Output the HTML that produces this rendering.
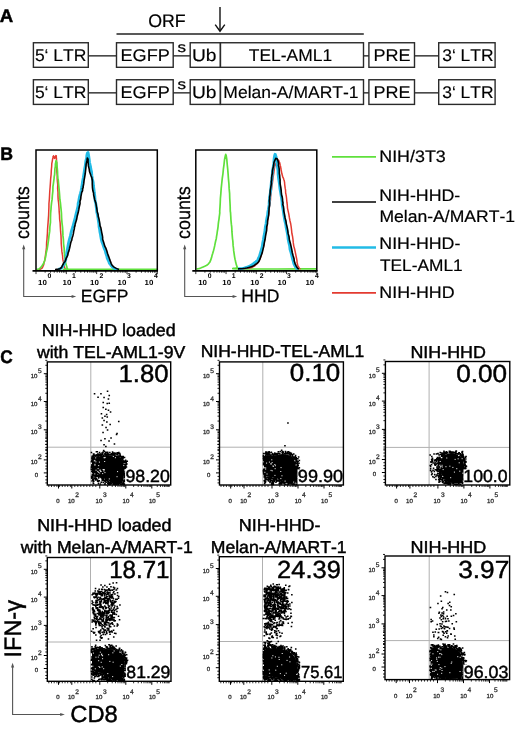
<!DOCTYPE html>
<html><head><meta charset="utf-8"><title>Figure</title>
<style>
html,body{margin:0;padding:0;background:#fff;}
body{width:520px;height:729px;overflow:hidden;}
svg{display:block;font-family:"Liberation Sans", sans-serif;text-rendering:geometricPrecision;font-kerning:none;will-change:transform;}
</style></head><body>
<svg width="520" height="729" viewBox="0 0 520 729">
<rect x="0" y="0" width="520" height="729" fill="#fff"/>
<text x="-0.16" y="21.70" font-size="18.20" font-weight="bold" fill="#000" stroke="#000" stroke-width="0.45" textLength="13.46" lengthAdjust="spacingAndGlyphs">A</text>
<text x="148.26" y="27.00" font-size="18.19" fill="#000" stroke="#000" stroke-width="0.20" textLength="37.45" lengthAdjust="spacingAndGlyphs">ORF</text>
<line x1="220.00" y1="6.90" x2="220.00" y2="30.50" stroke="#111" stroke-width="1.40"/>
<path d="M215.2 24.6 L220 31.2 L224.8 24.6" stroke="#111" stroke-width="1.4" fill="none"/>
<line x1="116.50" y1="34.00" x2="363.80" y2="34.00" stroke="#222" stroke-width="1.30"/>
<rect x="33.40" y="42.75" width="54.90" height="24.55" stroke="#2a2a2a" stroke-width="1.40" fill="none"/>
<rect x="116.50" y="42.75" width="56.70" height="24.55" stroke="#2a2a2a" stroke-width="1.40" fill="none"/>
<rect x="190.20" y="42.75" width="30.20" height="24.55" stroke="#2a2a2a" stroke-width="1.40" fill="none"/>
<rect x="220.40" y="42.75" width="143.10" height="24.55" stroke="#2a2a2a" stroke-width="1.40" fill="none"/>
<rect x="368.90" y="42.75" width="45.60" height="24.55" stroke="#2a2a2a" stroke-width="1.40" fill="none"/>
<rect x="438.70" y="42.75" width="56.40" height="24.55" stroke="#2a2a2a" stroke-width="1.40" fill="none"/>
<line x1="88.30" y1="55.85" x2="116.50" y2="55.85" stroke="#2a2a2a" stroke-width="1.40"/>
<line x1="173.20" y1="55.85" x2="190.20" y2="55.85" stroke="#2a2a2a" stroke-width="1.40"/>
<line x1="363.50" y1="55.85" x2="368.90" y2="55.85" stroke="#2a2a2a" stroke-width="1.40"/>
<line x1="414.50" y1="55.85" x2="438.70" y2="55.85" stroke="#2a2a2a" stroke-width="1.40"/>
<text x="34.90" y="60.60" font-size="17.00" fill="#000" stroke="#000" stroke-width="0.15" textLength="51.51" lengthAdjust="spacingAndGlyphs">5‘ LTR</text>
<text x="120.51" y="60.60" font-size="17.00" fill="#000" stroke="#000" stroke-width="0.15" textLength="49.34" lengthAdjust="spacingAndGlyphs">EGFP</text>
<text x="191.92" y="60.60" font-size="17.00" fill="#000" stroke="#000" stroke-width="0.15" textLength="24.59" lengthAdjust="spacingAndGlyphs">Ub</text>
<text x="248.81" y="60.60" font-size="17.00" fill="#000" stroke="#000" stroke-width="0.15" textLength="83.34" lengthAdjust="spacingAndGlyphs">TEL-AML1</text>
<text x="373.42" y="60.60" font-size="17.00" fill="#000" stroke="#000" stroke-width="0.15" textLength="37.05" lengthAdjust="spacingAndGlyphs">PRE</text>
<text x="442.24" y="60.60" font-size="17.00" fill="#000" stroke="#000" stroke-width="0.15" textLength="51.27" lengthAdjust="spacingAndGlyphs">3‘ LTR</text>
<text x="177.53" y="51.70" font-size="14.54" fill="#000" stroke="#000" stroke-width="0.25" textLength="8.49" lengthAdjust="spacingAndGlyphs">s</text>
<rect x="33.40" y="79.75" width="54.90" height="24.65" stroke="#2a2a2a" stroke-width="1.40" fill="none"/>
<rect x="116.50" y="79.75" width="56.70" height="24.65" stroke="#2a2a2a" stroke-width="1.40" fill="none"/>
<rect x="190.20" y="79.75" width="30.20" height="24.65" stroke="#2a2a2a" stroke-width="1.40" fill="none"/>
<rect x="220.40" y="79.75" width="143.10" height="24.65" stroke="#2a2a2a" stroke-width="1.40" fill="none"/>
<rect x="368.90" y="79.75" width="45.60" height="24.65" stroke="#2a2a2a" stroke-width="1.40" fill="none"/>
<rect x="438.70" y="79.75" width="56.40" height="24.65" stroke="#2a2a2a" stroke-width="1.40" fill="none"/>
<line x1="88.30" y1="92.85" x2="116.50" y2="92.85" stroke="#2a2a2a" stroke-width="1.40"/>
<line x1="173.20" y1="92.85" x2="190.20" y2="92.85" stroke="#2a2a2a" stroke-width="1.40"/>
<line x1="363.50" y1="92.85" x2="368.90" y2="92.85" stroke="#2a2a2a" stroke-width="1.40"/>
<line x1="414.50" y1="92.85" x2="438.70" y2="92.85" stroke="#2a2a2a" stroke-width="1.40"/>
<text x="34.90" y="97.60" font-size="17.00" fill="#000" stroke="#000" stroke-width="0.15" textLength="51.51" lengthAdjust="spacingAndGlyphs">5‘ LTR</text>
<text x="120.51" y="97.60" font-size="17.00" fill="#000" stroke="#000" stroke-width="0.15" textLength="49.34" lengthAdjust="spacingAndGlyphs">EGFP</text>
<text x="191.92" y="97.60" font-size="17.00" fill="#000" stroke="#000" stroke-width="0.15" textLength="24.59" lengthAdjust="spacingAndGlyphs">Ub</text>
<text x="223.36" y="97.60" font-size="17.00" fill="#000" stroke="#000" stroke-width="0.15" textLength="135.19" lengthAdjust="spacingAndGlyphs">Melan-A/MART-1</text>
<text x="373.42" y="97.60" font-size="17.00" fill="#000" stroke="#000" stroke-width="0.15" textLength="37.05" lengthAdjust="spacingAndGlyphs">PRE</text>
<text x="442.24" y="97.60" font-size="17.00" fill="#000" stroke="#000" stroke-width="0.15" textLength="51.27" lengthAdjust="spacingAndGlyphs">3‘ LTR</text>
<text x="177.53" y="88.70" font-size="14.54" fill="#000" stroke="#000" stroke-width="0.25" textLength="8.49" lengthAdjust="spacingAndGlyphs">s</text>
<text x="0.22" y="159.60" font-size="18.20" font-weight="bold" fill="#000" stroke="#000" stroke-width="0.45" textLength="12.79" lengthAdjust="spacingAndGlyphs">B</text>
<path d="M39.00 269.40 L39.14 269.40 L39.34 269.41 L39.62 269.36 L40.00 269.20 L40.53 268.99 L41.19 268.74 L41.88 268.30 L42.50 267.50 L43.05 266.26 L43.71 264.80 L43.93 262.75 L44.60 261.07 L44.93 259.03 L45.24 257.09 L45.54 254.80 L45.78 252.57 L46.14 250.29 L46.47 247.54 L46.55 244.73 L46.66 241.86 L47.00 239.11 L47.17 236.39 L47.41 233.26 L47.52 229.86 L47.77 226.37 L48.06 222.87 L48.34 218.77 L48.62 215.09 L48.75 211.28 L48.91 207.37 L48.95 203.51 L49.34 199.30 L49.54 195.42 L49.76 191.27 L50.09 187.25 L50.40 183.10 L50.66 178.80 L51.13 174.21 L51.33 170.16 L51.67 166.50 L51.78 163.73 L52.18 161.54 L52.48 159.86 L52.72 158.44 L52.96 157.39 L53.05 156.49 L53.31 156.00 L53.44 155.71 L53.76 156.36 L54.06 157.04 L54.40 158.16 L54.72 158.41 L55.02 157.87 L55.38 156.88 L55.62 156.06 L55.88 155.61 L56.32 155.93 L56.28 156.98 L56.46 158.26 L56.46 159.96 L56.61 162.49 L56.67 165.60 L56.75 168.82 L56.86 171.93 L57.23 175.04 L57.19 178.41 L57.40 181.49 L57.75 184.90 L57.62 188.50 L57.97 192.30 L57.99 195.84 L58.16 199.38 L58.59 202.69 L58.85 205.74 L59.06 208.79 L59.19 211.92 L59.51 215.48 L59.62 219.21 L60.13 222.94 L60.33 226.97 L60.58 231.17 L61.00 235.74 L61.17 240.17 L61.26 244.02 L61.53 246.93 L61.72 249.52 L61.96 251.92 L62.30 254.15 L62.65 256.14 L62.66 257.76 L62.89 259.45 L63.24 261.09 L63.52 262.48 L63.71 264.04 L63.86 265.23 L64.30 266.50 L64.59 267.38 L64.88 268.06 L65.18 268.59 L65.50 269.00 L65.89 269.28 L66.33 269.41 L66.72 269.46 L67.00 269.50" stroke="#e33a30" stroke-width="1.50" fill="none" stroke-linejoin="round"/>
<path d="M36.50 269.40 L36.68 269.41 L36.94 269.44 L37.27 269.42 L37.70 269.30 L38.21 269.17 L38.81 269.03 L39.50 268.67 L40.30 267.90 L41.26 266.80 L42.24 265.53 L43.55 263.49 L44.50 260.98 L45.48 257.55 L46.21 252.99 L47.26 248.47 L47.98 243.85 L48.53 239.83 L49.02 235.66 L49.70 231.14 L49.86 227.01 L50.46 222.45 L50.48 217.80 L50.63 213.28 L50.98 209.50 L51.16 206.52 L51.39 204.37 L51.66 202.05 L52.10 199.42 L52.37 195.46 L52.84 191.20 L52.95 186.63 L53.47 183.06 L53.83 180.39 L54.07 178.54 L54.18 176.78 L54.61 174.80 L54.77 172.05 L54.89 168.96 L55.36 166.19 L55.40 164.01 L55.76 162.55 L55.83 161.46 L56.03 160.97 L56.21 160.67 L56.37 160.75 L56.41 161.54 L56.87 162.53 L56.87 163.90 L57.07 166.36 L57.32 169.05 L57.53 171.94 L57.60 174.84 L57.80 176.74 L57.87 178.51 L58.28 180.26 L58.49 183.10 L58.87 186.75 L59.27 191.09 L59.63 195.53 L59.87 199.51 L60.33 202.10 L60.57 204.38 L60.78 206.56 L61.11 209.54 L61.44 213.35 L61.60 217.74 L61.97 222.51 L62.51 227.09 L62.80 231.38 L62.95 235.63 L63.40 239.64 L63.56 243.85 L64.16 248.40 L64.38 253.13 L64.89 257.29 L65.30 261.01 L65.79 263.63 L66.46 265.74 L66.94 267.31 L67.50 268.50 L66.12 269.21 L63.44 269.42 L63.42 269.39 L70.00 269.40 L87.85 269.46 L113.66 269.46 L139.39 269.42 L157.00 269.40" stroke="#5fe03c" stroke-width="1.70" fill="none" stroke-linejoin="round"/>
<path d="M58.00 269.50 L58.66 269.27 L59.62 268.94 L60.65 268.52 L61.50 268.00 L62.11 267.40 L62.59 266.72 L62.93 265.94 L63.45 265.04 L64.03 263.97 L64.26 263.45 L64.85 261.96 L65.70 259.99 L66.24 256.79 L66.81 252.61 L67.53 248.48 L68.31 244.10 L69.33 239.66 L70.44 235.64 L71.39 231.14 L72.75 226.99 L73.88 222.60 L75.14 217.90 L76.20 213.34 L77.18 209.47 L77.99 206.00 L78.12 203.46 L78.79 201.24 L79.05 198.92 L79.47 196.92 L79.88 195.26 L80.47 193.43 L81.07 190.77 L81.79 187.10 L82.42 182.36 L83.23 178.05 L83.96 173.53 L84.60 169.16 L85.37 165.04 L85.83 160.95 L86.64 158.20 L86.77 155.74 L87.23 153.66 L87.48 152.87 L88.05 152.52 L88.32 153.80 L88.75 156.33 L89.22 159.48 L89.50 162.20 L89.90 164.19 L90.51 166.52 L90.87 169.17 L91.54 171.86 L91.83 175.39 L92.46 179.00 L93.19 182.43 L93.48 186.01 L93.97 189.43 L94.30 192.80 L94.81 195.99 L94.97 199.09 L95.26 201.56 L95.91 204.01 L96.11 206.16 L96.47 209.03 L96.78 212.16 L97.55 215.32 L98.07 218.88 L98.57 221.94 L98.98 224.81 L99.06 227.01 L99.67 229.76 L99.90 231.98 L100.47 234.45 L100.84 236.99 L101.35 239.61 L101.92 241.95 L102.83 244.13 L103.58 246.64 L104.32 248.65 L105.32 250.90 L105.80 253.35 L106.69 255.67 L107.22 258.10 L108.13 260.18 L108.87 261.72 L109.40 263.30 L110.37 264.42 L110.89 265.35 L111.82 266.44 L112.66 267.22 L113.53 267.86 L114.40 268.40 L115.37 268.81 L116.41 269.08 L117.35 269.26 L118.00 269.40" stroke="#22bbe6" stroke-width="2.80" fill="none" stroke-linejoin="round"/>
<path d="M55.00 269.50 L55.54 269.47 L56.31 269.42 L57.18 269.35 L58.00 269.20 L58.75 269.06 L59.49 268.91 L60.24 268.60 L61.00 268.00 L61.78 266.97 L62.46 265.43 L63.32 263.99 L63.88 262.75 L64.97 261.74 L65.51 260.27 L65.98 259.12 L66.34 257.80 L66.84 256.98 L67.58 255.69 L67.99 254.04 L68.20 252.66 L68.94 250.84 L69.57 248.26 L70.00 246.27 L70.50 243.84 L71.02 241.78 L71.77 240.21 L72.10 237.96 L72.80 236.04 L73.34 233.88 L73.73 231.22 L74.31 228.90 L74.53 226.90 L75.11 225.60 L74.85 225.24 L75.12 224.41 L75.59 222.72 L76.54 219.85 L77.16 216.28 L78.20 212.56 L78.83 209.42 L79.35 206.48 L80.05 203.63 L79.99 201.23 L80.73 199.06 L80.91 196.59 L81.34 194.40 L81.70 192.47 L82.50 190.83 L82.67 189.67 L82.48 188.62 L83.14 188.01 L83.16 186.52 L83.70 183.92 L84.07 180.43 L84.72 176.89 L85.24 173.73 L85.75 168.99 L86.15 164.19 L87.04 160.16 L87.30 158.00 L88.07 159.14 L88.07 162.04 L88.40 165.92 L89.19 169.12 L89.49 171.50 L90.30 173.69 L90.93 175.45 L91.84 177.75 L92.35 180.79 L92.28 184.16 L92.45 187.57 L92.87 190.79 L93.57 193.06 L93.62 195.10 L94.16 197.03 L94.57 199.18 L94.86 200.37 L95.55 201.98 L95.89 203.28 L96.20 205.08 L96.58 207.20 L96.92 209.20 L97.27 212.01 L98.10 214.41 L98.27 216.58 L98.95 218.87 L99.40 221.11 L99.78 223.49 L100.05 225.91 L100.88 227.79 L101.37 230.53 L101.68 232.37 L102.22 234.71 L102.65 237.28 L102.63 239.33 L103.47 241.83 L104.22 244.31 L104.77 246.15 L105.98 248.46 L106.79 250.81 L107.56 253.53 L108.41 255.86 L109.22 258.01 L109.89 260.12 L110.70 262.04 L111.15 263.37 L111.61 264.38 L112.65 265.69 L113.49 266.61 L114.46 267.33 L115.42 267.91 L116.30 268.40 L117.11 268.79 L117.88 269.07 L118.54 269.26 L119.00 269.40" stroke="#000" stroke-width="1.60" fill="none" stroke-linejoin="round"/>
<path d="M36.00 270.90 L36.00 150.00 L157.30 150.00 L157.30 270.90" stroke="#000" stroke-width="1.5" fill="none"/>
<line x1="32.50" y1="270.90" x2="158.00" y2="270.90" stroke="#000" stroke-width="1.60"/>
<line x1="36.00" y1="270.90" x2="36.00" y2="274.10" stroke="#000" stroke-width="0.80"/>
<line x1="45.13" y1="270.90" x2="45.13" y2="272.70" stroke="#000" stroke-width="0.80"/>
<line x1="50.47" y1="270.90" x2="50.47" y2="272.70" stroke="#000" stroke-width="0.80"/>
<line x1="54.26" y1="270.90" x2="54.26" y2="272.70" stroke="#000" stroke-width="0.80"/>
<line x1="57.20" y1="270.90" x2="57.20" y2="272.70" stroke="#000" stroke-width="0.80"/>
<line x1="59.60" y1="270.90" x2="59.60" y2="272.70" stroke="#000" stroke-width="0.80"/>
<line x1="61.63" y1="270.90" x2="61.63" y2="272.70" stroke="#000" stroke-width="0.80"/>
<line x1="63.39" y1="270.90" x2="63.39" y2="272.70" stroke="#000" stroke-width="0.80"/>
<line x1="64.94" y1="270.90" x2="64.94" y2="272.70" stroke="#000" stroke-width="0.80"/>
<line x1="66.33" y1="270.90" x2="66.33" y2="274.10" stroke="#000" stroke-width="0.80"/>
<line x1="75.45" y1="270.90" x2="75.45" y2="272.70" stroke="#000" stroke-width="0.80"/>
<line x1="80.79" y1="270.90" x2="80.79" y2="272.70" stroke="#000" stroke-width="0.80"/>
<line x1="84.58" y1="270.90" x2="84.58" y2="272.70" stroke="#000" stroke-width="0.80"/>
<line x1="87.52" y1="270.90" x2="87.52" y2="272.70" stroke="#000" stroke-width="0.80"/>
<line x1="89.92" y1="270.90" x2="89.92" y2="272.70" stroke="#000" stroke-width="0.80"/>
<line x1="91.95" y1="270.90" x2="91.95" y2="272.70" stroke="#000" stroke-width="0.80"/>
<line x1="93.71" y1="270.90" x2="93.71" y2="272.70" stroke="#000" stroke-width="0.80"/>
<line x1="95.26" y1="270.90" x2="95.26" y2="272.70" stroke="#000" stroke-width="0.80"/>
<line x1="96.65" y1="270.90" x2="96.65" y2="274.10" stroke="#000" stroke-width="0.80"/>
<line x1="105.78" y1="270.90" x2="105.78" y2="272.70" stroke="#000" stroke-width="0.80"/>
<line x1="111.12" y1="270.90" x2="111.12" y2="272.70" stroke="#000" stroke-width="0.80"/>
<line x1="114.91" y1="270.90" x2="114.91" y2="272.70" stroke="#000" stroke-width="0.80"/>
<line x1="117.85" y1="270.90" x2="117.85" y2="272.70" stroke="#000" stroke-width="0.80"/>
<line x1="120.25" y1="270.90" x2="120.25" y2="272.70" stroke="#000" stroke-width="0.80"/>
<line x1="122.28" y1="270.90" x2="122.28" y2="272.70" stroke="#000" stroke-width="0.80"/>
<line x1="124.04" y1="270.90" x2="124.04" y2="272.70" stroke="#000" stroke-width="0.80"/>
<line x1="125.59" y1="270.90" x2="125.59" y2="272.70" stroke="#000" stroke-width="0.80"/>
<line x1="126.98" y1="270.90" x2="126.98" y2="274.10" stroke="#000" stroke-width="0.80"/>
<line x1="136.10" y1="270.90" x2="136.10" y2="272.70" stroke="#000" stroke-width="0.80"/>
<line x1="141.44" y1="270.90" x2="141.44" y2="272.70" stroke="#000" stroke-width="0.80"/>
<line x1="145.23" y1="270.90" x2="145.23" y2="272.70" stroke="#000" stroke-width="0.80"/>
<line x1="148.17" y1="270.90" x2="148.17" y2="272.70" stroke="#000" stroke-width="0.80"/>
<line x1="150.57" y1="270.90" x2="150.57" y2="272.70" stroke="#000" stroke-width="0.80"/>
<line x1="152.60" y1="270.90" x2="152.60" y2="272.70" stroke="#000" stroke-width="0.80"/>
<line x1="154.36" y1="270.90" x2="154.36" y2="272.70" stroke="#000" stroke-width="0.80"/>
<line x1="155.91" y1="270.90" x2="155.91" y2="272.70" stroke="#000" stroke-width="0.80"/>
<line x1="157.30" y1="270.90" x2="157.30" y2="274.10" stroke="#000" stroke-width="0.80"/>
<text x="38.10" y="285.10" font-size="7.40" font-weight="bold" fill="#000" text-anchor="start" textLength="8.80" lengthAdjust="spacingAndGlyphs">10</text>
<text x="47.60" y="278.40" font-size="6.80" font-weight="bold" fill="#000" text-anchor="start">0</text>
<text x="62.50" y="285.10" font-size="7.40" font-weight="bold" fill="#000" text-anchor="start" textLength="8.80" lengthAdjust="spacingAndGlyphs">10</text>
<text x="72.00" y="278.40" font-size="6.80" font-weight="bold" fill="#000" text-anchor="start">1</text>
<text x="90.10" y="285.10" font-size="7.40" font-weight="bold" fill="#000" text-anchor="start" textLength="8.80" lengthAdjust="spacingAndGlyphs">10</text>
<text x="99.60" y="278.40" font-size="6.80" font-weight="bold" fill="#000" text-anchor="start">2</text>
<text x="117.60" y="285.10" font-size="7.40" font-weight="bold" fill="#000" text-anchor="start" textLength="8.80" lengthAdjust="spacingAndGlyphs">10</text>
<text x="127.10" y="278.40" font-size="6.80" font-weight="bold" fill="#000" text-anchor="start">3</text>
<text x="144.60" y="285.10" font-size="7.40" font-weight="bold" fill="#000" text-anchor="start" textLength="8.80" lengthAdjust="spacingAndGlyphs">10</text>
<text x="154.10" y="278.40" font-size="6.80" font-weight="bold" fill="#000" text-anchor="start">4</text>
<text x="80.76" y="302.30" font-size="17.76" fill="#000" stroke="#000" stroke-width="0.25" textLength="47.66" lengthAdjust="spacingAndGlyphs">EGFP</text>
<text transform="translate(28.60 238.96) rotate(-90)" font-size="19.34" fill="#000" stroke="#000" stroke-width="0.25" textLength="52.71" lengthAdjust="spacingAndGlyphs">counts</text>
<path d="M23.70 247.5 L23.70 296.5 L72.70 296.5" stroke="#555" stroke-width="1.1" fill="none"/>
<path d="M23.70 244.6 L22.10 249.2 L25.30 249.2 Z" fill="#555"/>
<path d="M76.20 296.5 L71.60 294.9 L71.60 298.1 Z" fill="#555"/>
<path d="M196.50 268.90 L196.72 268.91 L197.01 268.93 L197.43 268.91 L198.00 268.80 L198.74 268.60 L199.64 268.33 L200.66 267.97 L201.80 267.50 L203.16 266.91 L204.71 266.21 L206.25 265.47 L207.56 264.69 L208.48 263.89 L209.06 262.99 L209.86 262.08 L210.48 260.72 L211.03 259.14 L211.64 257.33 L212.11 255.19 L212.76 253.18 L213.47 250.77 L214.10 248.35 L214.67 245.88 L215.10 243.57 L215.65 241.02 L216.27 238.72 L216.56 236.31 L217.01 233.84 L217.30 231.48 L217.72 229.09 L218.07 226.56 L218.27 224.13 L218.58 221.67 L218.97 219.30 L219.25 216.89 L219.57 214.56 L219.78 212.81 L219.71 211.35 L219.81 209.53 L220.00 206.90 L220.21 203.23 L220.39 198.54 L220.85 193.45 L221.20 188.41 L221.70 183.72 L222.23 178.68 L222.92 173.82 L223.37 169.17 L224.00 164.52 L224.53 159.66 L225.29 155.90 L225.71 154.39 L226.24 155.79 L226.83 159.70 L227.23 164.55 L227.71 169.16 L228.08 173.67 L228.42 178.55 L228.91 183.73 L229.13 188.41 L229.60 193.44 L229.75 198.43 L230.02 203.23 L230.19 206.98 L230.24 209.70 L230.32 211.35 L230.55 212.74 L230.65 214.69 L230.80 216.92 L230.90 219.26 L231.13 221.82 L231.36 224.19 L231.68 226.67 L231.84 228.98 L231.91 231.44 L232.10 233.76 L232.29 236.15 L232.51 238.75 L232.86 241.11 L233.00 243.47 L233.15 245.91 L233.53 248.50 L233.69 250.89 L234.05 253.14 L234.36 255.30 L234.67 257.35 L235.02 259.19 L235.45 260.84 L235.64 262.13 L235.96 263.02 L236.07 263.81 L236.35 264.63 L236.62 265.49 L236.84 266.20 L237.06 266.90 L237.30 267.50 L235.79 267.99 L233.11 268.38 L232.83 268.68 L238.50 268.90 L254.33 269.00 L277.32 268.99 L300.29 268.93 L316.00 268.90" stroke="#5fe03c" stroke-width="1.70" fill="none" stroke-linejoin="round"/>
<path d="M242.00 268.90 L243.51 268.78 L245.69 268.61 L248.02 268.36 L250.00 268.00 L251.48 267.53 L252.75 266.98 L253.89 266.30 L255.09 265.60 L256.09 264.55 L256.98 263.71 L258.08 262.57 L258.96 261.08 L259.76 259.23 L260.66 256.94 L261.32 254.62 L261.91 252.02 L262.76 249.14 L263.40 246.24 L264.03 243.02 L264.38 240.09 L265.13 237.01 L265.42 233.97 L266.06 231.01 L266.64 228.03 L266.90 224.84 L267.43 221.63 L268.07 218.21 L268.44 215.06 L268.92 212.10 L269.08 208.96 L269.64 205.99 L270.03 202.88 L270.50 199.80 L270.64 196.55 L271.07 193.11 L271.50 189.89 L271.78 187.04 L272.28 183.79 L272.67 180.83 L272.95 178.12 L273.50 174.78 L273.93 171.53 L274.38 168.66 L274.87 165.98 L275.59 164.13 L276.18 162.72 L276.69 161.91 L277.05 161.12 L277.38 160.54 L277.85 160.18 L278.08 160.18 L278.37 160.08 L278.77 160.32 L278.97 160.82 L279.13 161.12 L279.39 162.03 L279.72 162.87 L280.00 164.21 L280.21 165.40 L280.71 167.03 L280.91 168.97 L281.41 171.17 L281.82 173.52 L282.39 175.45 L282.79 177.06 L283.33 177.99 L283.67 178.95 L283.97 180.00 L284.35 181.06 L284.39 181.60 L284.60 182.56 L284.66 184.08 L284.89 185.90 L285.18 188.16 L285.56 190.22 L285.61 192.73 L286.02 194.72 L286.40 196.99 L286.63 198.99 L286.78 200.96 L286.96 202.75 L287.20 204.12 L287.35 205.76 L287.48 208.04 L288.10 210.89 L288.81 214.05 L289.36 217.49 L289.98 220.74 L290.74 224.00 L291.21 227.04 L291.60 230.32 L291.89 233.53 L292.58 236.53 L292.99 239.68 L293.31 242.90 L293.77 246.09 L294.68 249.28 L295.38 252.68 L296.04 255.99 L296.64 258.78 L297.01 260.74 L297.03 262.59 L297.44 263.82 L297.56 264.90 L298.10 266.09 L298.56 267.00 L299.01 267.73 L299.40 268.30 L299.74 268.65 L300.06 268.81 L300.32 268.86 L300.50 268.90" stroke="#e33a30" stroke-width="1.50" fill="none" stroke-linejoin="round"/>
<path d="M238.00 268.90 L239.08 268.76 L240.62 268.57 L242.36 268.32 L244.00 268.00 L245.52 267.61 L247.06 267.16 L248.57 266.63 L250.00 266.00 L251.29 265.10 L252.72 264.19 L253.90 263.37 L254.82 262.50 L255.77 261.78 L256.60 261.07 L257.53 260.50 L258.25 258.69 L259.41 256.41 L260.40 252.91 L261.54 249.22 L262.34 245.92 L262.75 242.69 L263.39 239.82 L263.85 236.58 L264.56 233.35 L265.04 230.02 L265.36 226.84 L266.09 223.74 L266.43 220.73 L266.96 217.70 L267.57 215.04 L267.79 212.26 L268.31 209.75 L268.73 207.14 L269.11 204.89 L269.16 202.85 L269.36 200.00 L269.66 196.70 L270.32 192.87 L270.75 188.80 L271.08 185.04 L271.47 181.16 L272.03 177.49 L272.35 173.60 L272.62 170.08 L273.29 166.79 L273.78 163.21 L274.00 160.41 L274.21 157.98 L274.55 156.12 L274.75 155.15 L275.00 154.27 L275.36 154.45 L275.52 155.01 L276.02 156.63 L276.44 158.41 L276.51 159.97 L276.79 161.58 L277.25 162.65 L277.18 164.41 L277.49 166.99 L277.99 170.45 L278.16 174.84 L278.75 179.54 L279.48 184.08 L279.91 188.51 L280.65 192.88 L281.41 197.49 L281.95 201.12 L282.13 203.51 L282.27 205.38 L282.50 206.78 L282.88 208.86 L283.37 211.46 L283.73 214.42 L284.30 217.56 L284.81 220.85 L285.60 223.67 L286.04 226.93 L286.67 230.06 L287.44 233.60 L287.82 236.55 L288.19 239.53 L288.83 242.74 L289.63 245.86 L290.03 249.52 L291.02 252.66 L291.82 255.87 L292.51 258.99 L293.22 260.96 L293.47 262.44 L293.89 263.92 L294.51 265.11 L295.01 266.09 L295.53 267.00 L296.04 267.73 L296.50 268.30 L296.95 268.65 L297.38 268.81 L297.74 268.86 L298.00 268.90" stroke="#22bbe6" stroke-width="2.80" fill="none" stroke-linejoin="round"/>
<path d="M238.00 268.90 L239.26 268.82 L241.06 268.72 L243.09 268.56 L245.00 268.30 L246.81 267.93 L248.66 267.48 L250.43 266.95 L252.00 266.40 L253.18 266.09 L254.26 265.40 L255.28 264.51 L256.75 263.65 L257.57 262.88 L258.43 261.93 L259.23 260.82 L260.09 258.67 L261.01 256.03 L262.16 253.08 L263.05 249.18 L263.78 246.25 L264.32 242.90 L265.01 239.77 L265.46 236.65 L266.00 233.47 L266.66 230.24 L266.71 226.74 L267.52 223.76 L267.55 220.92 L268.16 217.87 L268.73 214.79 L268.84 212.35 L269.02 209.73 L269.15 207.36 L269.49 205.36 L269.59 203.08 L269.35 200.83 L269.68 198.90 L269.65 197.00 L270.08 194.81 L270.16 192.47 L270.28 190.38 L270.63 188.27 L270.92 186.31 L271.40 183.84 L271.34 181.70 L271.66 179.98 L271.62 177.76 L271.90 175.26 L272.42 173.25 L272.44 171.09 L272.82 168.94 L273.27 166.96 L273.71 165.02 L273.84 163.14 L274.22 161.77 L274.73 160.65 L275.18 159.68 L275.79 158.72 L275.68 158.40 L276.24 158.54 L276.81 158.65 L277.31 159.00 L277.62 159.88 L277.99 160.77 L278.34 162.33 L278.64 163.67 L278.49 165.48 L278.87 166.79 L279.18 168.95 L279.32 170.92 L279.33 173.36 L279.68 175.31 L279.82 177.74 L280.09 179.73 L280.07 181.80 L280.16 183.85 L280.51 185.95 L280.92 188.41 L281.15 190.22 L281.33 192.57 L281.52 194.97 L282.20 196.87 L282.51 198.82 L282.56 201.01 L283.02 202.90 L282.80 204.57 L283.42 206.44 L283.71 208.74 L283.81 211.11 L284.52 214.51 L285.03 217.73 L285.88 220.71 L286.36 224.07 L287.07 226.92 L287.73 230.07 L288.13 233.63 L289.00 236.46 L289.36 239.75 L290.28 242.93 L291.02 246.11 L291.73 249.39 L292.32 252.76 L293.19 256.07 L294.07 258.68 L294.24 261.00 L294.81 262.45 L295.16 263.97 L295.69 264.90 L296.29 266.09 L296.79 267.00 L297.27 267.73 L297.70 268.30 L298.10 268.65 L298.47 268.81 L298.78 268.86 L299.00 268.90" stroke="#000" stroke-width="1.60" fill="none" stroke-linejoin="round"/>
<path d="M195.80 270.90 L195.80 150.00 L316.80 150.00 L316.80 270.90" stroke="#000" stroke-width="1.5" fill="none"/>
<line x1="192.30" y1="270.90" x2="317.50" y2="270.90" stroke="#000" stroke-width="1.60"/>
<line x1="195.80" y1="270.90" x2="195.80" y2="274.10" stroke="#000" stroke-width="0.80"/>
<line x1="204.91" y1="270.90" x2="204.91" y2="272.70" stroke="#000" stroke-width="0.80"/>
<line x1="210.23" y1="270.90" x2="210.23" y2="272.70" stroke="#000" stroke-width="0.80"/>
<line x1="214.01" y1="270.90" x2="214.01" y2="272.70" stroke="#000" stroke-width="0.80"/>
<line x1="216.94" y1="270.90" x2="216.94" y2="272.70" stroke="#000" stroke-width="0.80"/>
<line x1="219.34" y1="270.90" x2="219.34" y2="272.70" stroke="#000" stroke-width="0.80"/>
<line x1="221.36" y1="270.90" x2="221.36" y2="272.70" stroke="#000" stroke-width="0.80"/>
<line x1="223.12" y1="270.90" x2="223.12" y2="272.70" stroke="#000" stroke-width="0.80"/>
<line x1="224.67" y1="270.90" x2="224.67" y2="272.70" stroke="#000" stroke-width="0.80"/>
<line x1="226.05" y1="270.90" x2="226.05" y2="274.10" stroke="#000" stroke-width="0.80"/>
<line x1="235.16" y1="270.90" x2="235.16" y2="272.70" stroke="#000" stroke-width="0.80"/>
<line x1="240.48" y1="270.90" x2="240.48" y2="272.70" stroke="#000" stroke-width="0.80"/>
<line x1="244.26" y1="270.90" x2="244.26" y2="272.70" stroke="#000" stroke-width="0.80"/>
<line x1="247.19" y1="270.90" x2="247.19" y2="272.70" stroke="#000" stroke-width="0.80"/>
<line x1="249.59" y1="270.90" x2="249.59" y2="272.70" stroke="#000" stroke-width="0.80"/>
<line x1="251.61" y1="270.90" x2="251.61" y2="272.70" stroke="#000" stroke-width="0.80"/>
<line x1="253.37" y1="270.90" x2="253.37" y2="272.70" stroke="#000" stroke-width="0.80"/>
<line x1="254.92" y1="270.90" x2="254.92" y2="272.70" stroke="#000" stroke-width="0.80"/>
<line x1="256.30" y1="270.90" x2="256.30" y2="274.10" stroke="#000" stroke-width="0.80"/>
<line x1="265.41" y1="270.90" x2="265.41" y2="272.70" stroke="#000" stroke-width="0.80"/>
<line x1="270.73" y1="270.90" x2="270.73" y2="272.70" stroke="#000" stroke-width="0.80"/>
<line x1="274.51" y1="270.90" x2="274.51" y2="272.70" stroke="#000" stroke-width="0.80"/>
<line x1="277.44" y1="270.90" x2="277.44" y2="272.70" stroke="#000" stroke-width="0.80"/>
<line x1="279.84" y1="270.90" x2="279.84" y2="272.70" stroke="#000" stroke-width="0.80"/>
<line x1="281.86" y1="270.90" x2="281.86" y2="272.70" stroke="#000" stroke-width="0.80"/>
<line x1="283.62" y1="270.90" x2="283.62" y2="272.70" stroke="#000" stroke-width="0.80"/>
<line x1="285.17" y1="270.90" x2="285.17" y2="272.70" stroke="#000" stroke-width="0.80"/>
<line x1="286.55" y1="270.90" x2="286.55" y2="274.10" stroke="#000" stroke-width="0.80"/>
<line x1="295.66" y1="270.90" x2="295.66" y2="272.70" stroke="#000" stroke-width="0.80"/>
<line x1="300.98" y1="270.90" x2="300.98" y2="272.70" stroke="#000" stroke-width="0.80"/>
<line x1="304.76" y1="270.90" x2="304.76" y2="272.70" stroke="#000" stroke-width="0.80"/>
<line x1="307.69" y1="270.90" x2="307.69" y2="272.70" stroke="#000" stroke-width="0.80"/>
<line x1="310.09" y1="270.90" x2="310.09" y2="272.70" stroke="#000" stroke-width="0.80"/>
<line x1="312.11" y1="270.90" x2="312.11" y2="272.70" stroke="#000" stroke-width="0.80"/>
<line x1="313.87" y1="270.90" x2="313.87" y2="272.70" stroke="#000" stroke-width="0.80"/>
<line x1="315.42" y1="270.90" x2="315.42" y2="272.70" stroke="#000" stroke-width="0.80"/>
<line x1="316.80" y1="270.90" x2="316.80" y2="274.10" stroke="#000" stroke-width="0.80"/>
<text x="198.20" y="285.10" font-size="7.40" font-weight="bold" fill="#000" text-anchor="start" textLength="8.80" lengthAdjust="spacingAndGlyphs">10</text>
<text x="207.70" y="278.40" font-size="6.80" font-weight="bold" fill="#000" text-anchor="start">0</text>
<text x="222.30" y="285.10" font-size="7.40" font-weight="bold" fill="#000" text-anchor="start" textLength="8.80" lengthAdjust="spacingAndGlyphs">10</text>
<text x="231.80" y="278.40" font-size="6.80" font-weight="bold" fill="#000" text-anchor="start">1</text>
<text x="250.30" y="285.10" font-size="7.40" font-weight="bold" fill="#000" text-anchor="start" textLength="8.80" lengthAdjust="spacingAndGlyphs">10</text>
<text x="259.80" y="278.40" font-size="6.80" font-weight="bold" fill="#000" text-anchor="start">2</text>
<text x="277.60" y="285.10" font-size="7.40" font-weight="bold" fill="#000" text-anchor="start" textLength="8.80" lengthAdjust="spacingAndGlyphs">10</text>
<text x="287.10" y="278.40" font-size="6.80" font-weight="bold" fill="#000" text-anchor="start">3</text>
<text x="305.40" y="285.10" font-size="7.40" font-weight="bold" fill="#000" text-anchor="start" textLength="8.80" lengthAdjust="spacingAndGlyphs">10</text>
<text x="314.90" y="278.40" font-size="6.80" font-weight="bold" fill="#000" text-anchor="start">4</text>
<text x="241.26" y="302.30" font-size="18.02" fill="#000" stroke="#000" stroke-width="0.25" textLength="38.08" lengthAdjust="spacingAndGlyphs">HHD</text>
<text transform="translate(189.60 238.96) rotate(-90)" font-size="19.34" fill="#000" stroke="#000" stroke-width="0.25" textLength="52.71" lengthAdjust="spacingAndGlyphs">counts</text>
<path d="M184.70 247.5 L184.70 296.5 L233.70 296.5" stroke="#555" stroke-width="1.1" fill="none"/>
<path d="M184.70 244.6 L183.10 249.2 L186.30 249.2 Z" fill="#555"/>
<path d="M237.20 296.5 L232.60 294.9 L232.60 298.1 Z" fill="#555"/>
<line x1="332.00" y1="156.80" x2="376.00" y2="156.80" stroke="#5fe03c" stroke-width="1.80"/>
<text x="379.23" y="162.20" font-size="16.60" fill="#000" stroke="#000" stroke-width="0.20" textLength="66.55" lengthAdjust="spacingAndGlyphs">NIH/3T3</text>
<line x1="332.00" y1="202.00" x2="376.00" y2="202.00" stroke="#000" stroke-width="1.70"/>
<text x="379.34" y="200.50" font-size="16.60" fill="#000" stroke="#000" stroke-width="0.20" textLength="80.95" lengthAdjust="spacingAndGlyphs">NIH-HHD-</text>
<text x="379.46" y="221.90" font-size="16.60" fill="#000" stroke="#000" stroke-width="0.20" textLength="135.60" lengthAdjust="spacingAndGlyphs">Melan-A/MART-1</text>
<line x1="332.00" y1="247.50" x2="376.00" y2="247.50" stroke="#22bbe6" stroke-width="2.70"/>
<text x="379.34" y="249.20" font-size="16.60" fill="#000" stroke="#000" stroke-width="0.20" textLength="81.05" lengthAdjust="spacingAndGlyphs">NIH-HHD-</text>
<text x="380.01" y="270.50" font-size="16.60" fill="#000" stroke="#000" stroke-width="0.20" textLength="82.73" lengthAdjust="spacingAndGlyphs">TEL-AML1</text>
<line x1="332.00" y1="292.80" x2="376.00" y2="292.80" stroke="#e33a30" stroke-width="1.80"/>
<text x="379.34" y="298.30" font-size="16.60" fill="#000" stroke="#000" stroke-width="0.20" textLength="75.32" lengthAdjust="spacingAndGlyphs">NIH-HHD</text>
<text x="0.19" y="363.30" font-size="18.20" font-weight="bold" fill="#000" stroke="#000" stroke-width="0.45" textLength="12.48" lengthAdjust="spacingAndGlyphs">C</text>
<text x="41.73" y="336.40" font-size="17.30" fill="#000" stroke="#000" stroke-width="0.45" textLength="134.02" lengthAdjust="spacingAndGlyphs">NIH-HHD loaded</text>
<text x="36.93" y="357.50" font-size="17.30" fill="#000" stroke="#000" stroke-width="0.45" textLength="148.35" lengthAdjust="spacingAndGlyphs">with TEL-AML1-9V</text>
<text x="200.66" y="357.00" font-size="17.30" fill="#000" stroke="#000" stroke-width="0.45" textLength="163.69" lengthAdjust="spacingAndGlyphs">NIH-HHD-TEL-AML1</text>
<text x="410.43" y="357.50" font-size="17.30" fill="#000" stroke="#000" stroke-width="0.45" textLength="75.42" lengthAdjust="spacingAndGlyphs">NIH-HHD</text>
<line x1="90.80" y1="361.90" x2="90.80" y2="485.00" stroke="#b0b0b0" stroke-width="1.00"/>
<line x1="47.30" y1="447.20" x2="170.70" y2="447.20" stroke="#b0b0b0" stroke-width="1.00"/>
<path d="M92.0 458.0 L95.0 456.0 L99.0 456.5 L103.0 455.5 L107.0 455.0 L111.0 455.5 L115.0 455.0 L118.0 456.0 L121.0 458.0 L123.0 461.0 L124.0 465.0 L124.3 470.0 L124.0 475.0 L123.3 480.0 L122.0 483.5 L118.0 484.5 L113.0 484.0 L109.0 481.0 L105.0 477.5 L100.0 475.0 L95.0 474.0 L92.0 473.0 Z" fill="#000"/>
<path d="M124.8 466.4h.1m-31.4 -9.4h.1m32.4 22.4h.1m0.7 -15.3h.1m-0.7 12.2h.1m-26.1 -22.4h.1m19.9 2.7h.1m-2.5 -1.6h.1m-17.3 21.8h.1m1.3 -23.8h.1m15.3 -0.2h.1m7 4.7h.1m-31.1 -1h.1m18.4 -1.5h.1m-15.7 -3.3h.1m27.7 22.7h.1m0.1 -11.9h.1m-0.6 17.7h.1m-16.7 0.7h.1m17 -0.4h.1m-16.8 -27.5h.1m-7.9 2.3h.1m-8.3 11.3h.1m6.9 8.5h.1m4.6 2.3h.1m5.6 5.5h.1m-17.1 -25.8h.1m2.9 18.3h.1m28.8 -14.1h.1m-4.2 -6.5h.1m-26.1 -0.7h.1m27.9 2.6h.1m-23.6 -0.6h.1m25.8 19.8h.1m-0.6 4.6h.1m-18.1 -28.3h.1m-1 1.7h.1m-13.2 5h.1m5.1 17.3h.1m11.5 7.5h.1m1.5 -1.2h.1m2.9 -28.1h.1m1.7 29.8h.1m9.5 -19.1h.1m-22.6 11.8h.1m-0.7 -21.5h.1m-6.1 19.3h.1m24.2 -21.3h.1m4.5 11.1h.1m-1 18.7h.1m-21.1 -28.8h.1m16.8 2.2h.1m-22 19.7h.1m25.8 5.4h.1m-12.4 1.4h.1m-6.4 -5.4h.1m9.5 6.7h.1m-12 -31.3h.1m-4.1 22.3h.1m4.7 3.3h.1m2.5 0.3h.1m-9 -24.3h.1m24.3 2.1h.1m-29.6 0.5h.1m32 4.1h.1m-11.3 -8.5h.1m-13.6 23.1h.1m13.1 -23.9h.1m11.2 8.9h.1m0.8 20.1h.1m-1.7 3.3h.1m0.7 -4.2h.1m1.2 -14.5h.1m-0.5 7.5h.1m0 -5.7h.1m-2.1 -10.9h.1m-31.1 10.8h.1m8.5 -11.5h.1m7.4 26.4h.1m14.4 -24.8h.1m-28.7 16.6h.1m30.7 0.8h.1m-21.7 1.9h.1m-7 -2.2h.1m26.3 -16.4h.1m0 0.3h.1m-17.7 23h.1m18.2 -20.3h.1m2.7 17.4h.1m-24.7 -2.6h.1m8.2 -21.2h.1m15.4 28.8h.1m-0.4 0.6h.1m-8.1 -29.7h.1m-8.2 0.1h.1m-17.1 15.2h.1m10.4 -16.6h.1m6.2 31.3h.1m-16.6 -28.2h.1m2.7 -0.9h.1m15.5 27.6h.1m12.4 -21.6h.1m2.3 0.1h.1m-19.8 18.6h.1m3.8 4.3h.1m14.2 -6.7h.1m-19.7 -23.8h.1m0.8 25.6h.1m2.7 -24.6h.1m17.1 16.4h.1m-15.9 11.3h.1m13.2 -22.3h.1m-16.8 -5.3h.1m-0.7 23.8h.1m11 5.7h.1m1.4 -31.2h.1m-8.6 1.4h.1m-7.9 22.3h.1m4.3 -24.6h.1m19.8 12.2h.1m-2.9 18.2h.1m-23.9 -6.7h.1m1.4 1.5h.1m5.9 -23.1h.1m10.7 -1.6h.1m-6.9 1.5h.1m13.7 12.9h.1m-29.9 8.5h.1m5.6 -0.4h.1m-1.2 0.8h.1m2.6 3.2h.1m-2 -24.4h.1m24 21.9h.1m-13.2 6.8h.1m11.2 -0.6h.1m0.3 -26.6h.1m-18 -1.4h.1m20.3 10.9h.1m-32.6 -9.9h.1m-1.3 1.9h.1m-0.3 2.9h.1m33.7 -0.7h.1m-1 7.8h.1m-33.4 -0.6h.1m16.5 -13.8h.1m17.4 13.6h.1m1.4 4.5h.1m-1.6 0.6h.1m-15.2 10.6h.1m14.8 -1.6h.1m-27.2 -4.7h.1m8.7 -22.5h.1m18.8 26.7h.1m-33 -6.1h.1m9.2 2.2h.1m-10.5 -12.2h.1m9.8 13.3h.1m21.2 -20.1h.1m-9.8 26.3h.1m-13.9 -9.2h.1m-6.1 -21h.1m-1.8 7.1h.1m22.5 -6.8h.1m-22.7 3.7h.1m26.8 -5.5h.1m1.3 2.8h.1m-27.9 0.8h.1m28.8 0.7h.1m-16.2 21.8h.1m3.9 4.9h.1m-15.6 -26.6h.1m4.4 18.3h.1m-1.1 -23.4h.1m0.9 2.5h.1m3.6 21.8h.1m9.7 -21.1h.1m-4.3 24.7h.1m14.4 -22.4h.1m-18.5 -6.8h.1m-12.3 11.2h.1m35.7 10.5h.1m-29.4 3.2h.1m-4.6 -21.5h.1m-1.1 2.1h.1m18 -1.1h.1m-18.9 11.8h.1m18 -14.2h.1m14.7 14.5h.1m-27.9 -11.4h.1m7.7 25.2h.1m-1.3 -25.4h.1m4.8 25.8h.1m17.3 -1.2h.1m-17.7 -25.5h.1m18.4 16.6h.1m-31.2 -15.8h.1m2.6 -0.7h.1m-6.5 11.4h.1m32.8 14.1h.1m-28.9 -2.1h.1m15.5 -24.2h.1m-17 1.6h.1m-3.4 13.8h.1m24.4 -15.1h.1m8 27.4h.1m-19.7 -29.9h.1m-6.7 2.5h.1m4.9 22.6h.1m-4.2 1.2h.1m0.8 -25.3h.1m2.5 1.8h.1m-8 20.3h.1m27 -16.4h.1m5.8 2.9h.1m-3.6 23.1h.1m-12.7 -30.1h.1m13.2 19.4h.1m-31.2 0.1h.1m27.3 10.6h.1m-29 -12.9h.1m22 12.7h.1m-8.4 -29.4h.1m-13.9 6.1h.1m29.8 23.4h.1m-25.9 -9.2h.1m-3.7 -0.6h.1m17.9 7.7h.1m-14.9 -7h.1m7.6 1.7h.1m20.2 -14.4h.1m3.2 8.2h.1m-27.6 -15.1h.1m-8 13.9h.1m3 4.8h.1m13.9 -19.8h.1m-12.3 0.7h.1m-2.8 18.5h.1m-0.1 -19h.1m13.2 24.7h.1m-0.9 2.9h.1m18.1 -6.2h.1m-0.8 -13.7h.1m-27.3 13.9h.1m25 7.7h.1m3.6 -12.2h.1m-18.3 7.7h.1m-7.3 -24.7h.1m23.5 28.1h.1m-18.3 -29.3h.1m21.1 13.4h.1m-16.5 17.6h.1m14.1 -18.7h.1m-1.9 -6.3h.1m3.2 16.3h.1m-33.4 -19.3h.1m31.8 17h.1m-11.8 -19.9h.1m5.8 30.9h.1m-17.8 -7.8h.1m-0.6 0.4h.1m24.3 -3.1h.1m-33.3 -7.1h.1m5 8.6h.1m29.5 -12.5h.1m-33.4 13.6h.1m13.2 2.6h.1m17.1 -17.8h.1m-15 21.5h.1m12.9 -26.3h.1m4.3 17.1h.1m-0.5 -7.3h.1m-25.1 -11.9h.1m23.2 7.9h.1m-26.1 13h.1m27.1 -10.8h.1m-33.5 11.6h.1m34.3 -13.8h.1m-24.4 -8h.1m-7.6 0.9h.1m7.8 22h.1m-0.5 -0.2h.1m-10.4 -24.5h.1m33.9 16.3h.1m-0.5 2.6h.1m-27.1 -15.3h.1m14.9 -1.7h.1m1.2 -1.4h.1m3.4 1.2h.1m-11.6 25.3h.1m-7.6 -3.5h.1m19.9 -19.9h.1m2.2 1.3h.1m-13.6 -5.3h.1m-8.3 3.6h.1m14.5 -0.9h.1m-11.2 -2.6h.1m19.9 8.4h.1m-15.3 22.8h.1m8 -30.3h.1m8.6 15.4h.1m-17.8 11.7h.1m-12.6 -6.4h.1m5.5 2.4h.1m-6.5 7.3h.1m2.2 -3.8h.1m7 -2.2h.1m2.1 -0.3h.1m-2 5.1h.1m-10.3 -4.5h.1m5.3 5.8h.1m-4.3 -4.9h.1m8.6 -2.2h.1m-8.1 -0.3h.1m5.4 7.8h.1m-5.4 -9.1h.1m7 5.4h.1m-8 -4.9h.1m-2.4 5.5h.1m16.3 1.3h.1m-11 -2.4h.1m5.9 0.3h.1m-11 -0.5h.1m0.5 3.4h.1m-1.7 -5.7h.1m6.8 -0.8h.1m-5.8 -0.8h.1m-1.1 2.4h.1m17.6 5h.1m-8.4 -1h.1m-2.9 -0.5h.1m-3.6 -3.9h.1m-1.3 3.5h.1m2.6 -2.6h.1m10.8 1.2h.1m-2.4 1.6h.1m-0.1 2.1h.1m-2 -3h.1m-1 -1.5h.1m-7.1 -0.3h.1m2.3 2.4h.1m-2.1 -1.1h.1m3.5 0.7h.1m5.6 3.4h.1m-11.7 -4.1h.1m10.1 -0.1h.1m-9.1 -86.3h.1m3.4 3.5h.1m2.8 -3.5h.1m6.5 -2.5h.1m1.6 4.3h.1m-0.9 3.5h.1m-5.3 3.4h.1m5.9 0.9h.1m-2.1 0.3h.1m-4.1 4h.1m2.5 1.7h.1m2.5 0.9h.1m-7.1 3.5h.1m5.1 0.8h.1m-1.8 1.7h.1m-2.7 1.8h.1m4.8 -0.9h.1m-3.3 3.5h.1m2.7 1.4h.1m11.8 -0.6h.1m-16.5 3.5h.1m7.7 -0.5h.1m6.8 9.2h.1m-0.6 0.8h.1m-11.7 4.3h.1m6 -0.8h.1m-7.1 6.9h.1m10.3 -0.9h.1m-8.7 2.6h.1m1.6 -16.5h.1m-4.6 2.5h.1m5.9 8.5h.1m-8.1 -0.5h.1m4.9 -13h.1m4.4 -15.5h.1m-6.6 -14.5h.1" stroke="#000" stroke-width="1.50" stroke-linecap="square" fill="none"/>
<path d="M98.6 465.6h.1m6.2 7h.1m-7.3 -1.2h.1m2.9 -0.1h.1m4.2 -13.9h.1m-10.3 3h.1m7.7 13.2h.1m-7.8 -8.4h.1m8.6 4.5h.1m-4.1 3.3h.1m4.3 -15.3h.1m0.5 3.8h.1m-4.7 8.8h.1m-4.3 -8.5h.1m7.9 9.2h.1m0.8 -13.2h.1m-4.7 12.3h.1m4.2 -0.3h.1m-8.9 -11.9h.1m-1.4 3h.1m5 1.2h.1m1.4 9.4h.1m-5 -1.3h.1m27.6 -4.6h.1m-14.5 13.3h.1m7.6 -2.2h.1m-14 -7.2h.1m-8.5 4.4h.1m3.3 -5.3h.1m19.3 3h.1m-4.3 -15.1h.1m-15 15.8h.1m16.9 -14.6h.1m-20.6 6.6h.1" stroke="#fff" stroke-width="0.90" stroke-linecap="square" fill="none"/>
<rect x="125.10" y="469.00" width="45.60" height="16.00" fill="#fff"/>
<rect x="47.30" y="361.90" width="123.40" height="123.10" stroke="#000" stroke-width="1.40" fill="none"/>
<line x1="43.80" y1="373.70" x2="47.30" y2="373.70" stroke="#000" stroke-width="1.00"/>
<line x1="45.30" y1="393.27" x2="47.30" y2="393.27" stroke="#000" stroke-width="0.90"/>
<line x1="45.30" y1="388.34" x2="47.30" y2="388.34" stroke="#000" stroke-width="0.90"/>
<line x1="45.30" y1="384.84" x2="47.30" y2="384.84" stroke="#000" stroke-width="0.90"/>
<line x1="45.30" y1="382.13" x2="47.30" y2="382.13" stroke="#000" stroke-width="0.90"/>
<line x1="45.30" y1="379.91" x2="47.30" y2="379.91" stroke="#000" stroke-width="0.90"/>
<line x1="45.30" y1="378.04" x2="47.30" y2="378.04" stroke="#000" stroke-width="0.90"/>
<line x1="45.30" y1="376.41" x2="47.30" y2="376.41" stroke="#000" stroke-width="0.90"/>
<line x1="45.30" y1="374.98" x2="47.30" y2="374.98" stroke="#000" stroke-width="0.90"/>
<line x1="43.80" y1="401.50" x2="47.30" y2="401.50" stroke="#000" stroke-width="1.00"/>
<line x1="45.30" y1="421.07" x2="47.30" y2="421.07" stroke="#000" stroke-width="0.90"/>
<line x1="45.30" y1="416.14" x2="47.30" y2="416.14" stroke="#000" stroke-width="0.90"/>
<line x1="45.30" y1="412.64" x2="47.30" y2="412.64" stroke="#000" stroke-width="0.90"/>
<line x1="45.30" y1="409.93" x2="47.30" y2="409.93" stroke="#000" stroke-width="0.90"/>
<line x1="45.30" y1="407.71" x2="47.30" y2="407.71" stroke="#000" stroke-width="0.90"/>
<line x1="45.30" y1="405.84" x2="47.30" y2="405.84" stroke="#000" stroke-width="0.90"/>
<line x1="45.30" y1="404.21" x2="47.30" y2="404.21" stroke="#000" stroke-width="0.90"/>
<line x1="45.30" y1="402.78" x2="47.30" y2="402.78" stroke="#000" stroke-width="0.90"/>
<line x1="43.80" y1="429.80" x2="47.30" y2="429.80" stroke="#000" stroke-width="1.00"/>
<line x1="45.30" y1="449.37" x2="47.30" y2="449.37" stroke="#000" stroke-width="0.90"/>
<line x1="45.30" y1="444.44" x2="47.30" y2="444.44" stroke="#000" stroke-width="0.90"/>
<line x1="45.30" y1="440.94" x2="47.30" y2="440.94" stroke="#000" stroke-width="0.90"/>
<line x1="45.30" y1="438.23" x2="47.30" y2="438.23" stroke="#000" stroke-width="0.90"/>
<line x1="45.30" y1="436.01" x2="47.30" y2="436.01" stroke="#000" stroke-width="0.90"/>
<line x1="45.30" y1="434.14" x2="47.30" y2="434.14" stroke="#000" stroke-width="0.90"/>
<line x1="45.30" y1="432.51" x2="47.30" y2="432.51" stroke="#000" stroke-width="0.90"/>
<line x1="45.30" y1="431.08" x2="47.30" y2="431.08" stroke="#000" stroke-width="0.90"/>
<line x1="45.30" y1="365.27" x2="47.30" y2="365.27" stroke="#000" stroke-width="0.90"/>
<line x1="45.30" y1="360.34" x2="47.30" y2="360.34" stroke="#000" stroke-width="0.90"/>
<line x1="43.80" y1="459.90" x2="47.30" y2="459.90" stroke="#000" stroke-width="1.00"/>
<line x1="43.80" y1="472.90" x2="47.30" y2="472.90" stroke="#000" stroke-width="1.00"/>
<line x1="45.30" y1="463.10" x2="47.30" y2="463.10" stroke="#000" stroke-width="0.90"/>
<line x1="45.30" y1="466.10" x2="47.30" y2="466.10" stroke="#000" stroke-width="0.90"/>
<line x1="45.30" y1="468.90" x2="47.30" y2="468.90" stroke="#000" stroke-width="0.90"/>
<line x1="45.30" y1="476.40" x2="47.30" y2="476.40" stroke="#000" stroke-width="0.90"/>
<line x1="45.30" y1="479.90" x2="47.30" y2="479.90" stroke="#000" stroke-width="0.90"/>
<line x1="45.30" y1="482.90" x2="47.30" y2="482.90" stroke="#000" stroke-width="0.90"/>
<line x1="45.30" y1="456.40" x2="47.30" y2="456.40" stroke="#000" stroke-width="0.90"/>
<line x1="45.30" y1="453.40" x2="47.30" y2="453.40" stroke="#000" stroke-width="0.90"/>
<line x1="45.30" y1="450.40" x2="47.30" y2="450.40" stroke="#000" stroke-width="0.90"/>
<line x1="45.30" y1="447.40" x2="47.30" y2="447.40" stroke="#000" stroke-width="0.90"/>
<line x1="45.30" y1="444.40" x2="47.30" y2="444.40" stroke="#000" stroke-width="0.90"/>
<line x1="45.30" y1="441.40" x2="47.30" y2="441.40" stroke="#000" stroke-width="0.90"/>
<line x1="45.30" y1="437.90" x2="47.30" y2="437.90" stroke="#000" stroke-width="0.90"/>
<text x="30.70" y="378.10" font-size="6.00" fill="#333" text-anchor="start" textLength="6.80" lengthAdjust="spacingAndGlyphs" stroke="#333" stroke-width="0.3">10</text>
<text x="38.00" y="372.80" font-size="6.60" fill="#333" text-anchor="start" stroke="#333" stroke-width="0.3">5</text>
<text x="30.70" y="405.90" font-size="6.00" fill="#333" text-anchor="start" textLength="6.80" lengthAdjust="spacingAndGlyphs" stroke="#333" stroke-width="0.3">10</text>
<text x="38.00" y="400.60" font-size="6.60" fill="#333" text-anchor="start" stroke="#333" stroke-width="0.3">4</text>
<text x="30.70" y="434.20" font-size="6.00" fill="#333" text-anchor="start" textLength="6.80" lengthAdjust="spacingAndGlyphs" stroke="#333" stroke-width="0.3">10</text>
<text x="38.00" y="428.90" font-size="6.60" fill="#333" text-anchor="start" stroke="#333" stroke-width="0.3">3</text>
<text x="30.70" y="464.30" font-size="6.00" fill="#333" text-anchor="start" textLength="6.80" lengthAdjust="spacingAndGlyphs" stroke="#333" stroke-width="0.3">10</text>
<text x="38.00" y="459.00" font-size="6.60" fill="#333" text-anchor="start" stroke="#333" stroke-width="0.3">2</text>
<text x="34.70" y="476.50" font-size="6.00" fill="#333" text-anchor="start" stroke="#333" stroke-width="0.3">0</text>
<line x1="58.50" y1="485.00" x2="58.50" y2="488.50" stroke="#000" stroke-width="1.00"/>
<line x1="71.80" y1="485.00" x2="71.80" y2="488.50" stroke="#000" stroke-width="1.00"/>
<line x1="99.80" y1="485.00" x2="99.80" y2="488.50" stroke="#000" stroke-width="1.00"/>
<line x1="125.80" y1="485.00" x2="125.80" y2="488.50" stroke="#000" stroke-width="1.00"/>
<line x1="151.80" y1="485.00" x2="151.80" y2="488.50" stroke="#000" stroke-width="1.00"/>
<line x1="48.80" y1="485.00" x2="48.80" y2="487.00" stroke="#000" stroke-width="0.80"/>
<line x1="51.50" y1="485.00" x2="51.50" y2="487.00" stroke="#000" stroke-width="0.80"/>
<line x1="54.20" y1="485.00" x2="54.20" y2="487.00" stroke="#000" stroke-width="0.80"/>
<line x1="56.90" y1="485.00" x2="56.90" y2="487.00" stroke="#000" stroke-width="0.80"/>
<line x1="59.60" y1="485.00" x2="59.60" y2="487.00" stroke="#000" stroke-width="0.80"/>
<line x1="62.30" y1="485.00" x2="62.30" y2="487.00" stroke="#000" stroke-width="0.80"/>
<line x1="65.00" y1="485.00" x2="65.00" y2="487.00" stroke="#000" stroke-width="0.80"/>
<line x1="67.70" y1="485.00" x2="67.70" y2="487.00" stroke="#000" stroke-width="0.80"/>
<line x1="70.40" y1="485.00" x2="70.40" y2="487.00" stroke="#000" stroke-width="0.80"/>
<line x1="74.80" y1="485.00" x2="74.80" y2="487.00" stroke="#000" stroke-width="0.80"/>
<line x1="77.80" y1="485.00" x2="77.80" y2="487.00" stroke="#000" stroke-width="0.80"/>
<line x1="80.80" y1="485.00" x2="80.80" y2="487.00" stroke="#000" stroke-width="0.80"/>
<line x1="83.80" y1="485.00" x2="83.80" y2="487.00" stroke="#000" stroke-width="0.80"/>
<line x1="86.80" y1="485.00" x2="86.80" y2="487.00" stroke="#000" stroke-width="0.80"/>
<line x1="89.80" y1="485.00" x2="89.80" y2="487.00" stroke="#000" stroke-width="0.80"/>
<line x1="92.80" y1="485.00" x2="92.80" y2="487.00" stroke="#000" stroke-width="0.80"/>
<line x1="95.80" y1="485.00" x2="95.80" y2="487.00" stroke="#000" stroke-width="0.80"/>
<line x1="107.63" y1="485.00" x2="107.63" y2="487.00" stroke="#000" stroke-width="0.80"/>
<line x1="112.21" y1="485.00" x2="112.21" y2="487.00" stroke="#000" stroke-width="0.80"/>
<line x1="115.45" y1="485.00" x2="115.45" y2="487.00" stroke="#000" stroke-width="0.80"/>
<line x1="117.97" y1="485.00" x2="117.97" y2="487.00" stroke="#000" stroke-width="0.80"/>
<line x1="120.03" y1="485.00" x2="120.03" y2="487.00" stroke="#000" stroke-width="0.80"/>
<line x1="121.77" y1="485.00" x2="121.77" y2="487.00" stroke="#000" stroke-width="0.80"/>
<line x1="123.28" y1="485.00" x2="123.28" y2="487.00" stroke="#000" stroke-width="0.80"/>
<line x1="124.61" y1="485.00" x2="124.61" y2="487.00" stroke="#000" stroke-width="0.80"/>
<line x1="133.63" y1="485.00" x2="133.63" y2="487.00" stroke="#000" stroke-width="0.80"/>
<line x1="138.21" y1="485.00" x2="138.21" y2="487.00" stroke="#000" stroke-width="0.80"/>
<line x1="141.45" y1="485.00" x2="141.45" y2="487.00" stroke="#000" stroke-width="0.80"/>
<line x1="143.97" y1="485.00" x2="143.97" y2="487.00" stroke="#000" stroke-width="0.80"/>
<line x1="146.03" y1="485.00" x2="146.03" y2="487.00" stroke="#000" stroke-width="0.80"/>
<line x1="147.77" y1="485.00" x2="147.77" y2="487.00" stroke="#000" stroke-width="0.80"/>
<line x1="149.28" y1="485.00" x2="149.28" y2="487.00" stroke="#000" stroke-width="0.80"/>
<line x1="150.61" y1="485.00" x2="150.61" y2="487.00" stroke="#000" stroke-width="0.80"/>
<line x1="157.28" y1="485.00" x2="157.28" y2="487.00" stroke="#000" stroke-width="0.80"/>
<line x1="160.48" y1="485.00" x2="160.48" y2="487.00" stroke="#000" stroke-width="0.80"/>
<line x1="162.76" y1="485.00" x2="162.76" y2="487.00" stroke="#000" stroke-width="0.80"/>
<line x1="164.52" y1="485.00" x2="164.52" y2="487.00" stroke="#000" stroke-width="0.80"/>
<line x1="165.96" y1="485.00" x2="165.96" y2="487.00" stroke="#000" stroke-width="0.80"/>
<line x1="167.18" y1="485.00" x2="167.18" y2="487.00" stroke="#000" stroke-width="0.80"/>
<line x1="168.24" y1="485.00" x2="168.24" y2="487.00" stroke="#000" stroke-width="0.80"/>
<line x1="169.17" y1="485.00" x2="169.17" y2="487.00" stroke="#000" stroke-width="0.80"/>
<text x="56.30" y="503.00" font-size="6.00" fill="#333" text-anchor="start" stroke="#333" stroke-width="0.3">0</text>
<text x="67.95" y="503.00" font-size="6.00" fill="#333" text-anchor="start" textLength="6.80" lengthAdjust="spacingAndGlyphs" stroke="#333" stroke-width="0.3">10</text>
<text x="75.35" y="497.40" font-size="6.60" fill="#333" text-anchor="start" stroke="#333" stroke-width="0.3">2</text>
<text x="95.50" y="503.00" font-size="6.00" fill="#333" text-anchor="start" textLength="6.80" lengthAdjust="spacingAndGlyphs" stroke="#333" stroke-width="0.3">10</text>
<text x="102.90" y="497.40" font-size="6.60" fill="#333" text-anchor="start" stroke="#333" stroke-width="0.3">3</text>
<text x="122.50" y="503.00" font-size="6.00" fill="#333" text-anchor="start" textLength="6.80" lengthAdjust="spacingAndGlyphs" stroke="#333" stroke-width="0.3">10</text>
<text x="129.90" y="497.40" font-size="6.60" fill="#333" text-anchor="start" stroke="#333" stroke-width="0.3">4</text>
<text x="148.90" y="503.00" font-size="6.00" fill="#333" text-anchor="start" textLength="6.80" lengthAdjust="spacingAndGlyphs" stroke="#333" stroke-width="0.3">10</text>
<text x="156.30" y="497.40" font-size="6.60" fill="#333" text-anchor="start" stroke="#333" stroke-width="0.3">5</text>
<text x="118.54" y="381.70" font-size="24.80" fill="#000" stroke="#000" stroke-width="0.45" textLength="50.17" lengthAdjust="spacingAndGlyphs">1.80</text>
<text x="125.47" y="482.00" font-size="17.50" fill="#000" stroke="#000" stroke-width="0.45" textLength="44.32" lengthAdjust="spacingAndGlyphs">98.20</text>
<line x1="262.80" y1="361.90" x2="262.80" y2="485.00" stroke="#b0b0b0" stroke-width="1.00"/>
<line x1="219.50" y1="447.20" x2="343.40" y2="447.20" stroke="#b0b0b0" stroke-width="1.00"/>
<path d="M264.0 456.0 L268.0 455.0 L272.0 456.0 L277.0 455.0 L282.0 454.0 L287.0 454.5 L291.0 456.0 L294.0 458.5 L296.0 462.0 L297.0 467.0 L297.0 473.0 L296.5 479.0 L295.5 483.5 L288.0 484.0 L283.0 481.0 L277.0 478.5 L270.0 477.0 L264.0 476.0 Z" fill="#000"/>
<path d="M263.7 463h.1m24.7 -11.2h.1m-25.1 7.5h.1m34 21.6h.1m-23.9 -0.7h.1m23.6 -12.4h.1m-20.6 -14.4h.1m-8.7 -0.3h.1m24.9 4.8h.1m-28.5 19.9h.1m32.1 -7.1h.1m-22.4 -16.3h.1m17.5 1.5h.1m-21.7 24.5h.1m26.9 -6.8h.1m-30 -21.4h.1m-1.8 -0.2h.1m30.7 10.5h.1m-2.7 21.7h.1m-2 0h.1m-19.2 -5.1h.1m23.6 -15.5h.1m-19 -11.8h.1m6.7 30.5h.1m11.8 -14h.1m-20.3 12.9h.1m8.9 3.1h.1m-19.6 -30h.1m7.7 25.9h.1m22.8 -7.3h.1m-9.2 11.6h.1m-8.9 -3h.1m9.7 2.6h.1m6.5 -28.6h.1m1.7 15.6h.1m-3 -12.1h.1m-15.4 20.8h.1m-13.6 1.6h.1m24.2 -26.5h.1m6.7 24.2h.1m-7.4 -25h.1m7 9.5h.1m-27 -8.9h.1m6 -1h.1m21.1 21.2h.1m-28.5 2.5h.1m29.7 -5.9h.1m-28.4 -16.3h.1m27.2 21.5h.1m-7.8 -24.2h.1m-26.2 19.6h.1m6.8 8.9h.1m6.4 -26.8h.1m10.5 -2.2h.1m-24.3 6.3h.1m11 -3.2h.1m0.2 24.2h.1m13.1 -25.2h.1m-19.8 24.7h.1m3.3 -1.4h.1m-4 2.1h.1m16.5 3.7h.1m11.3 -24h.1m-1.2 -0.3h.1m-31 11.1h.1m10.5 8.3h.1m-10.9 -13.6h.1m0.1 4.6h.1m29.7 15.2h.1m-29.9 -15h.1m12.5 9.2h.1m19 -18.6h.1m-10.3 -6.3h.1m10.9 3.8h.1m-20.9 20.6h.1m22.3 -6.7h.1m-28.8 7.2h.1m8.4 -24.2h.1m-10.3 22.7h.1m-3.9 -23.8h.1m33.5 14.8h.1m-32.1 9.7h.1m31.6 6.6h.1m-13.7 -2.5h.1m-9 -28.1h.1m15.9 1.4h.1m-13.6 25.5h.1m8.4 -29.2h.1m13.7 21.6h.1m-30.3 -21.4h.1m-5.5 12.5h.1m35.5 7.1h.1m-8.2 12.6h.1m5.9 -20.3h.1m-31.9 -10.3h.1m32 18.6h.1m-26.2 -19.8h.1m23.1 5.8h.1m3 17.7h.1m-21.2 3.5h.1m-6.7 -0.9h.1m28.1 -13.2h.1m-15 18h.1m-11 -29.6h.1m2.9 26.1h.1m-6.2 -2.6h.1m29.1 2h.1m-1.8 5.2h.1m-1.5 -23.4h.1m3.7 9h.1m-25.8 -14.2h.1m-10.1 -0.2h.1m33.3 21.3h.1m0.1 -14.9h.1m-5 -5.1h.1m-21.5 20.6h.1m26 3.5h.1m-18.3 -27.3h.1m12.5 1.2h.1m-3.4 29.8h.1m10.9 -14.8h.1m-32.5 -16.2h.1m16.8 28.2h.1m-9.5 -27.8h.1m-2.2 1.2h.1m-5.7 -0.6h.1m28.7 2.6h.1m-28 -3.2h.1m29 27.1h.1m-29.2 -3.8h.1m29.9 -6h.1m-22.5 8.4h.1m21.9 2.7h.1m-21.3 -3.6h.1m21.4 -3.4h.1m-18.3 4.9h.1m17.4 -18.9h.1m0.4 5.1h.1m-33.4 6h.1m4.3 -18.2h.1m14.7 27.2h.1m15.6 -7.2h.1m-0.9 -5.8h.1m-0.1 10.3h.1m-18.2 -25.1h.1m19.7 24.4h.1m-12.4 -24.9h.1m10.5 19.9h.1m-9.8 -19.4h.1m-24.7 17.7h.1m16.3 -17.2h.1m17.5 15.5h.1m-12.7 14.3h.1m13.3 -18.1h.1m-4.7 18.3h.1m5.2 -12.1h.1m-33.2 -20h.1m-2.3 8.8h.1m2.1 17.1h.1m14.5 -26.5h.1m13.3 33.2h.1m5.4 -8.7h.1m-2 8h.1m-32.2 -7h.1m33.7 2.1h.1m-16.7 -27.5h.1m-11.3 26.1h.1m14.3 -23.5h.1m11.5 28.4h.1m-33.2 -5.5h.1m23.3 -24.1h.1m10.8 16.4h.1m-7.6 14.5h.1m-25.5 -4.9h.1m5 -23.6h.1m-5.1 -0.1h.1m13.3 24.3h.1m-6.5 -1.1h.1m24.7 -3.3h.1m-14.4 -23h.1m-18.3 24.3h.1m-1.2 -2.7h.1m21.5 -20.2h.1m-21.6 20.9h.1m10.9 5.4h.1m22.7 4.3h.1m-29.6 -29.5h.1m28.4 6.9h.1m-5 22.4h.1m6.9 -20.6h.1m-1.2 -4.6h.1m-27.8 20.8h.1m8.3 -27.8h.1m-14.6 20.3h.1m28.3 11.9h.1m-29.2 -27.7h.1m32.9 2.5h.1m-20.5 -3.8h.1m-9.1 -0.8h.1m27.6 4h.1m2.8 25.9h.1m-31.2 -29.4h.1m29.8 4.9h.1m-0.7 -1.3h.1m-14.2 -8h.1m-4.2 4.1h.1m5.7 27.1h.1m-4.2 -0.2h.1m14.3 -24.1h.1m-24.8 -2.7h.1m2.1 24.3h.1m-7.6 -14.6h.1m6.4 -9.1h.1m29 14.8h.1m-0.6 9.2h.1m-35 -15.3h.1m10.3 -8.7h.1m-3.2 22.8h.1m3.6 -24.7h.1m14.6 -0.2h.1m-11.3 27.8h.1m13.4 3.2h.1m5.2 -17.4h.1m-15.3 14.8h.1m15.8 0.4h.1m-24 -3h.1m8.1 -26h.1m14.8 29.1h.1m2.2 -14h.1m-2.3 2.6h.1m0.2 -1.5h.1m-15.1 -16.3h.1m-19.2 17.9h.1m31.3 -12.5h.1m-2.3 -1.2h.1m-24.6 -2h.1m26.7 3.9h.1m2.3 17.2h.1m-0.6 2.3h.1m-6.5 -22.8h.1m-26.9 7.7h.1m29.5 -5.9h.1m-29.5 -0.2h.1m-0.2 16.5h.1m23.5 -20h.1m-10.7 1h.1m21.4 16.8h.1m-1.1 -10.4h.1m-17 19.4h.1m2 1.1h.1m14.7 0.5h.1m-28 -30h.1m15.4 1.9h.1m-20.1 22.5h.1m-1.2 -19.5h.1m34.4 13.4h.1m-8.3 -17.4h.1m-23.7 26.2h.1m31.8 -4.1h.1m-31 -21.4h.1m26.3 0.5h.1m5.5 6.4h.1m-0.5 22.2h.1m-0.9 -21.1h.1m0.7 14h.1m-22.7 3.2h.1m-0.9 1.3h.1m21.3 -14.4h.1m-0.4 13.6h.1m-21.2 -24.9h.1m21.7 17.8h.1m-4.9 -17.4h.1m-2.8 -0.7h.1m-6.8 -1.8h.1m-15.2 27.8h.1m30.5 -23h.1m-28 24.2h.1m14.6 -28.2h.1m-2.9 0.9h.1m8.8 0h.1m-24.3 0.9h.1m0.3 0.1h.1m29.4 11.5h.1m-6 -13.1h.1m7.1 15.1h.1m-27.2 9.4h.1m24.9 6.5h.1m1.7 -14.5h.1m-29.8 11.1h.1m30 -5.4h.1m-28.9 -22.4h.1m27.4 31.4h.1m-24.7 -2.8h.1m0.4 -26.7h.1m-4.4 24.5h.1m14.8 -25.5h.1m14 11h.1m-27.6 13.1h.1m-3.3 -23.7h.1m-2.9 21.7h.1m15.6 6.6h.1m-6.7 -0.4h.1m2.3 0h.1m-4.3 1.7h.1m8.2 -4.5h.1m-2.2 0.8h.1m-10.5 -0.8h.1m13.4 3.1h.1m0.4 -2.2h.1m-10 3.8h.1m1.5 0.3h.1m1.1 -3.3h.1m8.8 1.4h.1m-13.4 -0.2h.1m11.2 1.5h.1m-9.2 -1.2h.1m-1.7 -3.9h.1m-6 2.9h.1m14.9 2.4h.1m-10.7 -6.9h.1m10 3.1h.1m-4.2 -1.1h.1m-6.3 0.4h.1m1.2 -1.5h.1m2.8 5.5h.1m-6.4 -4h.1m16.7 2.3h.1m-14.7 -3.2h.1m-3 0.9h.1m3.7 2.5h.1m9.2 1.6h.1m2.9 -1.1h.1m-9 -3.1h.1m-1.3 1h.1m2 -2.4h.1m-9.5 3h.1m0.4 1.3h.1m-1.2 -1.7h.1m5.6 -1.6h.1m10.9 2.6h.1m-1.1 1.1h.1m-3.4 -3h.1m-11.2 1.2h.1m7.7 2.5h.1m-8.3 -4.3h.1m15.7 3.6h.1m1.6 0.1h.1m-9.9 -0.3h.1m-1 0.1h.1m-7.4 0.9h.1m23.2 -60.6h.1m-3.1 22.8h.1" stroke="#000" stroke-width="1.50" stroke-linecap="square" fill="none"/>
<path d="M272.1 462.6h.1m-0.5 -2.8h.1m3.5 5.9h.1m-4.4 -1.6h.1m-0.1 -0.4h.1m4 5h.1m-0.4 -4.2h.1m-2 1.5h.1m-6.5 -2.9h.1m2.8 -1h.1m1.5 8.3h.1m2.3 -4.1h.1m-6.5 7.7h.1m-2.3 -1.7h.1m0.7 -4.4h.1m15 3.6h.1m-16.3 -3.7h.1m29 14.3h.1m-21.5 -11.3h.1m-6.7 -1.7h.1m16.2 6.7h.1m12.7 -15.1h.1m-13.8 6.9h.1m4 13.5h.1m-10.3 -5.7h.1m5.8 3.2h.1m15.1 -13.6h.1" stroke="#fff" stroke-width="0.90" stroke-linecap="square" fill="none"/>
<rect x="297.50" y="469.40" width="45.90" height="15.60" fill="#fff"/>
<rect x="219.50" y="361.90" width="123.90" height="123.10" stroke="#000" stroke-width="1.40" fill="none"/>
<line x1="216.00" y1="373.70" x2="219.50" y2="373.70" stroke="#000" stroke-width="1.00"/>
<line x1="217.50" y1="393.27" x2="219.50" y2="393.27" stroke="#000" stroke-width="0.90"/>
<line x1="217.50" y1="388.34" x2="219.50" y2="388.34" stroke="#000" stroke-width="0.90"/>
<line x1="217.50" y1="384.84" x2="219.50" y2="384.84" stroke="#000" stroke-width="0.90"/>
<line x1="217.50" y1="382.13" x2="219.50" y2="382.13" stroke="#000" stroke-width="0.90"/>
<line x1="217.50" y1="379.91" x2="219.50" y2="379.91" stroke="#000" stroke-width="0.90"/>
<line x1="217.50" y1="378.04" x2="219.50" y2="378.04" stroke="#000" stroke-width="0.90"/>
<line x1="217.50" y1="376.41" x2="219.50" y2="376.41" stroke="#000" stroke-width="0.90"/>
<line x1="217.50" y1="374.98" x2="219.50" y2="374.98" stroke="#000" stroke-width="0.90"/>
<line x1="216.00" y1="401.50" x2="219.50" y2="401.50" stroke="#000" stroke-width="1.00"/>
<line x1="217.50" y1="421.07" x2="219.50" y2="421.07" stroke="#000" stroke-width="0.90"/>
<line x1="217.50" y1="416.14" x2="219.50" y2="416.14" stroke="#000" stroke-width="0.90"/>
<line x1="217.50" y1="412.64" x2="219.50" y2="412.64" stroke="#000" stroke-width="0.90"/>
<line x1="217.50" y1="409.93" x2="219.50" y2="409.93" stroke="#000" stroke-width="0.90"/>
<line x1="217.50" y1="407.71" x2="219.50" y2="407.71" stroke="#000" stroke-width="0.90"/>
<line x1="217.50" y1="405.84" x2="219.50" y2="405.84" stroke="#000" stroke-width="0.90"/>
<line x1="217.50" y1="404.21" x2="219.50" y2="404.21" stroke="#000" stroke-width="0.90"/>
<line x1="217.50" y1="402.78" x2="219.50" y2="402.78" stroke="#000" stroke-width="0.90"/>
<line x1="216.00" y1="429.80" x2="219.50" y2="429.80" stroke="#000" stroke-width="1.00"/>
<line x1="217.50" y1="449.37" x2="219.50" y2="449.37" stroke="#000" stroke-width="0.90"/>
<line x1="217.50" y1="444.44" x2="219.50" y2="444.44" stroke="#000" stroke-width="0.90"/>
<line x1="217.50" y1="440.94" x2="219.50" y2="440.94" stroke="#000" stroke-width="0.90"/>
<line x1="217.50" y1="438.23" x2="219.50" y2="438.23" stroke="#000" stroke-width="0.90"/>
<line x1="217.50" y1="436.01" x2="219.50" y2="436.01" stroke="#000" stroke-width="0.90"/>
<line x1="217.50" y1="434.14" x2="219.50" y2="434.14" stroke="#000" stroke-width="0.90"/>
<line x1="217.50" y1="432.51" x2="219.50" y2="432.51" stroke="#000" stroke-width="0.90"/>
<line x1="217.50" y1="431.08" x2="219.50" y2="431.08" stroke="#000" stroke-width="0.90"/>
<line x1="217.50" y1="365.27" x2="219.50" y2="365.27" stroke="#000" stroke-width="0.90"/>
<line x1="217.50" y1="360.34" x2="219.50" y2="360.34" stroke="#000" stroke-width="0.90"/>
<line x1="216.00" y1="459.90" x2="219.50" y2="459.90" stroke="#000" stroke-width="1.00"/>
<line x1="216.00" y1="472.90" x2="219.50" y2="472.90" stroke="#000" stroke-width="1.00"/>
<line x1="217.50" y1="463.10" x2="219.50" y2="463.10" stroke="#000" stroke-width="0.90"/>
<line x1="217.50" y1="466.10" x2="219.50" y2="466.10" stroke="#000" stroke-width="0.90"/>
<line x1="217.50" y1="468.90" x2="219.50" y2="468.90" stroke="#000" stroke-width="0.90"/>
<line x1="217.50" y1="476.40" x2="219.50" y2="476.40" stroke="#000" stroke-width="0.90"/>
<line x1="217.50" y1="479.90" x2="219.50" y2="479.90" stroke="#000" stroke-width="0.90"/>
<line x1="217.50" y1="482.90" x2="219.50" y2="482.90" stroke="#000" stroke-width="0.90"/>
<line x1="217.50" y1="456.40" x2="219.50" y2="456.40" stroke="#000" stroke-width="0.90"/>
<line x1="217.50" y1="453.40" x2="219.50" y2="453.40" stroke="#000" stroke-width="0.90"/>
<line x1="217.50" y1="450.40" x2="219.50" y2="450.40" stroke="#000" stroke-width="0.90"/>
<line x1="217.50" y1="447.40" x2="219.50" y2="447.40" stroke="#000" stroke-width="0.90"/>
<line x1="217.50" y1="444.40" x2="219.50" y2="444.40" stroke="#000" stroke-width="0.90"/>
<line x1="217.50" y1="441.40" x2="219.50" y2="441.40" stroke="#000" stroke-width="0.90"/>
<line x1="217.50" y1="437.90" x2="219.50" y2="437.90" stroke="#000" stroke-width="0.90"/>
<text x="202.90" y="378.10" font-size="6.00" fill="#333" text-anchor="start" textLength="6.80" lengthAdjust="spacingAndGlyphs" stroke="#333" stroke-width="0.3">10</text>
<text x="210.20" y="372.80" font-size="6.60" fill="#333" text-anchor="start" stroke="#333" stroke-width="0.3">5</text>
<text x="202.90" y="405.90" font-size="6.00" fill="#333" text-anchor="start" textLength="6.80" lengthAdjust="spacingAndGlyphs" stroke="#333" stroke-width="0.3">10</text>
<text x="210.20" y="400.60" font-size="6.60" fill="#333" text-anchor="start" stroke="#333" stroke-width="0.3">4</text>
<text x="202.90" y="434.20" font-size="6.00" fill="#333" text-anchor="start" textLength="6.80" lengthAdjust="spacingAndGlyphs" stroke="#333" stroke-width="0.3">10</text>
<text x="210.20" y="428.90" font-size="6.60" fill="#333" text-anchor="start" stroke="#333" stroke-width="0.3">3</text>
<text x="202.90" y="464.30" font-size="6.00" fill="#333" text-anchor="start" textLength="6.80" lengthAdjust="spacingAndGlyphs" stroke="#333" stroke-width="0.3">10</text>
<text x="210.20" y="459.00" font-size="6.60" fill="#333" text-anchor="start" stroke="#333" stroke-width="0.3">2</text>
<text x="206.90" y="476.50" font-size="6.00" fill="#333" text-anchor="start" stroke="#333" stroke-width="0.3">0</text>
<line x1="230.70" y1="485.00" x2="230.70" y2="488.50" stroke="#000" stroke-width="1.00"/>
<line x1="244.00" y1="485.00" x2="244.00" y2="488.50" stroke="#000" stroke-width="1.00"/>
<line x1="272.00" y1="485.00" x2="272.00" y2="488.50" stroke="#000" stroke-width="1.00"/>
<line x1="298.00" y1="485.00" x2="298.00" y2="488.50" stroke="#000" stroke-width="1.00"/>
<line x1="324.00" y1="485.00" x2="324.00" y2="488.50" stroke="#000" stroke-width="1.00"/>
<line x1="221.00" y1="485.00" x2="221.00" y2="487.00" stroke="#000" stroke-width="0.80"/>
<line x1="223.70" y1="485.00" x2="223.70" y2="487.00" stroke="#000" stroke-width="0.80"/>
<line x1="226.40" y1="485.00" x2="226.40" y2="487.00" stroke="#000" stroke-width="0.80"/>
<line x1="229.10" y1="485.00" x2="229.10" y2="487.00" stroke="#000" stroke-width="0.80"/>
<line x1="231.80" y1="485.00" x2="231.80" y2="487.00" stroke="#000" stroke-width="0.80"/>
<line x1="234.50" y1="485.00" x2="234.50" y2="487.00" stroke="#000" stroke-width="0.80"/>
<line x1="237.20" y1="485.00" x2="237.20" y2="487.00" stroke="#000" stroke-width="0.80"/>
<line x1="239.90" y1="485.00" x2="239.90" y2="487.00" stroke="#000" stroke-width="0.80"/>
<line x1="242.60" y1="485.00" x2="242.60" y2="487.00" stroke="#000" stroke-width="0.80"/>
<line x1="247.00" y1="485.00" x2="247.00" y2="487.00" stroke="#000" stroke-width="0.80"/>
<line x1="250.00" y1="485.00" x2="250.00" y2="487.00" stroke="#000" stroke-width="0.80"/>
<line x1="253.00" y1="485.00" x2="253.00" y2="487.00" stroke="#000" stroke-width="0.80"/>
<line x1="256.00" y1="485.00" x2="256.00" y2="487.00" stroke="#000" stroke-width="0.80"/>
<line x1="259.00" y1="485.00" x2="259.00" y2="487.00" stroke="#000" stroke-width="0.80"/>
<line x1="262.00" y1="485.00" x2="262.00" y2="487.00" stroke="#000" stroke-width="0.80"/>
<line x1="265.00" y1="485.00" x2="265.00" y2="487.00" stroke="#000" stroke-width="0.80"/>
<line x1="268.00" y1="485.00" x2="268.00" y2="487.00" stroke="#000" stroke-width="0.80"/>
<line x1="279.83" y1="485.00" x2="279.83" y2="487.00" stroke="#000" stroke-width="0.80"/>
<line x1="284.41" y1="485.00" x2="284.41" y2="487.00" stroke="#000" stroke-width="0.80"/>
<line x1="287.65" y1="485.00" x2="287.65" y2="487.00" stroke="#000" stroke-width="0.80"/>
<line x1="290.17" y1="485.00" x2="290.17" y2="487.00" stroke="#000" stroke-width="0.80"/>
<line x1="292.23" y1="485.00" x2="292.23" y2="487.00" stroke="#000" stroke-width="0.80"/>
<line x1="293.97" y1="485.00" x2="293.97" y2="487.00" stroke="#000" stroke-width="0.80"/>
<line x1="295.48" y1="485.00" x2="295.48" y2="487.00" stroke="#000" stroke-width="0.80"/>
<line x1="296.81" y1="485.00" x2="296.81" y2="487.00" stroke="#000" stroke-width="0.80"/>
<line x1="305.83" y1="485.00" x2="305.83" y2="487.00" stroke="#000" stroke-width="0.80"/>
<line x1="310.41" y1="485.00" x2="310.41" y2="487.00" stroke="#000" stroke-width="0.80"/>
<line x1="313.65" y1="485.00" x2="313.65" y2="487.00" stroke="#000" stroke-width="0.80"/>
<line x1="316.17" y1="485.00" x2="316.17" y2="487.00" stroke="#000" stroke-width="0.80"/>
<line x1="318.23" y1="485.00" x2="318.23" y2="487.00" stroke="#000" stroke-width="0.80"/>
<line x1="319.97" y1="485.00" x2="319.97" y2="487.00" stroke="#000" stroke-width="0.80"/>
<line x1="321.48" y1="485.00" x2="321.48" y2="487.00" stroke="#000" stroke-width="0.80"/>
<line x1="322.81" y1="485.00" x2="322.81" y2="487.00" stroke="#000" stroke-width="0.80"/>
<line x1="329.48" y1="485.00" x2="329.48" y2="487.00" stroke="#000" stroke-width="0.80"/>
<line x1="332.68" y1="485.00" x2="332.68" y2="487.00" stroke="#000" stroke-width="0.80"/>
<line x1="334.96" y1="485.00" x2="334.96" y2="487.00" stroke="#000" stroke-width="0.80"/>
<line x1="336.72" y1="485.00" x2="336.72" y2="487.00" stroke="#000" stroke-width="0.80"/>
<line x1="338.16" y1="485.00" x2="338.16" y2="487.00" stroke="#000" stroke-width="0.80"/>
<line x1="339.38" y1="485.00" x2="339.38" y2="487.00" stroke="#000" stroke-width="0.80"/>
<line x1="340.44" y1="485.00" x2="340.44" y2="487.00" stroke="#000" stroke-width="0.80"/>
<line x1="341.37" y1="485.00" x2="341.37" y2="487.00" stroke="#000" stroke-width="0.80"/>
<text x="228.50" y="503.00" font-size="6.00" fill="#333" text-anchor="start" stroke="#333" stroke-width="0.3">0</text>
<text x="240.15" y="503.00" font-size="6.00" fill="#333" text-anchor="start" textLength="6.80" lengthAdjust="spacingAndGlyphs" stroke="#333" stroke-width="0.3">10</text>
<text x="247.55" y="497.40" font-size="6.60" fill="#333" text-anchor="start" stroke="#333" stroke-width="0.3">2</text>
<text x="267.70" y="503.00" font-size="6.00" fill="#333" text-anchor="start" textLength="6.80" lengthAdjust="spacingAndGlyphs" stroke="#333" stroke-width="0.3">10</text>
<text x="275.10" y="497.40" font-size="6.60" fill="#333" text-anchor="start" stroke="#333" stroke-width="0.3">3</text>
<text x="294.70" y="503.00" font-size="6.00" fill="#333" text-anchor="start" textLength="6.80" lengthAdjust="spacingAndGlyphs" stroke="#333" stroke-width="0.3">10</text>
<text x="302.10" y="497.40" font-size="6.60" fill="#333" text-anchor="start" stroke="#333" stroke-width="0.3">4</text>
<text x="321.10" y="503.00" font-size="6.00" fill="#333" text-anchor="start" textLength="6.80" lengthAdjust="spacingAndGlyphs" stroke="#333" stroke-width="0.3">10</text>
<text x="328.50" y="497.40" font-size="6.60" fill="#333" text-anchor="start" stroke="#333" stroke-width="0.3">5</text>
<text x="289.79" y="381.40" font-size="24.80" fill="#000" stroke="#000" stroke-width="0.45" textLength="50.42" lengthAdjust="spacingAndGlyphs">0.10</text>
<text x="297.85" y="482.40" font-size="17.50" fill="#000" stroke="#000" stroke-width="0.45" textLength="45.25" lengthAdjust="spacingAndGlyphs">99.90</text>
<line x1="429.10" y1="361.50" x2="429.10" y2="485.00" stroke="#b0b0b0" stroke-width="1.00"/>
<line x1="385.40" y1="447.40" x2="509.80" y2="447.40" stroke="#b0b0b0" stroke-width="1.00"/>
<path d="M441.0 460.0 L444.0 455.5 L448.0 453.5 L452.0 453.0 L456.0 454.0 L460.0 455.5 L463.0 459.0 L464.0 465.0 L464.0 472.0 L463.5 478.0 L462.0 483.5 L455.0 483.5 L448.0 482.0 L443.0 478.0 L441.0 472.0 L440.3 466.0 Z" fill="#000"/>
<path d="M439.1 466.4h.1m5.8 13.8h.1m4.6 -27.9h.1m-7.4 1.8h.1m-2.8 17h.1m8.2 12.5h.1m-8.8 -12.8h.1m-0.6 -10.1h.1m7.1 19.7h.1m15.6 -24.4h.1m2.3 12.5h.1m-1.5 -13.6h.1m2.3 6.1h.1m-18.5 20.3h.1m-10 -11h.1m8.6 12.9h.1m18.2 -23.6h.1m-14.6 -8.3h.1m2.3 1.6h.1m-6.8 29.4h.1m19.7 -19.9h.1m-21.3 -8.8h.1m14.9 30.5h.1m-1.4 -30.4h.1m-17.3 16.8h.1m-1.8 -8.4h.1m12.1 -9.2h.1m-6.1 27.5h.1m19.4 -12.2h.1m-0.1 12.1h.1m-8 -27.1h.1m-19.9 16.7h.1m15.1 13h.1m-7.8 -30.3h.1m1.5 0.8h.1m19 30.2h.1m-24.1 -13.8h.1m-0 4.4h.1m2 4.7h.1m5.9 3.8h.1m-6.7 -2.7h.1m-5.8 -18.4h.1m27.3 -1.9h.1m-12.7 -7.7h.1m13.8 10.1h.1m-19.7 -8.4h.1m-0.2 29.1h.1m8 -30.1h.1m11.4 23.6h.1m-24.2 -17.2h.1m-3.6 10.5h.1m9.1 13.8h.1m-6.1 -7.8h.1m-0.8 -3.3h.1m12.4 10.8h.1m-13.6 -0.8h.1m27.1 -2.8h.1m-17.8 3.3h.1m-6.9 -26.5h.1m-1.2 17.2h.1m21.8 8.4h.1m-14.5 2h.1m17.7 -22.5h.1m-3.5 -3.2h.1m-23.6 15.5h.1m23.4 -22.3h.1m-7 33h.1m-8.1 -1.3h.1m-5.2 -2.9h.1m-2.8 -9.8h.1m-0.8 -3.2h.1m0.9 8.4h.1m18.6 8.1h.1m-15.9 -1.4h.1m-5.6 -14.3h.1m22.6 -13.2h.1m-0.7 0h.1m-10.4 -2.2h.1m-1.9 30.3h.1m18 -7.7h.1m-2.2 -18.3h.1m2.8 9.7h.1m-27.9 13h.1m12.7 -27.5h.1m12.7 8.5h.1m-4.1 -6.9h.1m-10.2 30.6h.1m14.7 -17h.1m-26.9 -7h.1m4.8 -4.8h.1m-4.4 6.5h.1m25.2 16.3h.1m1 -12.9h.1m-8.9 -14.3h.1m7.7 8h.1m-8.8 -5.7h.1m9.5 12.5h.1m-25.4 3h.1m24.7 9.7h.1m0.8 -11.2h.1m-0.4 6.6h.1m-0 3.3h.1m-6.6 -22.6h.1m-23.4 10.5h.1m5.1 4.4h.1m13.3 -16.9h.1m10.7 26.3h.1m-6.6 -24.5h.1m-17.9 16.9h.1m-1.4 -11.6h.1m6.1 22.4h.1m-4.5 -6.4h.1m5.5 -24h.1m6.3 31.6h.1m11.1 -25h.1m-19.6 -3.8h.1m-3.9 19.6h.1m24.4 -17h.1m-10.3 -4.9h.1m-14.8 7.8h.1m6 21h.1m-5 -28.2h.1m-2.1 16.8h.1m8.7 13.9h.1m-3.1 -3.3h.1m11.6 4.1h.1m-15.7 -6.8h.1m1.8 0.8h.1m20.5 -16.8h.1m-1.2 20.9h.1m1 -17.5h.1m-26.3 1h.1m27.5 2.3h.1m-25.8 4.2h.1m-4 4h.1m4.7 1.1h.1m-0.9 -4.5h.1m22.6 -16.2h.1m-6.8 -5.6h.1m-11.2 28.6h.1m1.5 2.3h.1m15.1 -27h.1m-21.5 16.7h.1m23.6 -12.1h.1m0.5 5.4h.1m0.8 16.1h.1m-17.3 3h.1m-3.7 -29.3h.1m-4 4.4h.1m8.1 23.3h.1m4.5 0.9h.1m-12.6 -10.5h.1m14.7 11.2h.1m7.5 -5.1h.1m0.4 -18.7h.1m-2.1 -4.8h.1m-15.8 -2.2h.1m15.3 3.6h.1m-11.8 -5.8h.1m-8.9 22h.1m1 5.9h.1m20.7 -24.4h.1m-0.5 28.4h.1m-27.9 -19.5h.1m10.2 -10h.1m1.4 -0.5h.1m19.2 17.6h.1m-23.3 6.8h.1m22 -4.1h.1m-19.1 8.2h.1m-5.8 -7.8h.1m21.7 -21.7h.1m-16.5 0.1h.1m15.9 4.8h.1m-21.1 -2.5h.1m0.5 22.2h.1m-2 -6.7h.1m26.7 -13.7h.1m-0.4 12.4h.1m-2.5 10.9h.1m-16.5 1.8h.1m12.2 -28.8h.1m-16.3 4h.1m-2.9 -4.2h.1m2.8 28.7h.1m0.7 -29.9h.1m-4.8 29.5h.1m14.1 -27.8h.1m-1.4 -0.4h.1m2.2 0.1h.1m-2.3 30.3h.1m-10.2 -2.9h.1m22.4 -0.6h.1m-25.8 -16.6h.1m26.7 -3.8h.1m-23.6 17.8h.1m23.7 5.5h.1m-24.9 -23.5h.1m25 12.3h.1m-27.7 -8.6h.1m12.6 20.3h.1m13.4 -8.5h.1m0.5 -3h.1m-2.3 -13.2h.1m-3.3 -2.8h.1m-23.1 4h.1m6.7 -3.8h.1m16.4 -0.9h.1m3.4 20.4h.1m-7.3 9.1h.1m-17.3 -8.1h.1m-1.1 -4.9h.1m3.6 10.1h.1m22 -4.7h.1m-23.1 -1.4h.1m24.4 -13h.1m-18.9 19.4h.1m18.1 -12.3h.1m-28 0.2h.1m27.2 0.8h.1m-4.2 -16.1h.1m-0.2 30.2h.1m4.5 -18.2h.1m-26.7 10.2h.1m2.3 -4.8h.1m22.8 -12.6h.1m-24 -1.7h.1m-2 1h.1m12.3 -6.5h.1m-10.4 8.1h.1m24.1 0.8h.1m-20.1 -7.9h.1m-8.6 11.9h.1m13.9 19.4h.1m-10 -9.2h.1m-1.6 -5.3h.1m1.6 -9.4h.1m25.6 11.9h.1m-25.4 3h.1m18.2 -22.2h.1m-16.4 27.2h.1m22.4 -3.4h.1m-0.8 -18.1h.1m1.9 7.4h.1m-1.9 -2.4h.1m0 -4.5h.1m-22.1 19.8h.1m-2.1 -19.6h.1m24.5 4.9h.1m-21.5 -9.5h.1m6.7 -1.7h.1m-12.7 18.6h.1m16.3 12.7h.1m8.9 -23.8h.1m-1.2 -6.3h.1m1 2h.1m-23.1 7h.1m20.3 -7.9h.1m-7.8 -3.2h.1m-3.3 30.7h.1m14.7 -13.6h.1m-0.7 -7.9h.1m1.7 19.7h.1m-23.4 1.2h.1m-0.3 -5h.1m-1.6 -2.9h.1m7.5 8.3h.1m-7.1 -27.9h.1m8.9 -2.8h.1m-13.8 6.9h.1m14 24.3h.1m13.4 -10.2h.1m-24.7 -10.4h.1m-1.7 -3.1h.1m5.9 24.2h.1m-3.5 -9.7h.1m-1.2 -0.6h.1m20.4 -18.7h.1m-17.4 27.8h.1m22.3 -9.3h.1m-10 -21.2h.1m0.3 0.1h.1m-12.5 1.3h.1m21.9 15.2h.1m-24.9 1.3h.1m25.9 2.2h.1m-4.5 -20.1h.1m-3.8 2.8h.1m-18.3 8.1h.1m17.8 -8.8h.1m-17.7 10h.1m-1.4 5.9h.1m3.4 -13.3h.1m19.7 -3h.1m-15.4 -0.9h.1m-7.3 28.9h.1m15.3 -28.7h.1m4 2.4h.1m-19.6 17.6h.1m0.5 6.6h.1m-1.2 -0.4h.1m-9.5 -24.1h.1m1.3 9.5h.1m5.2 10.4h.1m-4.1 1.8h.1m-0.5 -18.4h.1m4 11.4h.1m4.4 7.4h.1m-3 -8.7h.1m-0.2 -14.8h.1m-3.3 21.1h.1m3.1 0.9h.1m-1.2 -8.6h.1m-1.1 12.5h.1m-1 -17h.1m-2.7 -3.5h.1m3.7 1.3h.1m2.1 3.5h.1m2.2 6.3h.1m-8.7 3.6h.1m-1.2 -11.4h.1m0.4 9.8h.1m5.5 -1h.1m-0.7 -7.2h.1m-4.1 -2.2h.1m6.5 -6.6h.1m-2.5 3.7h.1m0.3 9.6h.1m-4.6 -8.8h.1m0.3 10.7h.1m6.7 4h.1m-9.3 -5.6h.1m5.6 -14.8h.1m-2.1 17.5h.1m-2.5 -10.5h.1m0.2 -0.4h.1m2.2 0.2h.1m0 13.8h.1m5.1 2h.1m-8.4 -11.8h.1m-1.4 0.8h.1m7.1 -11.8h.1m0.9 4.7h.1m-5 9.9h.1m3.5 -5h.1m-2.9 14.1h.1m-2.8 -2.6h.1m2.3 -20.8h.1m-2.5 5.4h.1m4.7 10.7h.1m-5.6 -8.4h.1m3.6 -1.2h.1m5 -3.3h.1m-4.6 12.6h.1m3.2 -4.5h.1m-2.7 -5.1h.1m-4.3 11.2h.1m-1.3 -0.8h.1m9.7 7.8h.1m0.1 -2h.1m-1.8 1h.1m-8.3 -10.7h.1m1 -10.1h.1m5.8 16.8h.1m-0.3 -16h.1m1.7 -0.2h.1m-0.2 22.2h.1m0.8 -21.2h.1m-7 4.9h.1m7.1 11.2h.1m-5.7 -9.6h.1m0.4 -5h.1m3.7 7.3h.1m0.9 -2.9h.1m-1.2 12.2h.1" stroke="#000" stroke-width="1.50" stroke-linecap="square" fill="none"/>
<path d="M445.9 466.7h.1m9.1 -7.3h.1m-2.4 8h.1m6.2 -12.2h.1m-18.3 11.3h.1m21.8 6.7h.1m-0.8 -14.5h.1m-5.5 10h.1m1.3 -9.9h.1m-15.1 10.8h.1m11.2 2.5h.1m-12.5 -6.8h.1m4.6 -7.3h.1m3 8.2h.1m-7.2 10.3h.1m16.4 -13.7h.1m-17 4.2h.1m16.1 -11.4h.1m-8 22.1h.1m9 -6.5h.1" stroke="#fff" stroke-width="0.90" stroke-linecap="square" fill="none"/>
<rect x="463.50" y="469.40" width="46.30" height="15.60" fill="#fff"/>
<rect x="385.40" y="361.50" width="124.40" height="123.50" stroke="#000" stroke-width="1.40" fill="none"/>
<line x1="381.90" y1="373.30" x2="385.40" y2="373.30" stroke="#000" stroke-width="1.00"/>
<line x1="383.40" y1="392.87" x2="385.40" y2="392.87" stroke="#000" stroke-width="0.90"/>
<line x1="383.40" y1="387.94" x2="385.40" y2="387.94" stroke="#000" stroke-width="0.90"/>
<line x1="383.40" y1="384.44" x2="385.40" y2="384.44" stroke="#000" stroke-width="0.90"/>
<line x1="383.40" y1="381.73" x2="385.40" y2="381.73" stroke="#000" stroke-width="0.90"/>
<line x1="383.40" y1="379.51" x2="385.40" y2="379.51" stroke="#000" stroke-width="0.90"/>
<line x1="383.40" y1="377.64" x2="385.40" y2="377.64" stroke="#000" stroke-width="0.90"/>
<line x1="383.40" y1="376.01" x2="385.40" y2="376.01" stroke="#000" stroke-width="0.90"/>
<line x1="383.40" y1="374.58" x2="385.40" y2="374.58" stroke="#000" stroke-width="0.90"/>
<line x1="381.90" y1="401.10" x2="385.40" y2="401.10" stroke="#000" stroke-width="1.00"/>
<line x1="383.40" y1="420.67" x2="385.40" y2="420.67" stroke="#000" stroke-width="0.90"/>
<line x1="383.40" y1="415.74" x2="385.40" y2="415.74" stroke="#000" stroke-width="0.90"/>
<line x1="383.40" y1="412.24" x2="385.40" y2="412.24" stroke="#000" stroke-width="0.90"/>
<line x1="383.40" y1="409.53" x2="385.40" y2="409.53" stroke="#000" stroke-width="0.90"/>
<line x1="383.40" y1="407.31" x2="385.40" y2="407.31" stroke="#000" stroke-width="0.90"/>
<line x1="383.40" y1="405.44" x2="385.40" y2="405.44" stroke="#000" stroke-width="0.90"/>
<line x1="383.40" y1="403.81" x2="385.40" y2="403.81" stroke="#000" stroke-width="0.90"/>
<line x1="383.40" y1="402.38" x2="385.40" y2="402.38" stroke="#000" stroke-width="0.90"/>
<line x1="381.90" y1="429.40" x2="385.40" y2="429.40" stroke="#000" stroke-width="1.00"/>
<line x1="383.40" y1="448.97" x2="385.40" y2="448.97" stroke="#000" stroke-width="0.90"/>
<line x1="383.40" y1="444.04" x2="385.40" y2="444.04" stroke="#000" stroke-width="0.90"/>
<line x1="383.40" y1="440.54" x2="385.40" y2="440.54" stroke="#000" stroke-width="0.90"/>
<line x1="383.40" y1="437.83" x2="385.40" y2="437.83" stroke="#000" stroke-width="0.90"/>
<line x1="383.40" y1="435.61" x2="385.40" y2="435.61" stroke="#000" stroke-width="0.90"/>
<line x1="383.40" y1="433.74" x2="385.40" y2="433.74" stroke="#000" stroke-width="0.90"/>
<line x1="383.40" y1="432.11" x2="385.40" y2="432.11" stroke="#000" stroke-width="0.90"/>
<line x1="383.40" y1="430.68" x2="385.40" y2="430.68" stroke="#000" stroke-width="0.90"/>
<line x1="383.40" y1="364.87" x2="385.40" y2="364.87" stroke="#000" stroke-width="0.90"/>
<line x1="383.40" y1="359.94" x2="385.40" y2="359.94" stroke="#000" stroke-width="0.90"/>
<line x1="381.90" y1="459.50" x2="385.40" y2="459.50" stroke="#000" stroke-width="1.00"/>
<line x1="381.90" y1="472.50" x2="385.40" y2="472.50" stroke="#000" stroke-width="1.00"/>
<line x1="383.40" y1="462.70" x2="385.40" y2="462.70" stroke="#000" stroke-width="0.90"/>
<line x1="383.40" y1="465.70" x2="385.40" y2="465.70" stroke="#000" stroke-width="0.90"/>
<line x1="383.40" y1="468.50" x2="385.40" y2="468.50" stroke="#000" stroke-width="0.90"/>
<line x1="383.40" y1="476.00" x2="385.40" y2="476.00" stroke="#000" stroke-width="0.90"/>
<line x1="383.40" y1="479.50" x2="385.40" y2="479.50" stroke="#000" stroke-width="0.90"/>
<line x1="383.40" y1="482.50" x2="385.40" y2="482.50" stroke="#000" stroke-width="0.90"/>
<line x1="383.40" y1="456.00" x2="385.40" y2="456.00" stroke="#000" stroke-width="0.90"/>
<line x1="383.40" y1="453.00" x2="385.40" y2="453.00" stroke="#000" stroke-width="0.90"/>
<line x1="383.40" y1="450.00" x2="385.40" y2="450.00" stroke="#000" stroke-width="0.90"/>
<line x1="383.40" y1="447.00" x2="385.40" y2="447.00" stroke="#000" stroke-width="0.90"/>
<line x1="383.40" y1="444.00" x2="385.40" y2="444.00" stroke="#000" stroke-width="0.90"/>
<line x1="383.40" y1="441.00" x2="385.40" y2="441.00" stroke="#000" stroke-width="0.90"/>
<line x1="383.40" y1="437.50" x2="385.40" y2="437.50" stroke="#000" stroke-width="0.90"/>
<text x="368.80" y="377.70" font-size="6.00" fill="#333" text-anchor="start" textLength="6.80" lengthAdjust="spacingAndGlyphs" stroke="#333" stroke-width="0.3">10</text>
<text x="376.10" y="372.40" font-size="6.60" fill="#333" text-anchor="start" stroke="#333" stroke-width="0.3">5</text>
<text x="368.80" y="405.50" font-size="6.00" fill="#333" text-anchor="start" textLength="6.80" lengthAdjust="spacingAndGlyphs" stroke="#333" stroke-width="0.3">10</text>
<text x="376.10" y="400.20" font-size="6.60" fill="#333" text-anchor="start" stroke="#333" stroke-width="0.3">4</text>
<text x="368.80" y="433.80" font-size="6.00" fill="#333" text-anchor="start" textLength="6.80" lengthAdjust="spacingAndGlyphs" stroke="#333" stroke-width="0.3">10</text>
<text x="376.10" y="428.50" font-size="6.60" fill="#333" text-anchor="start" stroke="#333" stroke-width="0.3">3</text>
<text x="368.80" y="463.90" font-size="6.00" fill="#333" text-anchor="start" textLength="6.80" lengthAdjust="spacingAndGlyphs" stroke="#333" stroke-width="0.3">10</text>
<text x="376.10" y="458.60" font-size="6.60" fill="#333" text-anchor="start" stroke="#333" stroke-width="0.3">2</text>
<text x="372.80" y="476.10" font-size="6.00" fill="#333" text-anchor="start" stroke="#333" stroke-width="0.3">0</text>
<line x1="396.60" y1="485.00" x2="396.60" y2="488.50" stroke="#000" stroke-width="1.00"/>
<line x1="409.90" y1="485.00" x2="409.90" y2="488.50" stroke="#000" stroke-width="1.00"/>
<line x1="437.90" y1="485.00" x2="437.90" y2="488.50" stroke="#000" stroke-width="1.00"/>
<line x1="463.90" y1="485.00" x2="463.90" y2="488.50" stroke="#000" stroke-width="1.00"/>
<line x1="489.90" y1="485.00" x2="489.90" y2="488.50" stroke="#000" stroke-width="1.00"/>
<line x1="386.90" y1="485.00" x2="386.90" y2="487.00" stroke="#000" stroke-width="0.80"/>
<line x1="389.60" y1="485.00" x2="389.60" y2="487.00" stroke="#000" stroke-width="0.80"/>
<line x1="392.30" y1="485.00" x2="392.30" y2="487.00" stroke="#000" stroke-width="0.80"/>
<line x1="395.00" y1="485.00" x2="395.00" y2="487.00" stroke="#000" stroke-width="0.80"/>
<line x1="397.70" y1="485.00" x2="397.70" y2="487.00" stroke="#000" stroke-width="0.80"/>
<line x1="400.40" y1="485.00" x2="400.40" y2="487.00" stroke="#000" stroke-width="0.80"/>
<line x1="403.10" y1="485.00" x2="403.10" y2="487.00" stroke="#000" stroke-width="0.80"/>
<line x1="405.80" y1="485.00" x2="405.80" y2="487.00" stroke="#000" stroke-width="0.80"/>
<line x1="408.50" y1="485.00" x2="408.50" y2="487.00" stroke="#000" stroke-width="0.80"/>
<line x1="412.90" y1="485.00" x2="412.90" y2="487.00" stroke="#000" stroke-width="0.80"/>
<line x1="415.90" y1="485.00" x2="415.90" y2="487.00" stroke="#000" stroke-width="0.80"/>
<line x1="418.90" y1="485.00" x2="418.90" y2="487.00" stroke="#000" stroke-width="0.80"/>
<line x1="421.90" y1="485.00" x2="421.90" y2="487.00" stroke="#000" stroke-width="0.80"/>
<line x1="424.90" y1="485.00" x2="424.90" y2="487.00" stroke="#000" stroke-width="0.80"/>
<line x1="427.90" y1="485.00" x2="427.90" y2="487.00" stroke="#000" stroke-width="0.80"/>
<line x1="430.90" y1="485.00" x2="430.90" y2="487.00" stroke="#000" stroke-width="0.80"/>
<line x1="433.90" y1="485.00" x2="433.90" y2="487.00" stroke="#000" stroke-width="0.80"/>
<line x1="445.73" y1="485.00" x2="445.73" y2="487.00" stroke="#000" stroke-width="0.80"/>
<line x1="450.31" y1="485.00" x2="450.31" y2="487.00" stroke="#000" stroke-width="0.80"/>
<line x1="453.55" y1="485.00" x2="453.55" y2="487.00" stroke="#000" stroke-width="0.80"/>
<line x1="456.07" y1="485.00" x2="456.07" y2="487.00" stroke="#000" stroke-width="0.80"/>
<line x1="458.13" y1="485.00" x2="458.13" y2="487.00" stroke="#000" stroke-width="0.80"/>
<line x1="459.87" y1="485.00" x2="459.87" y2="487.00" stroke="#000" stroke-width="0.80"/>
<line x1="461.38" y1="485.00" x2="461.38" y2="487.00" stroke="#000" stroke-width="0.80"/>
<line x1="462.71" y1="485.00" x2="462.71" y2="487.00" stroke="#000" stroke-width="0.80"/>
<line x1="471.73" y1="485.00" x2="471.73" y2="487.00" stroke="#000" stroke-width="0.80"/>
<line x1="476.31" y1="485.00" x2="476.31" y2="487.00" stroke="#000" stroke-width="0.80"/>
<line x1="479.55" y1="485.00" x2="479.55" y2="487.00" stroke="#000" stroke-width="0.80"/>
<line x1="482.07" y1="485.00" x2="482.07" y2="487.00" stroke="#000" stroke-width="0.80"/>
<line x1="484.13" y1="485.00" x2="484.13" y2="487.00" stroke="#000" stroke-width="0.80"/>
<line x1="485.87" y1="485.00" x2="485.87" y2="487.00" stroke="#000" stroke-width="0.80"/>
<line x1="487.38" y1="485.00" x2="487.38" y2="487.00" stroke="#000" stroke-width="0.80"/>
<line x1="488.71" y1="485.00" x2="488.71" y2="487.00" stroke="#000" stroke-width="0.80"/>
<line x1="495.38" y1="485.00" x2="495.38" y2="487.00" stroke="#000" stroke-width="0.80"/>
<line x1="498.58" y1="485.00" x2="498.58" y2="487.00" stroke="#000" stroke-width="0.80"/>
<line x1="500.86" y1="485.00" x2="500.86" y2="487.00" stroke="#000" stroke-width="0.80"/>
<line x1="502.62" y1="485.00" x2="502.62" y2="487.00" stroke="#000" stroke-width="0.80"/>
<line x1="504.06" y1="485.00" x2="504.06" y2="487.00" stroke="#000" stroke-width="0.80"/>
<line x1="505.28" y1="485.00" x2="505.28" y2="487.00" stroke="#000" stroke-width="0.80"/>
<line x1="506.34" y1="485.00" x2="506.34" y2="487.00" stroke="#000" stroke-width="0.80"/>
<line x1="507.27" y1="485.00" x2="507.27" y2="487.00" stroke="#000" stroke-width="0.80"/>
<text x="394.40" y="503.00" font-size="6.00" fill="#333" text-anchor="start" stroke="#333" stroke-width="0.3">0</text>
<text x="406.05" y="503.00" font-size="6.00" fill="#333" text-anchor="start" textLength="6.80" lengthAdjust="spacingAndGlyphs" stroke="#333" stroke-width="0.3">10</text>
<text x="413.45" y="497.40" font-size="6.60" fill="#333" text-anchor="start" stroke="#333" stroke-width="0.3">2</text>
<text x="433.60" y="503.00" font-size="6.00" fill="#333" text-anchor="start" textLength="6.80" lengthAdjust="spacingAndGlyphs" stroke="#333" stroke-width="0.3">10</text>
<text x="441.00" y="497.40" font-size="6.60" fill="#333" text-anchor="start" stroke="#333" stroke-width="0.3">3</text>
<text x="460.60" y="503.00" font-size="6.00" fill="#333" text-anchor="start" textLength="6.80" lengthAdjust="spacingAndGlyphs" stroke="#333" stroke-width="0.3">10</text>
<text x="468.00" y="497.40" font-size="6.60" fill="#333" text-anchor="start" stroke="#333" stroke-width="0.3">4</text>
<text x="487.00" y="503.00" font-size="6.00" fill="#333" text-anchor="start" textLength="6.80" lengthAdjust="spacingAndGlyphs" stroke="#333" stroke-width="0.3">10</text>
<text x="494.40" y="497.40" font-size="6.60" fill="#333" text-anchor="start" stroke="#333" stroke-width="0.3">5</text>
<text x="456.18" y="382.00" font-size="24.80" fill="#000" stroke="#000" stroke-width="0.45" textLength="50.84" lengthAdjust="spacingAndGlyphs">0.00</text>
<text x="463.36" y="482.40" font-size="17.50" fill="#000" stroke="#000" stroke-width="0.45" textLength="44.13" lengthAdjust="spacingAndGlyphs">100.0</text>
<text x="37.18" y="531.30" font-size="17.30" fill="#000" stroke="#000" stroke-width="0.45" textLength="134.37" lengthAdjust="spacingAndGlyphs">NIH-HHD loaded</text>
<text x="20.83" y="552.50" font-size="17.30" fill="#000" stroke="#000" stroke-width="0.45" textLength="171.93" lengthAdjust="spacingAndGlyphs">with Melan-A/MART-1</text>
<text x="238.73" y="531.00" font-size="17.30" fill="#000" stroke="#000" stroke-width="0.45" textLength="81.87" lengthAdjust="spacingAndGlyphs">NIH-HHD-</text>
<text x="210.76" y="552.60" font-size="17.30" fill="#000" stroke="#000" stroke-width="0.45" textLength="135.90" lengthAdjust="spacingAndGlyphs">Melan-A/MART-1</text>
<text x="410.42" y="552.50" font-size="17.30" fill="#000" stroke="#000" stroke-width="0.45" textLength="75.94" lengthAdjust="spacingAndGlyphs">NIH-HHD</text>
<line x1="90.50" y1="557.50" x2="90.50" y2="681.30" stroke="#b0b0b0" stroke-width="1.00"/>
<line x1="47.30" y1="642.00" x2="171.00" y2="642.00" stroke="#b0b0b0" stroke-width="1.00"/>
<path d="M92.0 651.0 L96.0 649.0 L100.0 648.5 L105.0 649.5 L110.0 649.0 L115.0 649.5 L119.0 651.0 L122.0 654.0 L124.0 658.0 L124.8 664.0 L124.5 670.0 L123.5 676.0 L121.5 680.0 L113.0 680.5 L108.0 677.5 L103.0 674.0 L97.0 671.5 L92.0 670.5 Z" fill="#000"/>
<path d="M123.9 657.6h.1m-9.1 -8.6h.1m-15.8 24.6h.1m-4.3 0.8h.1m-1.4 -24.7h.1m31.7 10.2h.1m1.3 6h.1m-1.8 -8.3h.1m-32.7 -7.8h.1m23.7 -0.2h.1m-9.8 -0.4h.1m18.3 19.3h.1m-0.1 7.5h.1m-1.3 -0.3h.1m-16.7 1.7h.1m15 -23.9h.1m-8.2 -4.1h.1m-20.7 -0.1h.1m30.2 6.5h.1m3.4 4.5h.1m-25.2 17h.1m-4 -3.9h.1m23.5 -20.6h.1m-9.4 -4.2h.1m-12.8 -0.3h.1m24.3 11.8h.1m1.6 -0.1h.1m-34.6 11.5h.1m17.7 7.5h.1m14.7 -23.3h.1m-32.6 1.3h.1m34.1 3.5h.1m-0.9 -1.9h.1m-0.1 12h.1m-21 5.3h.1m21.1 -7.2h.1m-0.8 6.7h.1m-2.2 -24.4h.1m-20.8 27.5h.1m-3.3 -2.2h.1m-7 -12h.1m-0.2 3.6h.1m14.4 8.7h.1m3.4 4.2h.1m-18 -34.1h.1m26.6 33.9h.1m-13.6 -31.3h.1m-0.2 26.3h.1m19.6 -20.9h.1m-16.2 -6.2h.1m11.5 2.6h.1m-24.3 -2.6h.1m0.3 0.4h.1m11 -0.2h.1m16.9 24.3h.1m0.9 -20.5h.1m-10.2 -3.4h.1m-23 0.6h.1m13.6 -2.6h.1m-9.6 25.8h.1m29.4 -7.3h.1m-26.4 9.7h.1m19.3 -26h.1m-24.1 -0.9h.1m31.9 17.9h.1m-0.9 -0.9h.1m-15.3 -17.3h.1m15.3 20.1h.1m-8.2 12.3h.1m-10.7 -0.3h.1m11 0h.1m-14.1 -3.1h.1m15.9 3.4h.1m-25.6 -31.9h.1m16 -0.2h.1m10.9 32.1h.1m-7.1 0.2h.1m-4.5 -0.2h.1m12.8 -4.3h.1m-1.1 -20.5h.1m-7.4 25h.1m-22.1 -31.7h.1m11.3 27.7h.1m9.1 -28.7h.1m-0.2 0.6h.1m1.6 -2.7h.1m-8.9 1h.1m-15.6 12h.1m8.7 -10.9h.1m-8.4 23.1h.1m6.9 2.1h.1m13.7 -26.2h.1m-8.1 29.1h.1m-3.8 -27.6h.1m2.8 0.5h.1m20.1 10.5h.1m-20.5 18.4h.1m14.5 -27.9h.1m-8.8 -3.1h.1m13.7 9.5h.1m-28.9 16.5h.1m29.2 3.1h.1m-31 -4.6h.1m-2 -18.8h.1m20.1 -3.6h.1m-14.2 22.9h.1m8.3 4.8h.1m6.1 4.3h.1m-10.2 -5.8h.1m-10.5 -15.8h.1m0.1 -10.8h.1m0.4 0.7h.1m33.6 12.6h.1m-8.6 -11.8h.1m4.3 29.7h.1m-12.6 -31h.1m-13.3 22.7h.1m21.7 -20.9h.1m1.1 -2h.1m5.8 3.6h.1m-30.2 -5.5h.1m13.7 32.9h.1m-2.5 -32.2h.1m-7.3 0.3h.1m25.8 5h.1m-33.7 15.9h.1m31.6 -12.5h.1m1.9 18.9h.1m-3.1 4.1h.1m-0.5 -28.2h.1m-30.6 20.3h.1m5.6 0.4h.1m22.4 -20.4h.1m-12.6 27h.1m-15.8 -27h.1m3.7 21.5h.1m17.4 -26.5h.1m12.4 27.9h.1m-0.4 -13.4h.1m-2.1 -5.5h.1m-27.4 -10h.1m30.9 9.5h.1m-1.1 7.9h.1m0.6 0.9h.1m-0.8 -2.7h.1m-19.4 -14h.1m-14.4 24.8h.1m31.9 -17.7h.1m1.7 10.8h.1m-2.1 10.9h.1m-1.3 5.3h.1m-20.7 -33.2h.1m-6 25.8h.1m30.5 -11.8h.1m-2 6.8h.1m-20.4 6.9h.1m-12.1 -26.2h.1m30.2 29.6h.1m3.4 -19.5h.1m0.9 15.6h.1m-15.7 -29.6h.1m12.4 10.6h.1m-31.2 15.6h.1m-1.6 -6.7h.1m4.7 6.7h.1m27.3 -16h.1m-5.7 25.4h.1m6.4 -6.2h.1m1.1 -13.3h.1m-3.2 -9.5h.1m2 10.5h.1m-21.1 -13.6h.1m-11.3 0.8h.1m21.2 -2.3h.1m-17.2 -0.1h.1m8.5 30.3h.1m18.2 -20.8h.1m1.6 8.6h.1m-0 -4.3h.1m-20.3 14.9h.1m-6 -2.8h.1m1.2 0.4h.1m23.6 -0.4h.1m-28.4 -0.4h.1m7.7 3.9h.1m21.7 -10.9h.1m-13.1 -17.1h.1m-16.7 -0.9h.1m29.8 21.2h.1m-33.1 2.8h.1m18.1 -24.2h.1m-12.1 0.9h.1m5 27.6h.1m5.1 3.9h.1m-0.4 -1.2h.1m14.8 0.5h.1m-27.4 -6.4h.1m27.3 -15.1h.1m0.2 12.7h.1m-14.6 -24.7h.1m9.2 5.3h.1m6.1 17.6h.1m-23.6 8.4h.1m22.3 -16.5h.1m-5.2 20.2h.1m5.6 -14.4h.1m-33.6 5h.1m18.3 8.9h.1m0.7 -32h.1m14.5 9.9h.1m-15.3 22.6h.1m-16 -31.6h.1m16 -1.5h.1m-17.6 1h.1m14.7 0h.1m-12.5 -0.8h.1m30.7 21h.1m0.6 -7.8h.1m-0.3 -2.9h.1m-26.7 -11.4h.1m24 33.7h.1m-0.8 -3.2h.1m-3.9 -28.9h.1m1.7 1.4h.1m-25.6 21.8h.1m9.1 4.6h.1m-2 -1.7h.1m2.7 2.6h.1m20.2 -2.3h.1m-13.5 -27.5h.1m12.5 17.7h.1m-18.9 12.6h.1m17.3 -3.5h.1m-32.7 -24.2h.1m35 12.8h.1m-2.3 17.7h.1m1 -19.3h.1m-26.8 12.5h.1m9.1 -24.6h.1m4.9 0.2h.1m-16.8 22.9h.1m0.1 3.5h.1m13.7 4.3h.1m-0.1 -0.4h.1m-2.9 -31.5h.1m-16.2 12.3h.1m32.5 15.4h.1m-21.9 0.3h.1m23.1 -7.6h.1m-0.3 -8.8h.1m-31.3 -9.7h.1m8.9 -1.1h.1m8.1 31.5h.1m3.6 -31.4h.1m-4.3 -2h.1m9.2 33.3h.1m2.5 -27.9h.1m2.3 6.1h.1m-21.9 -9.2h.1m6.2 -4.3h.1m-17.2 26.4h.1m12.7 6.1h.1m17.6 -24.7h.1m0.7 24.7h.1m-11.6 -29.9h.1m12.4 27.5h.1m-27.4 -27.1h.1m27 28.2h.1m-30 -27.3h.1m26 31.4h.1m4.8 -14.4h.1m-23.3 8.4h.1m6.4 -29.4h.1m1.3 4h.1m-2.4 30.2h.1m16.2 -2.6h.1m-26.1 -2.9h.1m1.7 -25.4h.1m-8.7 20.8h.1m1.1 3.3h.1m16.6 8.9h.1m15.5 -17.1h.1m-18.9 14h.1m1.7 1.3h.1m-12.7 -31.4h.1m8.7 28.9h.1m-0 -27.6h.1m9.5 31.4h.1m-15.5 -33.1h.1m26.5 8.1h.1m-29.2 -7h.1m29.1 18.1h.1m-8.3 -16.5h.1m-9.9 29.7h.1m-13.7 -6.8h.1m31.9 3.3h.1m-5 4.2h.1m-15.2 -2.2h.1m-0.4 -32.8h.1m14.3 34.9h.1m-18 -1.6h.1m2.2 0.9h.1m-12.4 -2.8h.1m11.3 0.3h.1m-10 -1.9h.1m8.4 3.5h.1m-10.1 -4.1h.1m19.1 6.3h.1m-19.3 -1.7h.1m13.7 -0.1h.1m-6.2 0.2h.1m-1.7 -6.1h.1m-3.6 -1.4h.1m-0.7 2.6h.1m8.3 0.9h.1m-3.7 1.2h.1m-3.9 -0.3h.1m2.9 4.4h.1m2.2 -1.7h.1m-6.1 1.4h.1m15.4 0.5h.1m-15.7 -8.3h.1m2.2 1.9h.1m-2.1 6.4h.1m4.3 -1.4h.1m2.9 0.2h.1m1.6 -0.5h.1m3.6 1.6h.1m-5 -2.1h.1m3.8 0.8h.1m-5.9 -5.5h.1m-7.8 6.5h.1m1.6 -2.5h.1m4.8 1.4h.1m-2.3 -6.6h.1m11 7.5h.1m-2.1 -0.5h.1m-11 -3.2h.1m5.9 -1.9h.1m-4.9 -0.6h.1m0.6 -1.5h.1m-0.1 3.8h.1m-5.5 -3.2h.1m1 0.9h.1m18.2 6.4h.1m-13.1 -6.1h.1m5.4 5.2h.1m-11.7 -8.3h.1m6.6 4.4h.1m10.5 5.1h.1m-16.3 -68.1h.1m9 -0.4h.1m-8.6 -1.4h.1m15.7 -20.7h.1m-8.2 10.7h.1m10.3 18.1h.1m-12.8 -8.3h.1m10.5 -4.7h.1m-14.6 10.3h.1m2.1 -8.5h.1m9.8 12.5h.1m-10.7 -1.9h.1m7.8 -20.4h.1m1.4 19.9h.1m-5.2 -10.3h.1m9.8 7.4h.1m0.5 1h.1m-10.7 -17.2h.1m7.2 8.8h.1m-0.6 -15.6h.1m-9.1 31.5h.1m2.3 0.1h.1m7.1 -23.4h.1m-8.3 11.3h.1m5.4 -9.5h.1m3.3 23.1h.1m-0 -12.6h.1m-4.9 0.8h.1m-3.4 -8.3h.1m-8.1 -0.3h.1m1.7 9.5h.1m9 -1.8h.1m-9.9 -18.9h.1m4.8 -0.9h.1m2.8 -3.3h.1m4.5 11h.1m-9.5 2.1h.1m4.1 -6.6h.1m2.8 4.7h.1m3.7 19.3h.1m-6.2 -3.5h.1m0.2 4.9h.1m9 -13.2h.1m-1 16.1h.1m-2.1 -7.5h.1m-1.5 -24.2h.1m5.8 12.6h.1m-6.7 -1.8h.1m-10.7 19.9h.1m5.8 -33.9h.1m-1.6 33h.1m-2.2 -29.2h.1m3.6 20.5h.1m10.4 -7.8h.1m-2.1 -5.7h.1m-2.5 18.1h.1m4.1 1h.1m-1 4.4h.1m-1.3 -25.8h.1m-11 14.6h.1m10.1 -13.7h.1m-6.4 16.8h.1m3.6 6.7h.1m0.1 -6.5h.1m-10.7 -18.6h.1m5.7 9.7h.1m-4.7 -8.1h.1m3.4 2.6h.1m-3 -3.9h.1m7.9 3.3h.1m-7.6 19h.1m10.3 -9.1h.1m1.4 5.4h.1m-9.3 -2h.1m6.8 -11h.1m3.1 7.3h.1m-2.5 -3.8h.1m-8.5 -2.7h.1m6 -13.3h.1m-0.6 7.7h.1m-11.6 7h.1m17.4 17.6h.1m-18 -11.5h.1m1.4 -4.4h.1m10.1 -6.2h.1m5.2 3.9h.1m-6.8 20.3h.1m0.3 -33h.1m-2.7 23h.1m1.9 -25.4h.1m-3 11.2h.1m-7.1 14h.1m17.9 -18.4h.1m-18.1 -3.1h.1m16.6 3h.1m-15 12.4h.1m1.7 5.1h.1m2.1 -0.3h.1m-5.7 -1.9h.1m18 -7.4h.1m-13.5 21.6h.1m6.8 -14.5h.1m2.5 0.8h.1m2.6 -0.2h.1m-11 -19.9h.1m9.5 27.1h.1m-3.8 -24.1h.1m-3.4 12.8h.1m4.6 15.2h.1m-10.4 -12.4h.1m7.8 12.2h.1m-7.2 -0.5h.1m3.7 -22.8h.1m-4.5 -8.4h.1m-1.8 9.9h.1m3.4 -8h.1m6.3 5.4h.1m6.1 2.5h.1m-9.6 -7.8h.1m-6.6 3.9h.1m9.6 18.8h.1m-10.3 -0.2h.1m0.3 7.8h.1m6 -3h.1m5.3 -9.1h.1m-2.4 -8.9h.1m-0.2 -12.1h.1m-5.5 4.2h.1m11.9 9.1h.1m-6.7 -12.5h.1m-5.5 10.7h.1m7.7 12.2h.1m-9.7 -19.8h.1m0.7 25.4h.1m8.4 -26.9h.1m-1.2 15.6h.1m0.2 12.9h.1m-10.9 -2.5h.1m-0 6.5h.1m10.4 -12.3h.1m-9.9 6.6h.1m10.7 -25.1h.1m-7.7 5.1h.1m0.1 18.8h.1m1 -24.5h.1m1.7 13.3h.1m9.1 -1.5h.1m-6 2.4h.1m-6.7 5.7h.1m12.9 -18.9h.1m-8 -0.2h.1m-5.3 12.9h.1m3.7 12.8h.1m-10.7 -10.1h.1m9.5 -20.6h.1m-3.8 24h.1m14.1 -15.6h.1m-8.2 -2.4h.1m-3.3 18.1h.1m4.4 8.3h.1m-9.2 -0.1h.1m15 -3.8h.1m-6.1 1.8h.1m-5.8 -21.9h.1m8.6 -5.1h.1m-9.2 11.8h.1m-5.8 5.8h.1m11.3 -3.4h.1m5.1 11.1h.1m-8.7 -22.2h.1m10.5 14.5h.1m-4.6 -9.3h.1m-10.7 -0.4h.1m13 15h.1m-4.2 2.8h.1m-6 0.1h.1m2.1 -10.3h.1m-8.5 10h.1m2.4 0.1h.1m4.4 -5.3h.1m3 -14h.1m0 27.4h.1m-4.2 -10.1h.1m-7.6 -7.1h.1m4 -14.5h.1m7.9 3.3h.1m-3 13.6h.1m9.6 5.3h.1m-11.3 -0.4h.1m3.5 5.8h.1m0.1 1.5h.1m3.5 -33.9h.1m-7.1 25.6h.1m2.1 -6.4h.1m6.5 -18.4h.1m-1.9 -0.6h.1m-7.7 35.5h.1m-5.6 -32.3h.1m7.1 27.2h.1m-7.2 1.6h.1m4.1 3h.1m3.9 -22.2h.1m3.1 16.2h.1m-1 -15.6h.1m-7.5 0.9h.1m2.5 1.1h.1m0.2 14h.1m-1.1 -4.3h.1m4.9 -21.8h.1m-11.1 23.9h.1m9.7 -2.1h.1m-8.8 5.7h.1m0.1 -15.8h.1m6.4 12.4h.1m-0 -18.3h.1m1.1 -0.5h.1m1.4 12.8h.1m-8.3 -3.5h.1m15.2 7.8h.1m-0.4 -4.4h.1m-3.6 6.3h.1m-0.1 -4.5h.1m-2.9 -6.1h.1m-5.1 5.5h.1m-1.4 11.4h.1m13.4 -13.5h.1m-13.4 4.2h.1m-0.5 6.8h.1m-4.3 -9.7h.1m18 -9.3h.1m-1.6 5.6h.1m-14.4 -0.2h.1m11.7 11.9h.1m-15.8 -7.9h.1m2.4 -14.6h.1m8 21.4h.1m3.7 -22h.1m-9.8 12.3h.1m0.8 12.5h.1m-2.7 -27.9h.1m11.1 0.1h.1m-11.7 20.5h.1m3.1 0.5h.1m10.1 -19.7h.1m2.8 11h.1m0.2 14h.1m-0.3 -23.4h.1m-18.6 17.2h.1m13.7 -10.3h.1m-3.8 -10.1h.1m-0.3 27.5h.1m9.4 -20.1h.1m-3.7 -4.2h.1m-1.4 5.3h.1m-6.8 -0.6h.1m0.7 23.5h.1m6 -31.2h.1m-12.2 7.8h.1m6.7 -8.9h.1m-6.4 3h.1m6.7 3.8h.1m-4.6 0.4h.1m1.2 3.5h.1m-6.6 1.8h.1m5.1 6.3h.1m13.8 2.8h.1m-1.2 5.6h.1m-8.7 5.9h.1m-7.4 -22.5h.1m1.5 17.1h.1m3.2 -14.9h.1m-7.3 7.8h.1m15.2 9.9h.1m-5.5 -9.3h.1m6.5 -20.7h.1m1.4 5.1h.1m-11.8 15.9h.1m-3.6 -20.2h.1m-1 0.5h.1m0.4 11.2h.1m8.5 -9.5h.1m4.8 14.2h.1m-12.3 -11.5h.1m12.7 -2.1h.1m-7.8 23.3h.1m-1.3 -25.2h.1m5.6 27.7h.1m-4.3 -0.9h.1m3.4 -7.7h.1m4.8 -19h.1m-0.8 6.7h.1m-2.3 3.6h.1m-1.7 7.3h.1m-2.6 -10.2h.1m-7.5 14.9h.1m8.1 -16.6h.1m-7.4 15.9h.1m10.2 -14.7h.1m-11.1 -7.7h.1m5.1 27.1h.1m-2.3 -2.1h.1m10.8 -22h.1m-16.3 21.8h.1m13.4 -18.9h.1m3.1 2.3h.1m-11.4 -4.6h.1m-1.3 24.5h.1m4.8 -5.1h.1m-1.3 -2.3h.1m1.8 8.5h.1m9 -24.4h.1m-13.6 11.5h.1m-6.2 0.1h.1m1 -5.2h.1m2.2 -0.8h.1m12.8 14h.1m-7.1 -6h.1m6.8 3.2h.1m-1.3 -4.9h.1m-2.5 6.3h.1m4.9 -4.7h.1m-17 -14.5h.1m2.8 15.7h.1m14 3.1h.1m-12.8 -7.1h.1m8.1 -7.3h.1m0.3 9.6h.1m-14.5 -18.6h.1m5.5 -2h.1m-1.2 14h.1m15.4 -1.5h.1m-17.1 -3.2h.1m9.4 10.6h.1m5.4 -14.1h.1m-6 14.8h.1m-1.2 -19h.1m0.6 17.8h.1m-5.6 3.6h.1m0.7 -7.9h.1m-5.5 7.7h.1m14.6 -5.6h.1m2.7 7h.1m-6.4 -4.1h.1m6.5 5.6h.1m-7.8 6.1h.1m-0.1 -17h.1m-5.3 -14.4h.1m12 25.4h.1m-4.9 7.9h.1m2.7 -5h.1m-7.9 -26.2h.1m-9 14h.1m11.4 -5.6h.1m-4.3 -9h.1m11.3 4.1h.1m-14.4 5.1h.1m3.4 20.8h.1m-0.1 -20.6h.1m-6.6 12.5h.1m16 0h.1m-0.7 -5.6h.1m-10.5 13.3h.1m6.4 -2.3h.1m0.9 -30.3h.1m3.3 0.3h.1m-14.5 4.6h.1m8.5 4h.1m-3 -7.5h.1m-7.9 5.4h.1m13.7 1.9h.1m-1.2 19.5h.1m-4.9 -11.5h.1m-6 17.1h.1m13.1 -5.4h.1m-13.5 3.7h.1m13.1 -23.1h.1m-16 3.5h.1m7.8 -4.1h.1m-5.4 3.9h.1m9.4 -4.7h.1m-9.8 -0.6h.1m6.8 16.3h.1m5.1 7.2h.1m-1 -24h.1m-0.9 11.8h.1m5.2 11.7h.1m-7.1 -5.7h.1m-3.7 9.1h.1m3.7 -22h.1m-4.4 1.6h.1m9.8 17.5h.1m-16.1 -9.7h.1m15.8 9.2h.1m-7.3 -25.4h.1m2.9 30.1h.1m6 -22.2h.1m-1.5 -6.3h.1m-8.6 19.5h.1m4.7 6.3h.1m-0.9 1.8h.1m8.1 -32.5h.1m-12.5 46.9h.1m12.3 -18.7h.1m-10.1 12.5h.1m0.9 -1.9h.1m-12.8 -35.4h.1m24.8 4.4h.1m-16.4 30.9h.1m1.1 7.7h.1m-10 -36.8h.1m3 -10h.1m21 23.5h.1m-0.3 -24.6h.1m-0.3 19.7h.1m-1.4 -21.7h.1m-1.4 4.9h.1m6.5 12.2h.1m-10.4 -20.7h.1m4.6 33.3h.1m-0.7 19.3h.1m3.9 -28.7h.1m-4.8 11.9h.1m6.4 -0.3h.1m-6.6 -2h.1m1.9 -15.6h.1m-5.5 -12.8h.1m-10.8 43.2h.1m15.7 -38.6h.1m-12.6 38.3h.1m11.8 -11.2h.1m-0.1 -8.8h.1m-1.4 12h.1m-11.9 -39.2h.1m-0 50.3h.1m2.7 -3.4h.1m6.7 -0.2h.1m-12.3 -0.4h.1m3.5 0.9h.1m-10.1 -10.2h.1m21.3 -34.8h.1m-8.6 39.6h.1m-13.6 4.4h.1m23.3 -37.3h.1m-14.7 42.9h.1m3.9 -4.4h.1m12 -42.6h.1m-6.5 44.4h.1m-0.8 -2.9h.1m-16.3 -2.7h.1m24.3 -35.9h.1m-24.4 28.3h.1m9 7.5h.1m6 10.3h.1m10 -22.7h.1m-1.1 -20.7h.1m-24 24.8h.1m20.1 -16.6h.1m-11.1 -16.6h.1m5.9 1.6h.1m8.4 35.4h.1m-23.3 -2.5h.1m20.6 -20.4h.1m2.2 7.2h.1m-4.2 4h.1m-20.2 -18.1h.1m7 46h.1m14.5 -7h.1m1.2 -31.8h.1m-22.7 30.7h.1m0.5 1h.1m21.2 -12.4h.1m-15.5 11.4h.1m6.5 -0.8h.1m8.2 -25.3h.1m-4.2 20.7h.1m-3.8 -39.8h.1m-7.9 2.2h.1m17.9 17.3h.1m-11.9 23.5h.1m6.6 -39.9h.1m1.4 40.2h.1m-17.6 -2.9h.1m22.6 -30.8h.1m-22.3 43.6h.1m-1.1 -51.8h.1m18.7 37.5h.1m-14.4 5.2h.1m17.3 -42.6h.1m0.4 36.6h.1m-14.9 9.3h.1m11.2 -32.1h.1m-10.4 28.3h.1m5.3 -3.9h.1m6.2 6.9h.1m-8.5 -3.7h.1m2.1 -4h.1m-7.7 0.8h.1m7.4 5.6h.1m1.3 -45.5h.1m-15.2 48.1h.1m21.2 -8.8h.1m-2.6 -12.6h.1m-22.7 -10h.1m8 30.1h.1m18.2 -35.4h.1m-9.8 30.4h.1m5.4 -20.9h.1m2.2 -25h.1m-15.5 55.2h.1m14.5 -38.7h.1m-8.6 29h.1m6.2 -18.9h.1m-21.4 10.8h.1m11.2 8.8h.1m10.3 -39.7h.1m-9.2 -3.7h.1m6.6 45.5h.1m0.7 -40.7h.1m-3.7 39.7h.1m-16.4 -21.5h.1m12.9 26h.1m7.6 -51.6h.1m-9.9 51.3h.1m13.5 -22.8h.1m-10.4 21h.1m7.9 -21.9h.1m-20.1 21.9h.1m17.5 -0.5h.1m2.1 -17.7h.1m-7.7 19.2h.1" stroke="#000" stroke-width="1.50" stroke-linecap="square" fill="none"/>
<path d="M103.6 668.7h.1m-8.4 0.1h.1m6.8 -1.9h.1m-2.6 0.6h.1m2.7 -8.8h.1m-0.1 -2.9h.1m-1.1 -1.5h.1m-8.9 11.9h.1m8.4 -3.9h.1m-1 -10.1h.1m-2.1 4.9h.1m-5 -4h.1m5.1 7.6h.1m3 -6.5h.1m-2.6 1h.1m-3.4 2h.1m16.6 19.4h.1m-2.9 -15.2h.1m3.2 0.8h.1m-4.6 -7.5h.1m5.4 -3.7h.1m-12.1 4.5h.1m-3.2 11h.1m13.7 -13.7h.1m7.4 13.3h.1m-12.7 7.5h.1m14 -9.1h.1m-2.2 -12.4h.1" stroke="#fff" stroke-width="0.90" stroke-linecap="square" fill="none"/>
<rect x="125.90" y="664.60" width="45.10" height="16.70" fill="#fff"/>
<rect x="47.30" y="557.50" width="123.70" height="123.80" stroke="#000" stroke-width="1.40" fill="none"/>
<line x1="43.80" y1="569.30" x2="47.30" y2="569.30" stroke="#000" stroke-width="1.00"/>
<line x1="45.30" y1="588.87" x2="47.30" y2="588.87" stroke="#000" stroke-width="0.90"/>
<line x1="45.30" y1="583.94" x2="47.30" y2="583.94" stroke="#000" stroke-width="0.90"/>
<line x1="45.30" y1="580.44" x2="47.30" y2="580.44" stroke="#000" stroke-width="0.90"/>
<line x1="45.30" y1="577.73" x2="47.30" y2="577.73" stroke="#000" stroke-width="0.90"/>
<line x1="45.30" y1="575.51" x2="47.30" y2="575.51" stroke="#000" stroke-width="0.90"/>
<line x1="45.30" y1="573.64" x2="47.30" y2="573.64" stroke="#000" stroke-width="0.90"/>
<line x1="45.30" y1="572.01" x2="47.30" y2="572.01" stroke="#000" stroke-width="0.90"/>
<line x1="45.30" y1="570.58" x2="47.30" y2="570.58" stroke="#000" stroke-width="0.90"/>
<line x1="43.80" y1="597.10" x2="47.30" y2="597.10" stroke="#000" stroke-width="1.00"/>
<line x1="45.30" y1="616.67" x2="47.30" y2="616.67" stroke="#000" stroke-width="0.90"/>
<line x1="45.30" y1="611.74" x2="47.30" y2="611.74" stroke="#000" stroke-width="0.90"/>
<line x1="45.30" y1="608.24" x2="47.30" y2="608.24" stroke="#000" stroke-width="0.90"/>
<line x1="45.30" y1="605.53" x2="47.30" y2="605.53" stroke="#000" stroke-width="0.90"/>
<line x1="45.30" y1="603.31" x2="47.30" y2="603.31" stroke="#000" stroke-width="0.90"/>
<line x1="45.30" y1="601.44" x2="47.30" y2="601.44" stroke="#000" stroke-width="0.90"/>
<line x1="45.30" y1="599.81" x2="47.30" y2="599.81" stroke="#000" stroke-width="0.90"/>
<line x1="45.30" y1="598.38" x2="47.30" y2="598.38" stroke="#000" stroke-width="0.90"/>
<line x1="43.80" y1="625.40" x2="47.30" y2="625.40" stroke="#000" stroke-width="1.00"/>
<line x1="45.30" y1="644.97" x2="47.30" y2="644.97" stroke="#000" stroke-width="0.90"/>
<line x1="45.30" y1="640.04" x2="47.30" y2="640.04" stroke="#000" stroke-width="0.90"/>
<line x1="45.30" y1="636.54" x2="47.30" y2="636.54" stroke="#000" stroke-width="0.90"/>
<line x1="45.30" y1="633.83" x2="47.30" y2="633.83" stroke="#000" stroke-width="0.90"/>
<line x1="45.30" y1="631.61" x2="47.30" y2="631.61" stroke="#000" stroke-width="0.90"/>
<line x1="45.30" y1="629.74" x2="47.30" y2="629.74" stroke="#000" stroke-width="0.90"/>
<line x1="45.30" y1="628.11" x2="47.30" y2="628.11" stroke="#000" stroke-width="0.90"/>
<line x1="45.30" y1="626.68" x2="47.30" y2="626.68" stroke="#000" stroke-width="0.90"/>
<line x1="45.30" y1="560.87" x2="47.30" y2="560.87" stroke="#000" stroke-width="0.90"/>
<line x1="45.30" y1="555.94" x2="47.30" y2="555.94" stroke="#000" stroke-width="0.90"/>
<line x1="43.80" y1="655.50" x2="47.30" y2="655.50" stroke="#000" stroke-width="1.00"/>
<line x1="43.80" y1="668.50" x2="47.30" y2="668.50" stroke="#000" stroke-width="1.00"/>
<line x1="45.30" y1="658.70" x2="47.30" y2="658.70" stroke="#000" stroke-width="0.90"/>
<line x1="45.30" y1="661.70" x2="47.30" y2="661.70" stroke="#000" stroke-width="0.90"/>
<line x1="45.30" y1="664.50" x2="47.30" y2="664.50" stroke="#000" stroke-width="0.90"/>
<line x1="45.30" y1="672.00" x2="47.30" y2="672.00" stroke="#000" stroke-width="0.90"/>
<line x1="45.30" y1="675.50" x2="47.30" y2="675.50" stroke="#000" stroke-width="0.90"/>
<line x1="45.30" y1="678.50" x2="47.30" y2="678.50" stroke="#000" stroke-width="0.90"/>
<line x1="45.30" y1="652.00" x2="47.30" y2="652.00" stroke="#000" stroke-width="0.90"/>
<line x1="45.30" y1="649.00" x2="47.30" y2="649.00" stroke="#000" stroke-width="0.90"/>
<line x1="45.30" y1="646.00" x2="47.30" y2="646.00" stroke="#000" stroke-width="0.90"/>
<line x1="45.30" y1="643.00" x2="47.30" y2="643.00" stroke="#000" stroke-width="0.90"/>
<line x1="45.30" y1="640.00" x2="47.30" y2="640.00" stroke="#000" stroke-width="0.90"/>
<line x1="45.30" y1="637.00" x2="47.30" y2="637.00" stroke="#000" stroke-width="0.90"/>
<line x1="45.30" y1="633.50" x2="47.30" y2="633.50" stroke="#000" stroke-width="0.90"/>
<text x="30.70" y="573.70" font-size="6.00" fill="#333" text-anchor="start" textLength="6.80" lengthAdjust="spacingAndGlyphs" stroke="#333" stroke-width="0.3">10</text>
<text x="38.00" y="568.40" font-size="6.60" fill="#333" text-anchor="start" stroke="#333" stroke-width="0.3">5</text>
<text x="30.70" y="601.50" font-size="6.00" fill="#333" text-anchor="start" textLength="6.80" lengthAdjust="spacingAndGlyphs" stroke="#333" stroke-width="0.3">10</text>
<text x="38.00" y="596.20" font-size="6.60" fill="#333" text-anchor="start" stroke="#333" stroke-width="0.3">4</text>
<text x="30.70" y="629.80" font-size="6.00" fill="#333" text-anchor="start" textLength="6.80" lengthAdjust="spacingAndGlyphs" stroke="#333" stroke-width="0.3">10</text>
<text x="38.00" y="624.50" font-size="6.60" fill="#333" text-anchor="start" stroke="#333" stroke-width="0.3">3</text>
<text x="30.70" y="659.90" font-size="6.00" fill="#333" text-anchor="start" textLength="6.80" lengthAdjust="spacingAndGlyphs" stroke="#333" stroke-width="0.3">10</text>
<text x="38.00" y="654.60" font-size="6.60" fill="#333" text-anchor="start" stroke="#333" stroke-width="0.3">2</text>
<text x="34.70" y="672.10" font-size="6.00" fill="#333" text-anchor="start" stroke="#333" stroke-width="0.3">0</text>
<line x1="58.50" y1="681.30" x2="58.50" y2="684.80" stroke="#000" stroke-width="1.00"/>
<line x1="71.80" y1="681.30" x2="71.80" y2="684.80" stroke="#000" stroke-width="1.00"/>
<line x1="99.80" y1="681.30" x2="99.80" y2="684.80" stroke="#000" stroke-width="1.00"/>
<line x1="125.80" y1="681.30" x2="125.80" y2="684.80" stroke="#000" stroke-width="1.00"/>
<line x1="151.80" y1="681.30" x2="151.80" y2="684.80" stroke="#000" stroke-width="1.00"/>
<line x1="48.80" y1="681.30" x2="48.80" y2="683.30" stroke="#000" stroke-width="0.80"/>
<line x1="51.50" y1="681.30" x2="51.50" y2="683.30" stroke="#000" stroke-width="0.80"/>
<line x1="54.20" y1="681.30" x2="54.20" y2="683.30" stroke="#000" stroke-width="0.80"/>
<line x1="56.90" y1="681.30" x2="56.90" y2="683.30" stroke="#000" stroke-width="0.80"/>
<line x1="59.60" y1="681.30" x2="59.60" y2="683.30" stroke="#000" stroke-width="0.80"/>
<line x1="62.30" y1="681.30" x2="62.30" y2="683.30" stroke="#000" stroke-width="0.80"/>
<line x1="65.00" y1="681.30" x2="65.00" y2="683.30" stroke="#000" stroke-width="0.80"/>
<line x1="67.70" y1="681.30" x2="67.70" y2="683.30" stroke="#000" stroke-width="0.80"/>
<line x1="70.40" y1="681.30" x2="70.40" y2="683.30" stroke="#000" stroke-width="0.80"/>
<line x1="74.80" y1="681.30" x2="74.80" y2="683.30" stroke="#000" stroke-width="0.80"/>
<line x1="77.80" y1="681.30" x2="77.80" y2="683.30" stroke="#000" stroke-width="0.80"/>
<line x1="80.80" y1="681.30" x2="80.80" y2="683.30" stroke="#000" stroke-width="0.80"/>
<line x1="83.80" y1="681.30" x2="83.80" y2="683.30" stroke="#000" stroke-width="0.80"/>
<line x1="86.80" y1="681.30" x2="86.80" y2="683.30" stroke="#000" stroke-width="0.80"/>
<line x1="89.80" y1="681.30" x2="89.80" y2="683.30" stroke="#000" stroke-width="0.80"/>
<line x1="92.80" y1="681.30" x2="92.80" y2="683.30" stroke="#000" stroke-width="0.80"/>
<line x1="95.80" y1="681.30" x2="95.80" y2="683.30" stroke="#000" stroke-width="0.80"/>
<line x1="107.63" y1="681.30" x2="107.63" y2="683.30" stroke="#000" stroke-width="0.80"/>
<line x1="112.21" y1="681.30" x2="112.21" y2="683.30" stroke="#000" stroke-width="0.80"/>
<line x1="115.45" y1="681.30" x2="115.45" y2="683.30" stroke="#000" stroke-width="0.80"/>
<line x1="117.97" y1="681.30" x2="117.97" y2="683.30" stroke="#000" stroke-width="0.80"/>
<line x1="120.03" y1="681.30" x2="120.03" y2="683.30" stroke="#000" stroke-width="0.80"/>
<line x1="121.77" y1="681.30" x2="121.77" y2="683.30" stroke="#000" stroke-width="0.80"/>
<line x1="123.28" y1="681.30" x2="123.28" y2="683.30" stroke="#000" stroke-width="0.80"/>
<line x1="124.61" y1="681.30" x2="124.61" y2="683.30" stroke="#000" stroke-width="0.80"/>
<line x1="133.63" y1="681.30" x2="133.63" y2="683.30" stroke="#000" stroke-width="0.80"/>
<line x1="138.21" y1="681.30" x2="138.21" y2="683.30" stroke="#000" stroke-width="0.80"/>
<line x1="141.45" y1="681.30" x2="141.45" y2="683.30" stroke="#000" stroke-width="0.80"/>
<line x1="143.97" y1="681.30" x2="143.97" y2="683.30" stroke="#000" stroke-width="0.80"/>
<line x1="146.03" y1="681.30" x2="146.03" y2="683.30" stroke="#000" stroke-width="0.80"/>
<line x1="147.77" y1="681.30" x2="147.77" y2="683.30" stroke="#000" stroke-width="0.80"/>
<line x1="149.28" y1="681.30" x2="149.28" y2="683.30" stroke="#000" stroke-width="0.80"/>
<line x1="150.61" y1="681.30" x2="150.61" y2="683.30" stroke="#000" stroke-width="0.80"/>
<line x1="157.28" y1="681.30" x2="157.28" y2="683.30" stroke="#000" stroke-width="0.80"/>
<line x1="160.48" y1="681.30" x2="160.48" y2="683.30" stroke="#000" stroke-width="0.80"/>
<line x1="162.76" y1="681.30" x2="162.76" y2="683.30" stroke="#000" stroke-width="0.80"/>
<line x1="164.52" y1="681.30" x2="164.52" y2="683.30" stroke="#000" stroke-width="0.80"/>
<line x1="165.96" y1="681.30" x2="165.96" y2="683.30" stroke="#000" stroke-width="0.80"/>
<line x1="167.18" y1="681.30" x2="167.18" y2="683.30" stroke="#000" stroke-width="0.80"/>
<line x1="168.24" y1="681.30" x2="168.24" y2="683.30" stroke="#000" stroke-width="0.80"/>
<line x1="169.17" y1="681.30" x2="169.17" y2="683.30" stroke="#000" stroke-width="0.80"/>
<text x="56.30" y="699.30" font-size="6.00" fill="#333" text-anchor="start" stroke="#333" stroke-width="0.3">0</text>
<text x="67.95" y="699.30" font-size="6.00" fill="#333" text-anchor="start" textLength="6.80" lengthAdjust="spacingAndGlyphs" stroke="#333" stroke-width="0.3">10</text>
<text x="75.35" y="693.70" font-size="6.60" fill="#333" text-anchor="start" stroke="#333" stroke-width="0.3">2</text>
<text x="95.50" y="699.30" font-size="6.00" fill="#333" text-anchor="start" textLength="6.80" lengthAdjust="spacingAndGlyphs" stroke="#333" stroke-width="0.3">10</text>
<text x="102.90" y="693.70" font-size="6.60" fill="#333" text-anchor="start" stroke="#333" stroke-width="0.3">3</text>
<text x="122.50" y="699.30" font-size="6.00" fill="#333" text-anchor="start" textLength="6.80" lengthAdjust="spacingAndGlyphs" stroke="#333" stroke-width="0.3">10</text>
<text x="129.90" y="693.70" font-size="6.60" fill="#333" text-anchor="start" stroke="#333" stroke-width="0.3">4</text>
<text x="148.90" y="699.30" font-size="6.00" fill="#333" text-anchor="start" textLength="6.80" lengthAdjust="spacingAndGlyphs" stroke="#333" stroke-width="0.3">10</text>
<text x="156.30" y="693.70" font-size="6.60" fill="#333" text-anchor="start" stroke="#333" stroke-width="0.3">5</text>
<text x="109.16" y="577.70" font-size="24.80" fill="#000" stroke="#000" stroke-width="0.45" textLength="60.31" lengthAdjust="spacingAndGlyphs">18.71</text>
<text x="126.33" y="677.60" font-size="17.50" fill="#000" stroke="#000" stroke-width="0.45" textLength="44.10" lengthAdjust="spacingAndGlyphs">81.29</text>
<line x1="262.50" y1="556.70" x2="262.50" y2="681.30" stroke="#b0b0b0" stroke-width="1.00"/>
<line x1="219.30" y1="641.50" x2="343.30" y2="641.50" stroke="#b0b0b0" stroke-width="1.00"/>
<path d="M264.0 650.0 L268.0 648.0 L275.0 648.5 L282.0 649.0 L288.0 651.0 L292.5 654.0 L295.5 658.5 L297.0 665.0 L297.2 672.0 L297.0 680.5 L286.0 680.5 L278.0 678.0 L271.0 676.5 L264.0 675.5 Z" fill="#000"/>
<path d="M268.9 680.5h.1m25.3 0.5h.1m-23.1 -2.8h.1m-7.5 -29h.1m33.3 20.3h.1m-1.4 -13.1h.1m-15.7 -8.1h.1m0.2 31.8h.1m-5.3 -33.9h.1m20.5 12.4h.1m-32.8 14.4h.1m35.5 -4.5h.1m-26 12.5h.1m5.4 -2.8h.1m-6.5 0.8h.1m26.2 -13.9h.1m-0.9 15.7h.1m-16.6 -32.3h.1m-7.8 29h.1m-4.8 1.3h.1m7.6 -32.3h.1m19.5 6.4h.1m1.6 17.3h.1m-33.9 -7.9h.1m8 -15.8h.1m-8.7 25.4h.1m0.4 -24h.1m31.6 1h.1m-23 30.3h.1m21.2 -26.4h.1m2.6 4.2h.1m-32.8 19.3h.1m-0.8 -15.9h.1m35.2 -3.4h.1m-3.7 -2.9h.1m-15.1 25.5h.1m1.7 -32.7h.1m0 1.5h.1m15.5 23.9h.1m-0.4 8.1h.1m-25.8 -2.1h.1m3.6 -31.5h.1m-12 9.3h.1m1.3 -6.8h.1m7.8 -4.5h.1m-5.9 3.4h.1m16 -2.3h.1m16.4 19.7h.1m-1.3 3h.1m0.6 -1.8h.1m-0.8 8.9h.1m-23.9 1.5h.1m6.4 -31h.1m-17.5 12.3h.1m34.1 18.7h.1m-2.5 -22.9h.1m-11.8 25.7h.1m-14.4 -35.5h.1m-5.9 24.3h.1m10.1 -22.9h.1m25.5 20.5h.1m-14.5 14.5h.1m7.3 -0.2h.1m-24 -2.9h.1m-1.6 0.8h.1m31.2 -10.8h.1m-20 -20.5h.1m18.8 31.7h.1m-10.7 1.6h.1m12.6 -0.6h.1m-2.2 -4h.1m-31.7 2.3h.1m15.1 -32.7h.1m-12.4 1h.1m12.8 0h.1m-8.7 1.6h.1m24.1 29.3h.1m-31.9 -30.6h.1m30.1 9.1h.1m3.8 23.5h.1m-25.8 -33.2h.1m5.6 0.8h.1m19 29.8h.1m-2.5 -23.4h.1m-9.4 -6.8h.1m11.7 17.5h.1m-27.8 -19h.1m14.5 35.6h.1m-20.9 -1.7h.1m27.1 -26.4h.1m5.1 9.1h.1m-2.3 -6.1h.1m-2.8 -4h.1m-15.1 26.5h.1m21.9 -1.2h.1m-1.7 -17.6h.1m-32.9 17.3h.1m12.9 1.5h.1m18.8 -18.2h.1m-15.4 -11h.1m16.2 7.8h.1m-10.4 -6.9h.1m-18.7 27.2h.1m6.7 -28.6h.1m13.6 3.1h.1m2.4 -0.3h.1m-27.9 24.6h.1m33.6 -4.6h.1m-13 -24.4h.1m-16.2 -1.6h.1m29 15.8h.1m-34.2 5.6h.1m2 -18.5h.1m11.9 -0.7h.1m20.8 27.2h.1m-1.5 0.7h.1m-33.9 -21.9h.1m0.1 18.5h.1m13.8 -23.4h.1m19.4 31.4h.1m-1.2 -19.4h.1m-25.8 -15.9h.1m28 25h.1m-34.9 -8.2h.1m2.4 -14.2h.1m27.4 7.1h.1m-16.5 26.4h.1m18.9 0.2h.1m-17.3 -32.7h.1m16.8 10.6h.1m3.4 3.7h.1m-7.5 -9.6h.1m6.5 27.9h.1m-24 -33.1h.1m23.5 32.2h.1m-30.8 -31.8h.1m30.2 23.2h.1m-1.6 -10h.1m-4.3 19.3h.1m-3 -29.9h.1m-7.4 -2.4h.1m-17.4 1.2h.1m-0.8 25.9h.1m5.5 5.3h.1m27.4 -17h.1m-24.9 14.4h.1m10.7 1.8h.1m14 -13.9h.1m-29.4 -19.6h.1m20.3 3.7h.1m-18 -4.9h.1m26.4 13.6h.1m-31 18.4h.1m17.3 -29.4h.1m-11.5 29.5h.1m2 -30.3h.1m17.9 33.7h.1m-24.4 -35.6h.1m29.4 34.8h.1m-25.4 -2.1h.1m-8.4 -28.5h.1m-0.3 2.4h.1m-0.3 3h.1m5.7 -6.9h.1m11.4 33.1h.1m-4.5 -2.9h.1m-8.5 -31.9h.1m-3.3 0.5h.1m31.5 14.3h.1m-0.5 -3.5h.1m-7.5 -6.4h.1m-0.4 -2.4h.1m6.9 8.6h.1m-17.2 -9.1h.1m6.2 32.2h.1m6.9 -32.9h.1m-24.9 29h.1m-0.8 0.9h.1m13.6 1.4h.1m-1.9 -0.8h.1m-14 -25.4h.1m2.4 -4.9h.1m11.7 30.6h.1m-14.9 -21.5h.1m27.2 -5.9h.1m-15.3 28.1h.1m-4 -33.4h.1m-5.8 30.7h.1m32.3 -2.5h.1m-21.1 4.7h.1m-2.5 1.7h.1m-0 -1h.1m-11.1 -25.6h.1m33.1 11.4h.1m-6.5 -14.5h.1m7.4 29.1h.1m-23.2 -0.3h.1m22.1 -8h.1m-29.9 6.2h.1m11.9 -29.5h.1m18.2 31.7h.1m-22.2 -32.3h.1m-1.1 -2h.1m-11.2 15.9h.1m11.2 16.8h.1m17.4 -26h.1m4.9 12.2h.1m-33.6 7.1h.1m28.9 -18.5h.1m6.5 14.8h.1m-22.5 10.5h.1m-13.7 -10.8h.1m20.8 -17.7h.1m-8.2 -3.1h.1m13.2 34.1h.1m-25.8 -35.5h.1m17.3 34.8h.1m-18.1 -22.8h.1m0.2 6.5h.1m33.2 -0.4h.1m-8 -13.3h.1m-25.5 19h.1m35.1 -4.6h.1m-10.4 -13.5h.1m4.8 3.3h.1m-29.8 20.4h.1m1.4 -29.1h.1m9.9 33.4h.1m-4.3 -2.1h.1m18.4 -24.9h.1m-5 -3.4h.1m-13 -1.7h.1m20.1 6.4h.1m-19.9 24.3h.1m-5.7 -29.3h.1m9.2 -0.7h.1m-9.7 31.3h.1m16.3 -31.4h.1m-18.2 28.3h.1m5 1.2h.1m-3.6 -0.4h.1m2.2 3.8h.1m-4.9 -30.8h.1m-0.1 27.3h.1m30.5 -23.5h.1m3.8 13.4h.1m-18.8 -19.1h.1m0.8 0.5h.1m10.2 1.4h.1m-16.3 -1.1h.1m-2.5 -0.9h.1m-0.5 29.3h.1m4.1 -28.3h.1m-11.1 29.6h.1m33.6 -8h.1m-5.2 -16.6h.1m-2.1 27h.1m-24.2 -3.3h.1m28.7 -17.1h.1m-18.7 -11.6h.1m19.9 20.4h.1m-33.6 -15.5h.1m16.9 -5.1h.1m17.7 32.2h.1m0.1 -1.3h.1m-1.2 -12h.1m-24 10.5h.1m24.5 -3.2h.1m-1.3 -15.7h.1m-22.1 20.9h.1m10.6 -29.4h.1m-2.8 29.4h.1m-1.3 -32.8h.1m-18.6 25.6h.1m0.2 -19.2h.1m32.4 1.8h.1m-4.9 -2.8h.1m-19.3 -4.5h.1m-9.3 26.1h.1m9.5 -27.5h.1m11.7 1.8h.1m-15.4 28.8h.1m12.3 3.1h.1m14.5 -21h.1m-18 -11.7h.1m20.2 14.7h.1m-35.1 -13.3h.1m33.5 22.8h.1m-15.1 -22.8h.1m13.8 5.9h.1m-25.6 -9.4h.1m26.4 35.6h.1m-17.5 -34h.1m-16.8 24.5h.1m0.5 -3.6h.1m25 -18h.1m-24.1 -1.5h.1m33 23.2h.1m-33.4 -22.2h.1m10.2 28.9h.1m-4.8 2.7h.1m2.4 -1.8h.1m4.2 -0.1h.1m-11.7 0.7h.1m5 0.6h.1m-6.9 -1.5h.1m11.8 1.5h.1m-6.7 0h.1m-0.8 -3.3h.1m4.1 0.5h.1m-8.3 -2.2h.1m5.6 4.7h.1m-5.6 0h.1m2.1 -0.8h.1m-2.7 -2.2h.1m0.6 0.6h.1m5.7 -0.1h.1m-1 3.4h.1m-1.3 -2.3h.1m1.2 0.8h.1m-1.6 -2h.1m-1.9 -0.7h.1m8.1 1.3h.1m-9.5 -2h.1m0.2 -0.1h.1m-0.1 1.3h.1m0.3 2h.1m3.6 -1.6h.1m-1.9 0.5h.1m0.2 -0.7h.1m-0.8 -1.1h.1m8.3 3.7h.1m-9.9 -3.8h.1m1.6 4.5h.1m-1.9 -3.2h.1m6.8 1.2h.1m2.2 1.1h.1m-4.8 0.3h.1m5.6 -0.6h.1m-12.9 -1.9h.1m4.5 0h.1m2.5 -0.2h.1m-4.2 -1.4h.1m12.3 3.7h.1m-3 0.2h.1m-4.5 -81.3h.1m-1.5 2.6h.1m-3.3 0.6h.1m3 -5.1h.1m10.9 -0.8h.1m3.6 14.8h.1m-6.9 -21.3h.1m6.5 5h.1m-12.1 -0.5h.1m2.9 -0.5h.1m0.1 21.1h.1m3.7 -11.1h.1m1.2 -13.4h.1m-4.4 6.5h.1m-2.3 6.3h.1m0.6 3.7h.1m-0.1 -6.9h.1m-9.6 9.6h.1m7.7 -9.7h.1m-1.2 10.6h.1m11.3 -9.8h.1m1.5 -1.3h.1m-1.5 6.4h.1m-17.7 -15.3h.1m4.2 2.9h.1m1.8 12h.1m12.1 -10h.1m-15.8 17h.1m5.9 -17h.1m7.1 6.4h.1m-2.6 9.9h.1m-14.6 -13.4h.1m14.1 9.9h.1m1.8 2.4h.1m-13.3 -17.7h.1m-2.1 0.2h.1m4.7 24.5h.1m-2.5 -4.2h.1m13.1 -22.4h.1m-3.2 12.1h.1m1.4 11.5h.1m-1.2 -7h.1m-13.8 -0.3h.1m10.7 5h.1m5.5 -4.8h.1m-5.2 -17.5h.1m6.3 16h.1m-0.5 -2.3h.1m-7.6 12.7h.1m5.2 -16.4h.1m0.5 -2h.1m3.4 -1.3h.1m-7.1 5.9h.1m5.2 0.1h.1m-10.6 -9.1h.1m-0.6 -2.6h.1m8.9 3.1h.1m1 5h.1m-8.2 -11.1h.1m10.2 23.7h.1m-18.6 2.7h.1m5.3 -15.7h.1m8.6 17.5h.1m2.5 -3.4h.1m-9.7 -4.5h.1m8.4 -17.3h.1m1 10.9h.1m1.5 -8h.1m-16.2 19.8h.1m13.7 -0.5h.1m-17.4 -21.9h.1m17.4 20.5h.1m-13.6 -6.7h.1m1.7 -3.7h.1m-5.4 3.2h.1m5 -1.8h.1m9.5 14.7h.1m-12 -23.6h.1m6.3 -3.5h.1m-5.3 4.3h.1m9.2 -7.4h.1m-13.5 8h.1m4.3 13.5h.1m12.9 -9.4h.1m-5.8 2.6h.1m-3.5 -6.1h.1m-6.1 10.7h.1m3.2 -3.1h.1m-0.1 -12.3h.1m14 22h.1m-9.7 4.8h.1m2.5 -21.9h.1m-12.9 5.4h.1m12.6 15.5h.1m-1.6 -5.2h.1m6.8 -15.9h.1m-18.1 12.6h.1m18.6 3.9h.1m-7.8 -17.2h.1m2.2 -7.9h.1m-12.4 19h.1m12.4 -18.8h.1m3.9 10.8h.1m-8.7 -9.8h.1m4.5 28.4h.1m-8.7 -27.9h.1m10.2 27.7h.1m4.3 -15.2h.1m-12.6 9.9h.1m10.6 -15.2h.1m0.6 12.6h.1m-17.4 -10.2h.1m4.9 6.1h.1m6.9 -5.7h.1m4.6 4.3h.1m3 5.7h.1m-9.5 -19.7h.1m4.4 19.1h.1m-7.2 -14.6h.1m-7.6 15.7h.1m17.6 -17.3h.1m-17.9 1.9h.1m0.6 9.6h.1m17.1 -3.8h.1m-18.6 -0.9h.1m16.7 13.8h.1m-13.7 -8.3h.1m9.6 -13.7h.1m-8.2 15h.1m13.3 0.3h.1m-12.1 -11.3h.1m1.4 22.5h.1m8.7 -24.5h.1m-4.4 -4.8h.1m5.9 7.4h.1m-13.4 -2h.1m14.8 13.6h.1m-10 -1.9h.1m-8.4 -7.8h.1m15.1 11.5h.1m-15.8 -1.2h.1m1.8 -18.7h.1m13.3 3.4h.1m-16 20.4h.1m17.3 -23.1h.1m-10.5 -0.4h.1m12 12.4h.1m-8.3 -13.9h.1m-3.2 17.4h.1m-8.6 2.5h.1m2.5 6.3h.1m-0.5 -20.6h.1m17.1 0.4h.1m-13.1 5.7h.1m6.9 17.3h.1m-10.3 -22.9h.1m-1.3 14.9h.1m10.3 -1.5h.1m-10.9 -18.5h.1m19.4 8.6h.1m-16 0.8h.1m-2 -10.7h.1m3.9 3.5h.1m-4.3 19.2h.1m-2.3 3.7h.1m14.4 2.4h.1m-10.7 -21.4h.1m10.3 17.7h.1m-10.8 2.1h.1m-3.6 -5.2h.1m11.7 -6.2h.1m6 5.6h.1m-12.4 -7.9h.1m8.3 3.1h.1m-10.8 1.7h.1m4.6 -14.7h.1m-10.4 24.4h.1m21 -4.4h.1m-11.3 -2.7h.1m-8 -5.6h.1m11.1 -5h.1m3.7 1.6h.1m-11.6 -11.8h.1m5.7 9.7h.1m6 -2.7h.1m4.1 2.9h.1m-10.1 -1h.1m-4.8 -1.5h.1m2.8 -3.7h.1m8.7 -0.1h.1m-2.7 -3.5h.1m-12.2 6h.1m2.8 21.2h.1m15.3 -7.9h.1m-12 -3h.1m-3.7 10.2h.1m7.3 1.3h.1m5.1 -25h.1m-0.8 -0.1h.1m-12.5 -1h.1m-1.6 26.1h.1m8.5 -17h.1m-9.2 4.7h.1m0.1 -2h.1m1.5 -3h.1m-1.9 -3.2h.1m16.1 2.1h.1m-5.1 19.9h.1m-7.3 -6.9h.1m-6.8 -11h.1m1.9 6.8h.1m2.4 0.3h.1m0.9 -13.9h.1m4.4 19.5h.1m6.1 -16h.1m-4 -0.8h.1m-9 5.7h.1m5.5 7h.1m3.6 -9.4h.1m-1 11.4h.1m-8 -14.7h.1m14.2 12.5h.1m-0.8 -6.3h.1m-5.8 2.5h.1m5.5 -7.6h.1m2.6 9.6h.1m-18.6 -6.9h.1m14.9 3.8h.1m-13.8 3.7h.1m5.6 -5h.1m-2.1 1.8h.1m-2.4 -2.6h.1m10.8 -0.8h.1m-6.4 3.3h.1m-0.9 4.3h.1m-3.2 10.6h.1m2 -8.4h.1m5.3 -16h.1m-3.4 1.7h.1m-10.8 4.9h.1m1 -3.3h.1m10 4h.1m9.3 -5.9h.1m-17.8 -4.1h.1m4.7 6.1h.1m4.3 13.9h.1m-6.5 -15.6h.1m14 9.5h.1m-9.9 -3.1h.1m-7.8 10.2h.1m10.1 4.9h.1m-4.9 -26.8h.1m6.5 16.2h.1m-2.1 -10.3h.1m-8.1 18.2h.1m5.9 -20.6h.1m2.3 -5.2h.1m9 23.9h.1m-10.1 -11.2h.1m-10.4 8.8h.1m11.3 -14.8h.1m1.8 21.9h.1m2.9 -10.9h.1m-2.2 1.4h.1m-13.1 -15.4h.1m15.8 13.3h.1m-17.5 -5.9h.1m0.9 -6.2h.1m14 3.8h.1m-15.6 4.4h.1m12.4 14.9h.1m2.8 0.4h.1m-2.4 -9.6h.1m7.4 -13.5h.1m-9.9 -0.9h.1m9.7 0.6h.1m0.9 8.9h.1m-2.9 10.5h.1m-18 -3.3h.1m15 -0.9h.1m1.4 -3.4h.1m-16.7 -14.4h.1m1.9 24.4h.1m15.4 -6.3h.1m-13.6 8.3h.1m14.4 -26h.1m-18.1 13.5h.1m13.5 8.1h.1m-7.3 -12.9h.1m5.4 10.1h.1m-3.7 -1.9h.1m-8.6 3.5h.1m15.4 -2.8h.1m1.8 -10.2h.1m-13.9 2.3h.1m-1.1 0.4h.1m4.3 7.4h.1m6.3 -10.6h.1m-9 -6.8h.1m8.8 19.3h.1m-0.6 1.8h.1m-11.7 -10.1h.1m9.6 -14.3h.1m-12.5 1h.1m-0.8 8.2h.1m2.3 -5.4h.1m-1.4 19.1h.1m-0.2 -5.4h.1m13.2 -13.9h.1m-13.4 20.1h.1m10.2 -0.9h.1m-5.2 -15.5h.1m12.8 -5.9h.1m-4.5 6.5h.1m-14.2 6.7h.1m9.5 14.1h.1m1.2 -7.2h.1m-4.8 -19.1h.1m6.1 10.7h.1m4 -5.5h.1m-7.9 -0.8h.1m8.2 1.4h.1m-9.8 19.9h.1m-2.4 -17.8h.1m16.1 9.9h.1m-4.9 0.8h.1m-7.4 -10.9h.1m10.4 8.3h.1m-15.6 -11.8h.1m8.4 22h.1m-3.5 -6.3h.1m-4.1 -6.4h.1m13.5 -4.3h.1m-13.9 -10.5h.1m13.6 12.8h.1m-8.7 -8h.1m-8.5 13h.1m3.3 -5.4h.1m14.7 9.4h.1m-15.1 -7.5h.1m-0.6 10.5h.1m-0.9 -14.6h.1m4.3 1.9h.1m3.7 1.7h.1m6 6.3h.1m-12.8 8.2h.1m9.1 -21.4h.1m-11.6 18.1h.1m10.3 -0.7h.1m3 -22.7h.1m-16.5 20.4h.1m14.1 -14.6h.1m-4.1 17.2h.1m-9.7 -3.9h.1m12 -18.2h.1m0.9 11h.1m-2.5 -14.8h.1m-8 8.3h.1m1.6 0.4h.1m3.9 3.2h.1m0.4 18.7h.1m-2.5 -1.6h.1m13 -19.1h.1m-3.4 16h.1m-9.9 -6.7h.1m-1.6 5h.1m1.6 -23.1h.1m10.5 4.3h.1m-9.4 25.4h.1m0.3 -17.9h.1m-6.8 -7.5h.1m9.4 19.4h.1m6.4 -22.3h.1m-1.4 22.1h.1m0.3 -17h.1m-2.4 2.1h.1m-12 -1h.1m8.7 -3h.1m4.2 8.8h.1m-14.1 -1.6h.1m14.7 -5.5h.1m-17.2 17.1h.1m17.7 0.3h.1m-9.3 0.3h.1m4.6 -25h.1m2 20.4h.1m-5.8 0.4h.1m3.3 0.5h.1m3.8 8.4h.1m-4.2 -28.8h.1m-9.4 21.5h.1m14.6 -3.8h.1m-2.7 -1.9h.1m3.7 -7.2h.1m-13.8 19.2h.1m12.8 -18.5h.1m-11.2 -9.9h.1m4.9 11.7h.1m2.9 5.1h.1m-12.3 -4.5h.1m7.3 8.7h.1m-9.2 -17.2h.1m19.6 10.1h.1m-18.9 3.9h.1m7.3 0.8h.1m4.3 -17.5h.1m-2.8 19.6h.1m2.5 -13.1h.1m-9.1 3.3h.1m-3.9 -3.6h.1m8.6 14.1h.1m-6.3 0.5h.1m5.9 -15.3h.1m2.8 1.1h.1m-7.9 15.3h.1m4.8 -6.3h.1m-0.4 -2.7h.1m-3.9 -11.3h.1m5.4 18.1h.1m-0.7 2.6h.1m-8.8 -21.6h.1m0.5 20.3h.1m2.6 -1.1h.1m4.9 3.4h.1m-5 -11.3h.1m-0.7 -10.8h.1m13.5 17.7h.1m-18.8 -1.4h.1m3.3 6h.1m7 -5h.1m2 7.1h.1m7.8 -4.8h.1m-13.4 -11.5h.1m-3.7 -3.1h.1m6.9 1.4h.1m-3.3 19.1h.1m-1.5 -8.7h.1m1.6 2.7h.1m14.3 -5.2h.1m-19.7 12.6h.1m14.9 -27.4h.1m-2.1 4.1h.1m-10 -0.2h.1m14 20.3h.1m-18.4 1h.1m0.3 -3.8h.1m11.1 -7.8h.1m0.2 -7.4h.1m0.8 15.9h.1m-9.7 -14.8h.1m8.5 19.2h.1m-7.4 0.4h.1m5.3 -19.3h.1m-6.2 13.6h.1m10.2 -2.4h.1m5.2 -17.7h.1m-6.1 7.9h.1m-8 -4.4h.1m8.9 6.8h.1m-1.8 2.2h.1m-7.2 14.6h.1m8.3 -23h.1m-3.6 -2.1h.1m-0.7 -4.4h.1m8.2 10.1h.1m0 -8.8h.1m-9 6.6h.1m0.3 -0.1h.1m-5.3 12.6h.1m-5.5 -5.6h.1m18.6 -10.5h.1m1.8 15.5h.1m-8 -8.4h.1m-0.2 4.6h.1m1.7 9.7h.1m-3.7 -0.5h.1m-6.3 -23.4h.1m5.5 3.9h.1m-8 21.4h.1m-2.7 -9.5h.1m4.4 7.2h.1m10.8 -25.6h.1m-14.6 1.1h.1m0.2 0.4h.1m1.2 20h.1m8.6 -21.4h.1m-11.4 4.8h.1m8.4 3.8h.1m-0.2 9.5h.1m10 -13.1h.1m-14 -5.4h.1m-0.2 14h.1m11 -0.2h.1m-11.2 -8.5h.1m-1.9 24.3h.1m18.2 -15.4h.1m-10.9 -11.3h.1m7.6 13h.1m-0.6 3h.1m-10.5 11.5h.1m4.1 -26.6h.1m2.3 23.5h.1m3.7 -23.7h.1m-16.5 16.1h.1m3.7 10.3h.1m4.8 -12.4h.1m11.5 3h.1m-1.7 5.2h.1m-8.5 2.6h.1m1.6 -16.2h.1m-13.5 11.8h.1m14.7 5.8h.1m-8.4 -17.4h.1m1.4 -9h.1m0.5 23.4h.1m-4.4 1.6h.1m11 -23.2h.1m6.2 6.5h.1m-11 10h.1m2.2 -3h.1m-3.8 -18.5h.1m8 12.3h.1m-13.8 11.7h.1m-1.6 -3h.1m18.9 -15.7h.1m-21.8 2.9h.1m9 22.4h.1m7.3 -29.1h.1m-7.6 22h.1m6.7 -7.5h.1m-14.1 5.9h.1m20.6 -7.7h.1m-5.3 3.2h.1m-3.3 4.4h.1m6.4 1.7h.1m-13.6 -14.7h.1m2.5 -1.1h.1m-1.1 20.8h.1m8.1 -24.1h.1m-15.4 8.2h.1m-1.1 7.1h.1m1.8 5.1h.1m14.3 -1.8h.1m-8.4 -1.7h.1m8.1 -1.1h.1m3.6 -16.7h.1m-20.3 -1.3h.1m7.1 22.6h.1m1.6 -23.3h.1m-0.7 22h.1m13.2 -6.4h.1m-9.5 -15.6h.1m6 15.2h.1m-13.1 -6.9h.1m-1.5 -7.4h.1m13.3 0.2h.1m2.5 23.2h.1m-0.5 -1.9h.1m-13.1 -7.1h.1m12.7 3.8h.1m2.4 11.3h.1m-3.7 6.6h.1m5.6 -2.4h.1m-2 -6.2h.1m-16.8 6.9h.1m20.1 -17.8h.1m-20.3 19h.1m16.5 -5.5h.1m-4.2 5.6h.1m5.7 -5.9h.1m-8.7 4.6h.1m-9.9 -5.8h.1m-2.3 -31.9h.1m11.7 38.5h.1m1.9 0.3h.1m-12.3 -7.6h.1m19 -8.4h.1m0.3 9.8h.1m-16.9 1h.1m5.4 2.8h.1m-9.2 0.3h.1m13.8 -5.5h.1m5.7 -1.2h.1m-3.6 -28h.1m5.1 20.5h.1m-16.3 -24.7h.1m8.9 41.5h.1m7.8 -7.5h.1m-22 0.8h.1m19.4 -25.9h.1m-12.8 -6.3h.1m2.1 -1.9h.1m6 37.4h.1m-18.2 3.2h.1m14.5 -7.2h.1m-10.3 2.4h.1m18.7 -31h.1m-5.4 28.6h.1m1 -30.3h.1m-10.1 -1.6h.1m12.4 17.2h.1m0.7 -5h.1m-1.9 -13.1h.1m3.9 0.7h.1m-22.7 37.3h.1m5.1 1.2h.1m10 -2.4h.1m-5.9 -37.3h.1m6.7 34.2h.1m-1.5 -1.2h.1m1.4 1.1h.1m8.2 -24.1h.1m-17.1 23.1h.1m-5.1 11h.1m-3.8 -10.1h.1m24.7 -5.5h.1m-2.4 -23.6h.1m-16.2 32.2h.1m16.3 -35.5h.1m-15.2 37.1h.1m17 -7.2h.1m-6.2 -0.8h.1m-12.4 14h.1m6.8 -7.4h.1m-12.7 1.9h.1m20.3 -21.7h.1m-20.5 15.6h.1m4.4 1.5h.1m-0.7 -34.2h.1m2.9 34h.1m-4.7 5.1h.1m-1.9 -7.2h.1m-2.3 1.4h.1m26.6 -16h.1m-28.6 16h.1m17.1 2.3h.1m-0.1 4.4h.1m-6.5 -39h.1m13.1 22.7h.1m-0 -8.1h.1m-15.7 18.9h.1m17.9 -15.6h.1m-1.8 2.9h.1m-4.7 16.6h.1m-4.5 -39.2h.1m12.1 32.1h.1m-26.4 11.3h.1m19.9 -8.6h.1m1 -29h.1m2 11.3h.1m-18.1 17.3h.1m4.9 1.4h.1m-9.4 3.4h.1m22.2 -19.1h.1m-0.2 1h.1m-17.6 14.4h.1m8.3 -1h.1m-8.2 2.2h.1m0.2 -34.6h.1m9.4 34h.1m-9.6 0.1h.1m9.6 4.3h.1m1 -0.8h.1m-7.6 -1.4h.1m-6.8 2.2h.1m18.2 -7.8h.1m5.8 5.5h.1m-1.3 -13h.1m-12.9 15.6h.1m13.3 1.3h.1m-11.9 6h.1m-3.6 -6h.1m-4.3 2.2h.1m7.2 17.8h.1m-12.2 -21.1h.1m7.5 5.4h.1m-6.5 -3.5h.1m9.8 14.3h.1m-7.3 -22h.1m0.2 13.4h.1m-1.3 -5.9h.1m9.8 9.5h.1m-1.7 -5.9h.1m-6.2 -1.2h.1m4.6 -4.7h.1m-5.7 4.6h.1m5 -6.4h.1m-8.9 4.1h.1m5.5 0h.1m-0.2 0.2h.1m-6.3 1.1h.1m0.7 14.8h.1m0.7 -24.1h.1m7.1 8.4h.1m-9.5 6.9h.1m3.6 -0.4h.1m2 2.1h.1m-0.6 -11.1h.1m-3 -1.1h.1m10 1.9h.1m-9.3 12.8h.1m5 -11.6h.1m2.4 8.4h.1m-8.2 2.9h.1m7.9 -9.7h.1m-6.4 -8.2h.1m5.6 5.7h.1m-2 6.5h.1m5.9 3.4h.1m-10.1 -11.8h.1m-4.6 7.9h.1m2.6 6h.1m10.2 -13.6h.1m-8.1 21.4h.1m-7.1 -19.2h.1m0.5 3.3h.1m5.4 -4.8h.1m-5.9 6.9h.1m3.8 -9.9h.1m0 22.1h.1m6.2 -17.8h.1m1.9 6.9h.1m-0.8 1.7h.1m0.1 -1.8h.1m-9.8 -5.3h.1m-0.1 -0.5h.1m2.7 15.5h.1m-0.2 -17.2h.1m1.4 -4.3h.1m-1 13h.1m1.5 -4.2h.1m-7.3 5.5h.1m9.2 -9.6h.1m-8.5 17.5h.1m11 -12.4h.1m-10.3 2.3h.1m5.2 7.8h.1m-0.8 -14.6h.1m1.7 10.6h.1m-2.6 4.3h.1m1.2 3.3h.1m5.2 -16.3h.1m0.3 9.3h.1m-6.2 -11.1h.1m-3.8 13.8h.1m1.7 -12.6h.1m-5 14.4h.1m2 -15.7h.1m4.3 -2.3h.1m-6.5 11.3h.1m3.3 -1.5h.1m4.5 -6.1h.1m4.1 15.4h.1m-4.8 -6.6h.1m-3.6 4.6h.1m4.9 -4.2h.1m-7.6 5h.1m-1 -18.7h.1m17.1 9.6h.1m-12.2 8.6h.1" stroke="#000" stroke-width="1.50" stroke-linecap="square" fill="none"/>
<path d="M289.5 657h.1m-10.4 2.5h.1m1 14.1h.1m-10.8 -0.3h.1m2.1 -15.3h.1m3.8 12.2h.1m5.9 -5.4h.1m-9 -9.1h.1m23.7 18.7h.1m-9.7 -14h.1m-17.9 9.5h.1m20.6 -8.1h.1m-14.6 -4.9h.1m6.7 -3.4h.1m-3.4 3.8h.1m-1.7 9h.1m8.8 6.9h.1m-1.8 2.2h.1" stroke="#fff" stroke-width="0.90" stroke-linecap="square" fill="none"/>
<rect x="300.70" y="664.60" width="42.60" height="16.70" fill="#fff"/>
<rect x="219.30" y="556.70" width="124.00" height="124.60" stroke="#000" stroke-width="1.40" fill="none"/>
<line x1="215.80" y1="568.50" x2="219.30" y2="568.50" stroke="#000" stroke-width="1.00"/>
<line x1="217.30" y1="588.07" x2="219.30" y2="588.07" stroke="#000" stroke-width="0.90"/>
<line x1="217.30" y1="583.14" x2="219.30" y2="583.14" stroke="#000" stroke-width="0.90"/>
<line x1="217.30" y1="579.64" x2="219.30" y2="579.64" stroke="#000" stroke-width="0.90"/>
<line x1="217.30" y1="576.93" x2="219.30" y2="576.93" stroke="#000" stroke-width="0.90"/>
<line x1="217.30" y1="574.71" x2="219.30" y2="574.71" stroke="#000" stroke-width="0.90"/>
<line x1="217.30" y1="572.84" x2="219.30" y2="572.84" stroke="#000" stroke-width="0.90"/>
<line x1="217.30" y1="571.21" x2="219.30" y2="571.21" stroke="#000" stroke-width="0.90"/>
<line x1="217.30" y1="569.78" x2="219.30" y2="569.78" stroke="#000" stroke-width="0.90"/>
<line x1="215.80" y1="596.30" x2="219.30" y2="596.30" stroke="#000" stroke-width="1.00"/>
<line x1="217.30" y1="615.87" x2="219.30" y2="615.87" stroke="#000" stroke-width="0.90"/>
<line x1="217.30" y1="610.94" x2="219.30" y2="610.94" stroke="#000" stroke-width="0.90"/>
<line x1="217.30" y1="607.44" x2="219.30" y2="607.44" stroke="#000" stroke-width="0.90"/>
<line x1="217.30" y1="604.73" x2="219.30" y2="604.73" stroke="#000" stroke-width="0.90"/>
<line x1="217.30" y1="602.51" x2="219.30" y2="602.51" stroke="#000" stroke-width="0.90"/>
<line x1="217.30" y1="600.64" x2="219.30" y2="600.64" stroke="#000" stroke-width="0.90"/>
<line x1="217.30" y1="599.01" x2="219.30" y2="599.01" stroke="#000" stroke-width="0.90"/>
<line x1="217.30" y1="597.58" x2="219.30" y2="597.58" stroke="#000" stroke-width="0.90"/>
<line x1="215.80" y1="624.60" x2="219.30" y2="624.60" stroke="#000" stroke-width="1.00"/>
<line x1="217.30" y1="644.17" x2="219.30" y2="644.17" stroke="#000" stroke-width="0.90"/>
<line x1="217.30" y1="639.24" x2="219.30" y2="639.24" stroke="#000" stroke-width="0.90"/>
<line x1="217.30" y1="635.74" x2="219.30" y2="635.74" stroke="#000" stroke-width="0.90"/>
<line x1="217.30" y1="633.03" x2="219.30" y2="633.03" stroke="#000" stroke-width="0.90"/>
<line x1="217.30" y1="630.81" x2="219.30" y2="630.81" stroke="#000" stroke-width="0.90"/>
<line x1="217.30" y1="628.94" x2="219.30" y2="628.94" stroke="#000" stroke-width="0.90"/>
<line x1="217.30" y1="627.31" x2="219.30" y2="627.31" stroke="#000" stroke-width="0.90"/>
<line x1="217.30" y1="625.88" x2="219.30" y2="625.88" stroke="#000" stroke-width="0.90"/>
<line x1="217.30" y1="560.07" x2="219.30" y2="560.07" stroke="#000" stroke-width="0.90"/>
<line x1="217.30" y1="555.14" x2="219.30" y2="555.14" stroke="#000" stroke-width="0.90"/>
<line x1="215.80" y1="654.70" x2="219.30" y2="654.70" stroke="#000" stroke-width="1.00"/>
<line x1="215.80" y1="667.70" x2="219.30" y2="667.70" stroke="#000" stroke-width="1.00"/>
<line x1="217.30" y1="657.90" x2="219.30" y2="657.90" stroke="#000" stroke-width="0.90"/>
<line x1="217.30" y1="660.90" x2="219.30" y2="660.90" stroke="#000" stroke-width="0.90"/>
<line x1="217.30" y1="663.70" x2="219.30" y2="663.70" stroke="#000" stroke-width="0.90"/>
<line x1="217.30" y1="671.20" x2="219.30" y2="671.20" stroke="#000" stroke-width="0.90"/>
<line x1="217.30" y1="674.70" x2="219.30" y2="674.70" stroke="#000" stroke-width="0.90"/>
<line x1="217.30" y1="677.70" x2="219.30" y2="677.70" stroke="#000" stroke-width="0.90"/>
<line x1="217.30" y1="651.20" x2="219.30" y2="651.20" stroke="#000" stroke-width="0.90"/>
<line x1="217.30" y1="648.20" x2="219.30" y2="648.20" stroke="#000" stroke-width="0.90"/>
<line x1="217.30" y1="645.20" x2="219.30" y2="645.20" stroke="#000" stroke-width="0.90"/>
<line x1="217.30" y1="642.20" x2="219.30" y2="642.20" stroke="#000" stroke-width="0.90"/>
<line x1="217.30" y1="639.20" x2="219.30" y2="639.20" stroke="#000" stroke-width="0.90"/>
<line x1="217.30" y1="636.20" x2="219.30" y2="636.20" stroke="#000" stroke-width="0.90"/>
<line x1="217.30" y1="632.70" x2="219.30" y2="632.70" stroke="#000" stroke-width="0.90"/>
<text x="202.70" y="572.90" font-size="6.00" fill="#333" text-anchor="start" textLength="6.80" lengthAdjust="spacingAndGlyphs" stroke="#333" stroke-width="0.3">10</text>
<text x="210.00" y="567.60" font-size="6.60" fill="#333" text-anchor="start" stroke="#333" stroke-width="0.3">5</text>
<text x="202.70" y="600.70" font-size="6.00" fill="#333" text-anchor="start" textLength="6.80" lengthAdjust="spacingAndGlyphs" stroke="#333" stroke-width="0.3">10</text>
<text x="210.00" y="595.40" font-size="6.60" fill="#333" text-anchor="start" stroke="#333" stroke-width="0.3">4</text>
<text x="202.70" y="629.00" font-size="6.00" fill="#333" text-anchor="start" textLength="6.80" lengthAdjust="spacingAndGlyphs" stroke="#333" stroke-width="0.3">10</text>
<text x="210.00" y="623.70" font-size="6.60" fill="#333" text-anchor="start" stroke="#333" stroke-width="0.3">3</text>
<text x="202.70" y="659.10" font-size="6.00" fill="#333" text-anchor="start" textLength="6.80" lengthAdjust="spacingAndGlyphs" stroke="#333" stroke-width="0.3">10</text>
<text x="210.00" y="653.80" font-size="6.60" fill="#333" text-anchor="start" stroke="#333" stroke-width="0.3">2</text>
<text x="206.70" y="671.30" font-size="6.00" fill="#333" text-anchor="start" stroke="#333" stroke-width="0.3">0</text>
<line x1="230.50" y1="681.30" x2="230.50" y2="684.80" stroke="#000" stroke-width="1.00"/>
<line x1="243.80" y1="681.30" x2="243.80" y2="684.80" stroke="#000" stroke-width="1.00"/>
<line x1="271.80" y1="681.30" x2="271.80" y2="684.80" stroke="#000" stroke-width="1.00"/>
<line x1="297.80" y1="681.30" x2="297.80" y2="684.80" stroke="#000" stroke-width="1.00"/>
<line x1="323.80" y1="681.30" x2="323.80" y2="684.80" stroke="#000" stroke-width="1.00"/>
<line x1="220.80" y1="681.30" x2="220.80" y2="683.30" stroke="#000" stroke-width="0.80"/>
<line x1="223.50" y1="681.30" x2="223.50" y2="683.30" stroke="#000" stroke-width="0.80"/>
<line x1="226.20" y1="681.30" x2="226.20" y2="683.30" stroke="#000" stroke-width="0.80"/>
<line x1="228.90" y1="681.30" x2="228.90" y2="683.30" stroke="#000" stroke-width="0.80"/>
<line x1="231.60" y1="681.30" x2="231.60" y2="683.30" stroke="#000" stroke-width="0.80"/>
<line x1="234.30" y1="681.30" x2="234.30" y2="683.30" stroke="#000" stroke-width="0.80"/>
<line x1="237.00" y1="681.30" x2="237.00" y2="683.30" stroke="#000" stroke-width="0.80"/>
<line x1="239.70" y1="681.30" x2="239.70" y2="683.30" stroke="#000" stroke-width="0.80"/>
<line x1="242.40" y1="681.30" x2="242.40" y2="683.30" stroke="#000" stroke-width="0.80"/>
<line x1="246.80" y1="681.30" x2="246.80" y2="683.30" stroke="#000" stroke-width="0.80"/>
<line x1="249.80" y1="681.30" x2="249.80" y2="683.30" stroke="#000" stroke-width="0.80"/>
<line x1="252.80" y1="681.30" x2="252.80" y2="683.30" stroke="#000" stroke-width="0.80"/>
<line x1="255.80" y1="681.30" x2="255.80" y2="683.30" stroke="#000" stroke-width="0.80"/>
<line x1="258.80" y1="681.30" x2="258.80" y2="683.30" stroke="#000" stroke-width="0.80"/>
<line x1="261.80" y1="681.30" x2="261.80" y2="683.30" stroke="#000" stroke-width="0.80"/>
<line x1="264.80" y1="681.30" x2="264.80" y2="683.30" stroke="#000" stroke-width="0.80"/>
<line x1="267.80" y1="681.30" x2="267.80" y2="683.30" stroke="#000" stroke-width="0.80"/>
<line x1="279.63" y1="681.30" x2="279.63" y2="683.30" stroke="#000" stroke-width="0.80"/>
<line x1="284.21" y1="681.30" x2="284.21" y2="683.30" stroke="#000" stroke-width="0.80"/>
<line x1="287.45" y1="681.30" x2="287.45" y2="683.30" stroke="#000" stroke-width="0.80"/>
<line x1="289.97" y1="681.30" x2="289.97" y2="683.30" stroke="#000" stroke-width="0.80"/>
<line x1="292.03" y1="681.30" x2="292.03" y2="683.30" stroke="#000" stroke-width="0.80"/>
<line x1="293.77" y1="681.30" x2="293.77" y2="683.30" stroke="#000" stroke-width="0.80"/>
<line x1="295.28" y1="681.30" x2="295.28" y2="683.30" stroke="#000" stroke-width="0.80"/>
<line x1="296.61" y1="681.30" x2="296.61" y2="683.30" stroke="#000" stroke-width="0.80"/>
<line x1="305.63" y1="681.30" x2="305.63" y2="683.30" stroke="#000" stroke-width="0.80"/>
<line x1="310.21" y1="681.30" x2="310.21" y2="683.30" stroke="#000" stroke-width="0.80"/>
<line x1="313.45" y1="681.30" x2="313.45" y2="683.30" stroke="#000" stroke-width="0.80"/>
<line x1="315.97" y1="681.30" x2="315.97" y2="683.30" stroke="#000" stroke-width="0.80"/>
<line x1="318.03" y1="681.30" x2="318.03" y2="683.30" stroke="#000" stroke-width="0.80"/>
<line x1="319.77" y1="681.30" x2="319.77" y2="683.30" stroke="#000" stroke-width="0.80"/>
<line x1="321.28" y1="681.30" x2="321.28" y2="683.30" stroke="#000" stroke-width="0.80"/>
<line x1="322.61" y1="681.30" x2="322.61" y2="683.30" stroke="#000" stroke-width="0.80"/>
<line x1="329.28" y1="681.30" x2="329.28" y2="683.30" stroke="#000" stroke-width="0.80"/>
<line x1="332.48" y1="681.30" x2="332.48" y2="683.30" stroke="#000" stroke-width="0.80"/>
<line x1="334.76" y1="681.30" x2="334.76" y2="683.30" stroke="#000" stroke-width="0.80"/>
<line x1="336.52" y1="681.30" x2="336.52" y2="683.30" stroke="#000" stroke-width="0.80"/>
<line x1="337.96" y1="681.30" x2="337.96" y2="683.30" stroke="#000" stroke-width="0.80"/>
<line x1="339.18" y1="681.30" x2="339.18" y2="683.30" stroke="#000" stroke-width="0.80"/>
<line x1="340.24" y1="681.30" x2="340.24" y2="683.30" stroke="#000" stroke-width="0.80"/>
<line x1="341.17" y1="681.30" x2="341.17" y2="683.30" stroke="#000" stroke-width="0.80"/>
<text x="228.30" y="699.30" font-size="6.00" fill="#333" text-anchor="start" stroke="#333" stroke-width="0.3">0</text>
<text x="239.95" y="699.30" font-size="6.00" fill="#333" text-anchor="start" textLength="6.80" lengthAdjust="spacingAndGlyphs" stroke="#333" stroke-width="0.3">10</text>
<text x="247.35" y="693.70" font-size="6.60" fill="#333" text-anchor="start" stroke="#333" stroke-width="0.3">2</text>
<text x="267.50" y="699.30" font-size="6.00" fill="#333" text-anchor="start" textLength="6.80" lengthAdjust="spacingAndGlyphs" stroke="#333" stroke-width="0.3">10</text>
<text x="274.90" y="693.70" font-size="6.60" fill="#333" text-anchor="start" stroke="#333" stroke-width="0.3">3</text>
<text x="294.50" y="699.30" font-size="6.00" fill="#333" text-anchor="start" textLength="6.80" lengthAdjust="spacingAndGlyphs" stroke="#333" stroke-width="0.3">10</text>
<text x="301.90" y="693.70" font-size="6.60" fill="#333" text-anchor="start" stroke="#333" stroke-width="0.3">4</text>
<text x="320.90" y="699.30" font-size="6.00" fill="#333" text-anchor="start" textLength="6.80" lengthAdjust="spacingAndGlyphs" stroke="#333" stroke-width="0.3">10</text>
<text x="328.30" y="693.70" font-size="6.60" fill="#333" text-anchor="start" stroke="#333" stroke-width="0.3">5</text>
<text x="277.12" y="578.20" font-size="24.80" fill="#000" stroke="#000" stroke-width="0.45" textLength="63.69" lengthAdjust="spacingAndGlyphs">24.39</text>
<text x="301.05" y="677.60" font-size="17.50" fill="#000" stroke="#000" stroke-width="0.45" textLength="41.35" lengthAdjust="spacingAndGlyphs">75.61</text>
<line x1="429.20" y1="556.00" x2="429.20" y2="679.60" stroke="#b0b0b0" stroke-width="1.00"/>
<line x1="385.00" y1="640.60" x2="509.60" y2="640.60" stroke="#b0b0b0" stroke-width="1.00"/>
<path d="M430.5 650.0 L433.0 647.5 L438.0 647.0 L443.0 648.0 L448.0 647.5 L453.0 648.0 L458.0 650.0 L461.0 654.0 L462.5 660.0 L463.0 667.0 L462.5 673.0 L461.5 678.5 L450.0 679.0 L442.0 677.0 L436.0 673.5 L430.5 672.0 Z" fill="#000"/>
<path d="M430.3 654.7h.1m17.8 -9.9h.1m11.5 7.2h.1m-29.7 14.1h.1m34 4.9h.1m-33.1 -25.9h.1m7.2 30.1h.1m17.9 4h.1m-23.9 -34h.1m12.3 32.8h.1m-9.3 -2.8h.1m8.8 -28.3h.1m18.7 18.9h.1m-22.8 12h.1m21.5 -24.6h.1m-32.6 -2.2h.1m27.2 -1.4h.1m-0.8 -4.2h.1m-13.8 -1.3h.1m1 33.6h.1m5.4 -33h.1m-6.6 34.1h.1m-8.5 -5.3h.1m2.9 1.3h.1m25.7 -4.8h.1m-3.4 -21.7h.1m-29.8 8.2h.1m9.9 -9.1h.1m24.3 25.1h.1m-31.3 -25.4h.1m16.2 -0.8h.1m-0.6 1.3h.1m16.5 24.9h.1m-2.7 -18.5h.1m-0.2 13.6h.1m-15.3 11.6h.1m15.3 -5.8h.1m-31.7 -25.3h.1m-2.2 3.6h.1m1.8 23.6h.1m31.4 0.1h.1m-0.5 1.9h.1m-29 -1.8h.1m27.3 -24.7h.1m2.9 9.8h.1m-10.6 18.6h.1m9.2 -9h.1m1 -17.7h.1m-16.5 26.5h.1m-1.1 -33.1h.1m15.1 32.9h.1m-7.9 -30.4h.1m9.1 5.2h.1m-0.2 8.2h.1m-4.9 -12h.1m-7.6 -2.6h.1m-2 -1h.1m-11.6 28.7h.1m25.8 -10.3h.1m-6.8 -18.2h.1m-18.2 -0.1h.1m10.5 -0.1h.1m15.8 29.6h.1m-0.2 -8h.1m-5.6 -17.2h.1m-22.3 26.5h.1m6.6 1.5h.1m-13 -30.2h.1m4.6 -1.3h.1m29.8 25.8h.1m-17.9 5.8h.1m-17.7 -19.1h.1m33 15h.1m-19.3 -30.2h.1m18.3 28.7h.1m-9.2 -25.8h.1m-21.7 -2.5h.1m17.5 1.5h.1m13.6 32.9h.1m-0.5 -16.3h.1m-31.6 9.8h.1m2.3 1.4h.1m28.5 4.9h.1m-0.4 0.1h.1m1.4 -20.7h.1m-0.6 1.9h.1m-5.1 -11.4h.1m-21.7 25.2h.1m27.3 -2.6h.1m-28.8 1.9h.1m27.9 -8h.1m-26.3 -18.4h.1m25.1 8.1h.1m-31.7 -7.5h.1m-0.7 10.6h.1m30.1 -6.8h.1m-14 -4.7h.1m17 17h.1m-17.9 -16.2h.1m15.4 1.7h.1m-28.5 -3.1h.1m3.6 31.3h.1m12.7 1.6h.1m13.8 -8.2h.1m-20 7h.1m11.8 -30.6h.1m10.6 19.2h.1m-0.8 0.2h.1m-24.5 10.5h.1m14.5 -30.8h.1m9.9 14.3h.1m-31.1 12.7h.1m26.8 -19.1h.1m2.1 24.2h.1m-10.7 0.6h.1m9.2 -0.2h.1m-20.1 -0.1h.1m11 -31.8h.1m-15.1 28.1h.1m25 2.6h.1m0.2 -15.5h.1m-7.1 -13.6h.1m6.3 15.3h.1m-17.2 15.4h.1m-14.8 -6.2h.1m13.3 -26.4h.1m-0.5 -0.9h.1m18.5 14.2h.1m-3.7 -10.6h.1m-11.1 29.7h.1m11.7 -0.3h.1m-10.6 -31.2h.1m-19.2 21.9h.1m33 -11.6h.1m1.1 -3.3h.1m-1.6 15.7h.1m-7.3 -22.1h.1m-11.4 -0.4h.1m18.5 16.7h.1m-32.5 -16.4h.1m-0.9 10.4h.1m31.2 -5.7h.1m-29 -6.8h.1m0.3 27.7h.1m29.5 -15.7h.1m-31.1 -12.9h.1m33.9 25.4h.1m-10.1 -24.3h.1m-22.9 -1.3h.1m17.3 2.8h.1m-16.2 27.3h.1m26.1 -26.1h.1m0.9 5.1h.1m-23.3 -6.9h.1m22.1 31.6h.1m-13.2 -0.2h.1m16.5 -10h.1m-21.1 9.9h.1m6.9 -31.9h.1m-3.8 32.9h.1m5.1 -0.3h.1m-5.1 -31.7h.1m1.9 31.4h.1m14.4 -1.2h.1m-0.7 1.2h.1m0.8 -16.2h.1m-3.7 -12h.1m-1.4 -0.2h.1m6.5 19.6h.1m-33.4 -21.6h.1m5.5 26.3h.1m-1.6 -0.4h.1m23.4 4.8h.1m-23.2 -5h.1m-6.1 -7.8h.1m12.8 12.4h.1m-6.1 -33h.1m-6.7 4.8h.1m32.9 8.9h.1m-28.4 -12.8h.1m25 5.2h.1m-18.6 27.4h.1m1.6 -1.5h.1m19 1.4h.1m-7.1 0h.1m-11.4 -0.4h.1m21.8 -13.3h.1m-33.5 8.3h.1m29.3 3.4h.1m-31.8 -9.4h.1m29.3 -17.6h.1m-25.4 -3.6h.1m17.2 -0.6h.1m4.2 33.4h.1m-16 -3.2h.1m22.8 2.3h.1m-33.1 -8.1h.1m7.1 5.1h.1m21.6 -27.3h.1m-21.8 -1.4h.1m28.3 19.3h.1m-1 8.4h.1m-1.4 1.1h.1m-1.2 -17.8h.1m-19.9 -10.8h.1m20.8 13.7h.1m-28.4 13.6h.1m8.8 -26.9h.1m19.5 17.6h.1m0.3 4.7h.1m-25.7 -23.7h.1m8 33.3h.1m-4.2 -0.4h.1m23.2 -17.3h.1m-31 -14.2h.1m28.3 31.5h.1m-29.3 -4.5h.1m30.1 -3.8h.1m-2.2 -13.1h.1m-16.9 -11.7h.1m18.2 27.2h.1m-11.5 6.2h.1m8.5 -27.8h.1m-1.6 -3.5h.1m6.9 13.1h.1m-28 14.9h.1m24.6 -22.3h.1m-31.7 19h.1m6.9 4.5h.1m24.8 -16.4h.1m0.2 -5.9h.1m-29.4 19.7h.1m28.9 -8.8h.1m-0.3 1.9h.1m-23.4 9h.1m22.8 -22h.1m-14.9 -9.6h.1m4.3 34.2h.1m-19.7 -34.3h.1m25.8 34.5h.1m-16.8 -1.8h.1m-8.6 -2.6h.1m28.3 -21.3h.1m1.2 11h.1m-0.3 8.5h.1m-4 -23.2h.1m-17.3 -2.8h.1m10.6 -0.8h.1m5.6 32.6h.1m4.1 -20.9h.1m-6.5 -9.5h.1m-19.5 25.9h.1m-6.6 -4h.1m4.2 -24.8h.1m28 2.6h.1m1.4 16.5h.1m-28 -17.9h.1m0 -0.7h.1m-6 8.1h.1m32.6 22.9h.1m-31.8 -4h.1m33.6 -7.1h.1m-27.7 -19.5h.1m12.6 1.2h.1m3.5 -0.2h.1m-5.3 -1.1h.1m14.3 19.6h.1m-28.8 7.1h.1m19 -28.9h.1m-23.3 16.5h.1m2.1 16.4h.1m13.5 1.3h.1m-2.4 -33h.1m10.4 33.7h.1m10.6 -4.1h.1m-2.7 -0.1h.1m-27.1 0.1h.1m27 -15.6h.1m-21.7 17.5h.1m-4.7 -3.1h.1m18.7 -27.9h.1m9 25.3h.1m-1.1 -16.6h.1m-4.6 24.2h.1m-24.4 -4.8h.1m11.7 -26.9h.1m-8.9 28.6h.1m27.1 -20.7h.1m-22.3 23.1h.1m-8.6 -2.1h.1m18.3 -28.9h.1m7 1.7h.1m3.2 11.7h.1m0.9 2.2h.1m-18.7 -18.3h.1m19.6 21.7h.1m-7.9 -17.3h.1m-24.2 -2.6h.1m7 0.2h.1m-1.7 -1.3h.1m-1.9 32.8h.1m-4.6 -0.2h.1m3.4 -2.5h.1m3.3 4h.1m-6.9 -5.5h.1m10.2 3.6h.1m-4.5 1.9h.1m1.6 -1.7h.1m1 0.6h.1m-7.9 -3.1h.1m7.2 1.2h.1m-9.9 -1.3h.1m11.3 3.5h.1m-10.6 0h.1m1.2 -1.8h.1m4.2 -1.9h.1m1.6 2.5h.1m-7.2 -2.3h.1m4.9 1.7h.1m-3.5 -3.7h.1m2.1 3.6h.1m-0.8 1.3h.1m7.5 -1.2h.1m-2.7 -0.1h.1m-0.7 2.6h.1m-8.5 -5.2h.1m1.7 1.5h.1m9.3 1.2h.1m-8.6 -1.3h.1m-2.9 -4h.1m6.5 3.7h.1m-6 -0.9h.1m5 4.7h.1m-4.9 -0.3h.1m-0.7 -2.9h.1m1 2.6h.1m-0.5 -1.3h.1m9.3 1.5h.1m-2.8 -3.6h.1m-5.1 2.2h.1m11.9 -85.1h.1m1.9 0.7h.1m6.7 2h.1m-13.7 1.4h.1m-10.3 11.5h.1m7.4 -4h.1m3.3 -2.1h.1m6.7 2.1h.1m1.3 2h.1m-6.9 2h.1m-0.8 1.4h.1m8.7 1.3h.1m-11.6 2.1h.1m2.6 0.7h.1m4.6 -2.8h.1m6.7 5.5h.1m-10.9 0h.1m2.6 2.7h.1m-14.4 3.4h.1m1.3 -0.7h.1m8.7 -1.3h.1m7.4 1.3h.1m7.4 0.7h.1m-19.2 2.7h.1m2.7 -0.7h.1m12.1 0h.1m-11 4.8h.1m1.3 -0.7h.1m2.6 -0.7h.1m4 1.4h.1m4.6 0.7h.1m-19.1 2.7h.1m3.3 0.7h.1m5.3 0.7h.1m2.6 0h.1m4 0.6h.1m-17.1 2.8h.1m4.7 0.6h.1m6.7 -0.6h.1m2.6 -0.7h.1m-6.9 3.4h.1m-7.6 -4.4h.1m20.8 1h.1m-0.9 -8h.1m-7.5 -6.8h.1m9.2 -7.4h.1m-8 13.4h.1m-4.8 8h.1m8 -18.9h.1m-15.2 12.9h.1m6.2 2.3h.1m8.5 2.7h.1m-10.8 -8.1h.1m3.3 -0.1h.1m4 -7.3h.1m-4.5 -5h.1m1.8 5.1h.1m1.6 -2.6h.1m-4 2.6h.1m2.3 12.9h.1m-1.2 -3h.1m0 -2h.1m2 0.4h.1m0.7 10.6h.1m-7.7 -19.6h.1m0.9 -3.1h.1m-2.1 -1.7h.1m4.1 18.7h.1m3.9 -1.3h.1m-8.1 -1.8h.1m4.3 -11.9h.1m0 -5.1h.1m7.5 -5.1h.1m3.9 32.4h.1m-22.4 -7h.1m-1.9 -12.6h.1m16.1 11.5h.1m-5.5 -7.1h.1m-1.6 15.1h.1m9.2 -36.8h.1m-11.5 30.3h.1m-0.7 6h.1m3.5 -12.2h.1m4.1 -4.9h.1m-4.4 -4.9h.1m1.3 5.2h.1" stroke="#000" stroke-width="1.50" stroke-linecap="square" fill="none"/>
<path d="M441.7 668.2h.1m-9.9 -4.1h.1m-0.6 4.2h.1m6.9 -19.6h.1m1.8 18.9h.1m1.6 2.9h.1m-4.4 -18.9h.1m-1.1 7.7h.1m-4.1 12.1h.1m6.4 -22.4h.1m-4.1 21h.1m4.2 -16.3h.1m-2.3 7.7h.1m-5.9 -0.8h.1m7.3 4h.1m0.9 4.7h.1m-5.9 2.2h.1m5.7 -14.3h.1m1.6 16.1h.1m-8.8 -19.5h.1m4.5 20.5h.1m0.9 -17.1h.1m-2.1 0.7h.1m-0.5 12.2h.1m5.5 -15.5h.1m-1 -4.8h.1m-9.5 15.5h.1m28.7 -8h.1m-8.6 4.7h.1m-11 -8.4h.1m10.3 9.7h.1m6.4 -6.6h.1m-8 16h.1m-5 -6.1h.1m15 4.9h.1" stroke="#fff" stroke-width="0.90" stroke-linecap="square" fill="none"/>
<rect x="463.40" y="664.60" width="46.20" height="15.00" fill="#fff"/>
<rect x="385.00" y="556.00" width="124.60" height="123.60" stroke="#000" stroke-width="1.40" fill="none"/>
<line x1="381.50" y1="567.80" x2="385.00" y2="567.80" stroke="#000" stroke-width="1.00"/>
<line x1="383.00" y1="587.37" x2="385.00" y2="587.37" stroke="#000" stroke-width="0.90"/>
<line x1="383.00" y1="582.44" x2="385.00" y2="582.44" stroke="#000" stroke-width="0.90"/>
<line x1="383.00" y1="578.94" x2="385.00" y2="578.94" stroke="#000" stroke-width="0.90"/>
<line x1="383.00" y1="576.23" x2="385.00" y2="576.23" stroke="#000" stroke-width="0.90"/>
<line x1="383.00" y1="574.01" x2="385.00" y2="574.01" stroke="#000" stroke-width="0.90"/>
<line x1="383.00" y1="572.14" x2="385.00" y2="572.14" stroke="#000" stroke-width="0.90"/>
<line x1="383.00" y1="570.51" x2="385.00" y2="570.51" stroke="#000" stroke-width="0.90"/>
<line x1="383.00" y1="569.08" x2="385.00" y2="569.08" stroke="#000" stroke-width="0.90"/>
<line x1="381.50" y1="595.60" x2="385.00" y2="595.60" stroke="#000" stroke-width="1.00"/>
<line x1="383.00" y1="615.17" x2="385.00" y2="615.17" stroke="#000" stroke-width="0.90"/>
<line x1="383.00" y1="610.24" x2="385.00" y2="610.24" stroke="#000" stroke-width="0.90"/>
<line x1="383.00" y1="606.74" x2="385.00" y2="606.74" stroke="#000" stroke-width="0.90"/>
<line x1="383.00" y1="604.03" x2="385.00" y2="604.03" stroke="#000" stroke-width="0.90"/>
<line x1="383.00" y1="601.81" x2="385.00" y2="601.81" stroke="#000" stroke-width="0.90"/>
<line x1="383.00" y1="599.94" x2="385.00" y2="599.94" stroke="#000" stroke-width="0.90"/>
<line x1="383.00" y1="598.31" x2="385.00" y2="598.31" stroke="#000" stroke-width="0.90"/>
<line x1="383.00" y1="596.88" x2="385.00" y2="596.88" stroke="#000" stroke-width="0.90"/>
<line x1="381.50" y1="623.90" x2="385.00" y2="623.90" stroke="#000" stroke-width="1.00"/>
<line x1="383.00" y1="643.47" x2="385.00" y2="643.47" stroke="#000" stroke-width="0.90"/>
<line x1="383.00" y1="638.54" x2="385.00" y2="638.54" stroke="#000" stroke-width="0.90"/>
<line x1="383.00" y1="635.04" x2="385.00" y2="635.04" stroke="#000" stroke-width="0.90"/>
<line x1="383.00" y1="632.33" x2="385.00" y2="632.33" stroke="#000" stroke-width="0.90"/>
<line x1="383.00" y1="630.11" x2="385.00" y2="630.11" stroke="#000" stroke-width="0.90"/>
<line x1="383.00" y1="628.24" x2="385.00" y2="628.24" stroke="#000" stroke-width="0.90"/>
<line x1="383.00" y1="626.61" x2="385.00" y2="626.61" stroke="#000" stroke-width="0.90"/>
<line x1="383.00" y1="625.18" x2="385.00" y2="625.18" stroke="#000" stroke-width="0.90"/>
<line x1="383.00" y1="559.37" x2="385.00" y2="559.37" stroke="#000" stroke-width="0.90"/>
<line x1="383.00" y1="554.44" x2="385.00" y2="554.44" stroke="#000" stroke-width="0.90"/>
<line x1="381.50" y1="654.00" x2="385.00" y2="654.00" stroke="#000" stroke-width="1.00"/>
<line x1="381.50" y1="667.00" x2="385.00" y2="667.00" stroke="#000" stroke-width="1.00"/>
<line x1="383.00" y1="657.20" x2="385.00" y2="657.20" stroke="#000" stroke-width="0.90"/>
<line x1="383.00" y1="660.20" x2="385.00" y2="660.20" stroke="#000" stroke-width="0.90"/>
<line x1="383.00" y1="663.00" x2="385.00" y2="663.00" stroke="#000" stroke-width="0.90"/>
<line x1="383.00" y1="670.50" x2="385.00" y2="670.50" stroke="#000" stroke-width="0.90"/>
<line x1="383.00" y1="674.00" x2="385.00" y2="674.00" stroke="#000" stroke-width="0.90"/>
<line x1="383.00" y1="677.00" x2="385.00" y2="677.00" stroke="#000" stroke-width="0.90"/>
<line x1="383.00" y1="650.50" x2="385.00" y2="650.50" stroke="#000" stroke-width="0.90"/>
<line x1="383.00" y1="647.50" x2="385.00" y2="647.50" stroke="#000" stroke-width="0.90"/>
<line x1="383.00" y1="644.50" x2="385.00" y2="644.50" stroke="#000" stroke-width="0.90"/>
<line x1="383.00" y1="641.50" x2="385.00" y2="641.50" stroke="#000" stroke-width="0.90"/>
<line x1="383.00" y1="638.50" x2="385.00" y2="638.50" stroke="#000" stroke-width="0.90"/>
<line x1="383.00" y1="635.50" x2="385.00" y2="635.50" stroke="#000" stroke-width="0.90"/>
<line x1="383.00" y1="632.00" x2="385.00" y2="632.00" stroke="#000" stroke-width="0.90"/>
<text x="368.40" y="572.20" font-size="6.00" fill="#333" text-anchor="start" textLength="6.80" lengthAdjust="spacingAndGlyphs" stroke="#333" stroke-width="0.3">10</text>
<text x="375.70" y="566.90" font-size="6.60" fill="#333" text-anchor="start" stroke="#333" stroke-width="0.3">5</text>
<text x="368.40" y="600.00" font-size="6.00" fill="#333" text-anchor="start" textLength="6.80" lengthAdjust="spacingAndGlyphs" stroke="#333" stroke-width="0.3">10</text>
<text x="375.70" y="594.70" font-size="6.60" fill="#333" text-anchor="start" stroke="#333" stroke-width="0.3">4</text>
<text x="368.40" y="628.30" font-size="6.00" fill="#333" text-anchor="start" textLength="6.80" lengthAdjust="spacingAndGlyphs" stroke="#333" stroke-width="0.3">10</text>
<text x="375.70" y="623.00" font-size="6.60" fill="#333" text-anchor="start" stroke="#333" stroke-width="0.3">3</text>
<text x="368.40" y="658.40" font-size="6.00" fill="#333" text-anchor="start" textLength="6.80" lengthAdjust="spacingAndGlyphs" stroke="#333" stroke-width="0.3">10</text>
<text x="375.70" y="653.10" font-size="6.60" fill="#333" text-anchor="start" stroke="#333" stroke-width="0.3">2</text>
<text x="372.40" y="670.60" font-size="6.00" fill="#333" text-anchor="start" stroke="#333" stroke-width="0.3">0</text>
<line x1="396.20" y1="679.60" x2="396.20" y2="683.10" stroke="#000" stroke-width="1.00"/>
<line x1="409.50" y1="679.60" x2="409.50" y2="683.10" stroke="#000" stroke-width="1.00"/>
<line x1="437.50" y1="679.60" x2="437.50" y2="683.10" stroke="#000" stroke-width="1.00"/>
<line x1="463.50" y1="679.60" x2="463.50" y2="683.10" stroke="#000" stroke-width="1.00"/>
<line x1="489.50" y1="679.60" x2="489.50" y2="683.10" stroke="#000" stroke-width="1.00"/>
<line x1="386.50" y1="679.60" x2="386.50" y2="681.60" stroke="#000" stroke-width="0.80"/>
<line x1="389.20" y1="679.60" x2="389.20" y2="681.60" stroke="#000" stroke-width="0.80"/>
<line x1="391.90" y1="679.60" x2="391.90" y2="681.60" stroke="#000" stroke-width="0.80"/>
<line x1="394.60" y1="679.60" x2="394.60" y2="681.60" stroke="#000" stroke-width="0.80"/>
<line x1="397.30" y1="679.60" x2="397.30" y2="681.60" stroke="#000" stroke-width="0.80"/>
<line x1="400.00" y1="679.60" x2="400.00" y2="681.60" stroke="#000" stroke-width="0.80"/>
<line x1="402.70" y1="679.60" x2="402.70" y2="681.60" stroke="#000" stroke-width="0.80"/>
<line x1="405.40" y1="679.60" x2="405.40" y2="681.60" stroke="#000" stroke-width="0.80"/>
<line x1="408.10" y1="679.60" x2="408.10" y2="681.60" stroke="#000" stroke-width="0.80"/>
<line x1="412.50" y1="679.60" x2="412.50" y2="681.60" stroke="#000" stroke-width="0.80"/>
<line x1="415.50" y1="679.60" x2="415.50" y2="681.60" stroke="#000" stroke-width="0.80"/>
<line x1="418.50" y1="679.60" x2="418.50" y2="681.60" stroke="#000" stroke-width="0.80"/>
<line x1="421.50" y1="679.60" x2="421.50" y2="681.60" stroke="#000" stroke-width="0.80"/>
<line x1="424.50" y1="679.60" x2="424.50" y2="681.60" stroke="#000" stroke-width="0.80"/>
<line x1="427.50" y1="679.60" x2="427.50" y2="681.60" stroke="#000" stroke-width="0.80"/>
<line x1="430.50" y1="679.60" x2="430.50" y2="681.60" stroke="#000" stroke-width="0.80"/>
<line x1="433.50" y1="679.60" x2="433.50" y2="681.60" stroke="#000" stroke-width="0.80"/>
<line x1="445.33" y1="679.60" x2="445.33" y2="681.60" stroke="#000" stroke-width="0.80"/>
<line x1="449.91" y1="679.60" x2="449.91" y2="681.60" stroke="#000" stroke-width="0.80"/>
<line x1="453.15" y1="679.60" x2="453.15" y2="681.60" stroke="#000" stroke-width="0.80"/>
<line x1="455.67" y1="679.60" x2="455.67" y2="681.60" stroke="#000" stroke-width="0.80"/>
<line x1="457.73" y1="679.60" x2="457.73" y2="681.60" stroke="#000" stroke-width="0.80"/>
<line x1="459.47" y1="679.60" x2="459.47" y2="681.60" stroke="#000" stroke-width="0.80"/>
<line x1="460.98" y1="679.60" x2="460.98" y2="681.60" stroke="#000" stroke-width="0.80"/>
<line x1="462.31" y1="679.60" x2="462.31" y2="681.60" stroke="#000" stroke-width="0.80"/>
<line x1="471.33" y1="679.60" x2="471.33" y2="681.60" stroke="#000" stroke-width="0.80"/>
<line x1="475.91" y1="679.60" x2="475.91" y2="681.60" stroke="#000" stroke-width="0.80"/>
<line x1="479.15" y1="679.60" x2="479.15" y2="681.60" stroke="#000" stroke-width="0.80"/>
<line x1="481.67" y1="679.60" x2="481.67" y2="681.60" stroke="#000" stroke-width="0.80"/>
<line x1="483.73" y1="679.60" x2="483.73" y2="681.60" stroke="#000" stroke-width="0.80"/>
<line x1="485.47" y1="679.60" x2="485.47" y2="681.60" stroke="#000" stroke-width="0.80"/>
<line x1="486.98" y1="679.60" x2="486.98" y2="681.60" stroke="#000" stroke-width="0.80"/>
<line x1="488.31" y1="679.60" x2="488.31" y2="681.60" stroke="#000" stroke-width="0.80"/>
<line x1="494.98" y1="679.60" x2="494.98" y2="681.60" stroke="#000" stroke-width="0.80"/>
<line x1="498.18" y1="679.60" x2="498.18" y2="681.60" stroke="#000" stroke-width="0.80"/>
<line x1="500.46" y1="679.60" x2="500.46" y2="681.60" stroke="#000" stroke-width="0.80"/>
<line x1="502.22" y1="679.60" x2="502.22" y2="681.60" stroke="#000" stroke-width="0.80"/>
<line x1="503.66" y1="679.60" x2="503.66" y2="681.60" stroke="#000" stroke-width="0.80"/>
<line x1="504.88" y1="679.60" x2="504.88" y2="681.60" stroke="#000" stroke-width="0.80"/>
<line x1="505.94" y1="679.60" x2="505.94" y2="681.60" stroke="#000" stroke-width="0.80"/>
<line x1="506.87" y1="679.60" x2="506.87" y2="681.60" stroke="#000" stroke-width="0.80"/>
<text x="394.00" y="697.60" font-size="6.00" fill="#333" text-anchor="start" stroke="#333" stroke-width="0.3">0</text>
<text x="405.65" y="697.60" font-size="6.00" fill="#333" text-anchor="start" textLength="6.80" lengthAdjust="spacingAndGlyphs" stroke="#333" stroke-width="0.3">10</text>
<text x="413.05" y="692.00" font-size="6.60" fill="#333" text-anchor="start" stroke="#333" stroke-width="0.3">2</text>
<text x="433.20" y="697.60" font-size="6.00" fill="#333" text-anchor="start" textLength="6.80" lengthAdjust="spacingAndGlyphs" stroke="#333" stroke-width="0.3">10</text>
<text x="440.60" y="692.00" font-size="6.60" fill="#333" text-anchor="start" stroke="#333" stroke-width="0.3">3</text>
<text x="460.20" y="697.60" font-size="6.00" fill="#333" text-anchor="start" textLength="6.80" lengthAdjust="spacingAndGlyphs" stroke="#333" stroke-width="0.3">10</text>
<text x="467.60" y="692.00" font-size="6.60" fill="#333" text-anchor="start" stroke="#333" stroke-width="0.3">4</text>
<text x="486.60" y="697.60" font-size="6.00" fill="#333" text-anchor="start" textLength="6.80" lengthAdjust="spacingAndGlyphs" stroke="#333" stroke-width="0.3">10</text>
<text x="494.00" y="692.00" font-size="6.60" fill="#333" text-anchor="start" stroke="#333" stroke-width="0.3">5</text>
<text x="458.20" y="578.30" font-size="24.80" fill="#000" stroke="#000" stroke-width="0.45" textLength="51.12" lengthAdjust="spacingAndGlyphs">3.97</text>
<text x="463.77" y="677.60" font-size="17.50" fill="#000" stroke="#000" stroke-width="0.45" textLength="44.52" lengthAdjust="spacingAndGlyphs">96.03</text>
<text transform="translate(20.70 657.47) rotate(-90)" font-size="23.84" fill="#000" stroke="#000" stroke-width="0.45" textLength="57.35" lengthAdjust="spacingAndGlyphs">IFN-γ</text>
<path d="M12.6 666.0 L12.6 714.5 L61.5 714.5" stroke="#555" stroke-width="1.1" fill="none"/>
<path d="M12.6 662.8 L11.0 667.4 L14.2 667.4 Z" fill="#555"/>
<path d="M64.8 714.5 L60.2 712.9 L60.2 716.1 Z" fill="#555"/>
<text x="70.29" y="721.90" font-size="23.40" fill="#000" stroke="#000" stroke-width="0.45" textLength="47.54" lengthAdjust="spacingAndGlyphs">CD8</text>
</svg>
</body></html>
